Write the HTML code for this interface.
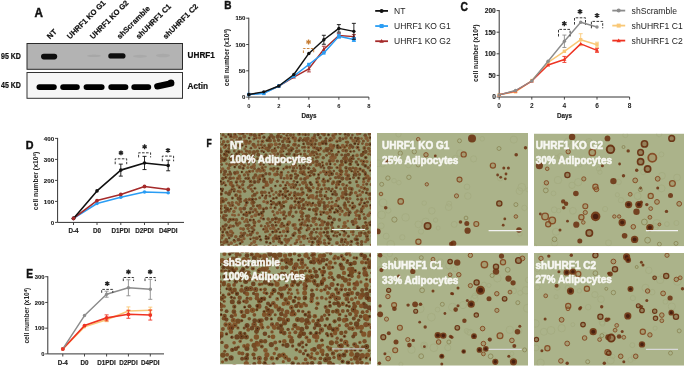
<!DOCTYPE html>
<html><head><meta charset="utf-8"><style>
html,body{margin:0;padding:0;background:#fff;}
body{width:685px;height:367px;overflow:hidden;}
svg text{font-family:"Liberation Sans", sans-serif;}
</style></head><body>
<svg width="685" height="367" viewBox="0 0 685 367" style="display:block;will-change:transform;filter:blur(0.2px)">
<defs><filter id="bblur" x="-10%" y="-10%" width="120%" height="120%"><feGaussianBlur stdDeviation="0.4"/></filter><filter id="blur" x="-5%" y="-5%" width="110%" height="110%"><feGaussianBlur stdDeviation="0.55"/></filter></defs>
<text x="0" y="0" font-size="12.6" font-weight="bold" fill="#111" stroke="#111" stroke-width="0.45" transform="translate(34.6 17) scale(0.93 1)">A</text>
<text x="50" y="39.5" font-size="7.6" font-weight="bold" text-anchor="start" fill="#111" transform="rotate(-45 50 39.5)" stroke="#111" stroke-width="0.2">NT</text>
<text x="70" y="39.5" font-size="7.6" font-weight="bold" text-anchor="start" fill="#111" transform="rotate(-45 70 39.5)" stroke="#111" stroke-width="0.2">UHRF1 KO G1</text>
<text x="93" y="39.5" font-size="7.6" font-weight="bold" text-anchor="start" fill="#111" transform="rotate(-45 93 39.5)" stroke="#111" stroke-width="0.2">UHRF1 KO G2</text>
<text x="120" y="39.5" font-size="7.6" font-weight="bold" text-anchor="start" fill="#111" transform="rotate(-45 120 39.5)" stroke="#111" stroke-width="0.2">shScramble</text>
<text x="139" y="39.5" font-size="7.6" font-weight="bold" text-anchor="start" fill="#111" transform="rotate(-45 139 39.5)" stroke="#111" stroke-width="0.2">shUHRF1 C1</text>
<text x="166" y="39.5" font-size="7.6" font-weight="bold" text-anchor="start" fill="#111" transform="rotate(-45 166 39.5)" stroke="#111" stroke-width="0.2">shUHRF1 C2</text>
<rect x="27" y="43.5" width="155.5" height="25.8" fill="#b3b3b3" stroke="#2a2a2a" stroke-width="1"/>
<rect x="27" y="72.5" width="155.5" height="25.8" fill="#f6f6f6" stroke="#333" stroke-width="1"/>
<g filter="url(#bblur)">
<rect x="41" y="53.8" width="16.2" height="5.6" rx="2.8" fill="#0a0a0a"/>
<rect x="108.3" y="53.2" width="17.2" height="5.4" rx="2.7" fill="#0a0a0a"/>
<ellipse cx="94" cy="55.8" rx="7" ry="1.3" fill="#9e9e9e" opacity="0.6"/>
<ellipse cx="140" cy="56.3" rx="7" ry="1.5" fill="#a0a0a0" opacity="0.5"/>
<ellipse cx="163" cy="55.5" rx="7" ry="1.8" fill="#a0a0a0" opacity="0.5"/>
<rect x="36.5" y="84.2" width="20.3" height="5.8" rx="2.9" fill="#050505"/>
<rect x="60.2" y="84.2" width="19.6" height="5.8" rx="2.9" fill="#050505"/>
<rect x="83.6" y="84.2" width="21" height="5.8" rx="2.9" fill="#050505"/>
<rect x="108.3" y="84.2" width="20.1" height="5.8" rx="2.9" fill="#050505"/>
<rect x="131.3" y="84.2" width="19.9" height="5.8" rx="2.9" fill="#050505"/>
<rect x="154" y="81.6" width="20.5" height="6.4" rx="3.1" fill="#050505" transform="rotate(-12 164.2 84.8)"/>
<ellipse cx="171" cy="82.3" rx="3.2" ry="2.7" fill="#050505"/>
</g>
<text x="0" y="0" font-size="8.2" font-weight="bold" fill="#111" stroke="#111" stroke-width="0.2" transform="translate(1 58.5) scale(0.86 1)">95 KD</text>
<text x="0" y="0" font-size="8.2" font-weight="bold" fill="#111" stroke="#111" stroke-width="0.2" transform="translate(1 88.4) scale(0.86 1)">45 KD</text>
<text x="187.6" y="57.5" font-size="8.2" font-weight="bold" text-anchor="start" fill="#111" stroke="#111" stroke-width="0.2">UHRF1</text>
<text x="187.6" y="89" font-size="8.2" font-weight="bold" text-anchor="start" fill="#111" stroke="#111" stroke-width="0.2">Actin</text>
<text x="0" y="0" font-size="11.4" font-weight="bold" fill="#111" stroke="#111" stroke-width="0.45" transform="translate(224.2 9.2) scale(0.88 1)">B</text>
<path d="M248.8 17.7V97.1H368.88" stroke="#333" stroke-width="1" fill="none"/>
<path d="M246.2 97.1H248.8" stroke="#333" stroke-width="0.9"/>
<text x="245.4" y="99.26" font-size="6.0" font-weight="bold" text-anchor="end" fill="#222" stroke="#222" stroke-width="0.12">0</text>
<path d="M246.2 70.8H248.8" stroke="#333" stroke-width="0.9"/>
<text x="245.4" y="72.96" font-size="6.0" font-weight="bold" text-anchor="end" fill="#222" stroke="#222" stroke-width="0.12">50</text>
<path d="M246.2 44.5H248.8" stroke="#333" stroke-width="0.9"/>
<text x="245.4" y="46.66" font-size="6.0" font-weight="bold" text-anchor="end" fill="#222" stroke="#222" stroke-width="0.12">100</text>
<path d="M246.2 18.2H248.8" stroke="#333" stroke-width="0.9"/>
<text x="245.4" y="20.36" font-size="6.0" font-weight="bold" text-anchor="end" fill="#222" stroke="#222" stroke-width="0.12">150</text>
<path d="M248.8 97.1V99.7" stroke="#333" stroke-width="0.9"/>
<path d="M278.82 97.1V99.7" stroke="#333" stroke-width="0.9"/>
<path d="M308.84 97.1V99.7" stroke="#333" stroke-width="0.9"/>
<path d="M338.86 97.1V99.7" stroke="#333" stroke-width="0.9"/>
<path d="M368.88 97.1V99.7" stroke="#333" stroke-width="0.9"/>
<text x="248.8" y="107.8" font-size="5.8" font-weight="bold" text-anchor="middle" fill="#222">0</text>
<text x="278.82" y="107.8" font-size="5.8" font-weight="bold" text-anchor="middle" fill="#222">2</text>
<text x="308.84" y="107.8" font-size="5.8" font-weight="bold" text-anchor="middle" fill="#222">4</text>
<text x="338.86" y="107.8" font-size="5.8" font-weight="bold" text-anchor="middle" fill="#222">6</text>
<text x="368.88" y="107.8" font-size="5.8" font-weight="bold" text-anchor="middle" fill="#222">8</text>
<text x="309" y="117.5" font-size="6.3" font-weight="bold" text-anchor="middle" fill="#222" stroke="#222" stroke-width="0.15">Days</text>
<text x="229" y="57.6" font-size="6.7" font-weight="bold" text-anchor="middle" fill="#222" transform="rotate(-90 229 57.6)">cell number (x10<tspan font-size="4.3" dy="-2.4">4</tspan><tspan dy="2.4">)</tspan></text>
<path d="M308.84 65.91V71.91M306.84 65.91H310.84M306.84 71.91H310.84" stroke="#a52a2a" stroke-width="0.9" fill="none"/>
<path d="M323.85 46.23V52.23M321.85 46.23H325.85M321.85 52.23H325.85" stroke="#a52a2a" stroke-width="0.9" fill="none"/>
<path d="M338.86 33.56V37.56M336.86 33.56H340.86M336.86 37.56H340.86" stroke="#a52a2a" stroke-width="0.9" fill="none"/>
<path d="M353.87 34.61V38.61M351.87 34.61H355.87M351.87 38.61H355.87" stroke="#a52a2a" stroke-width="0.9" fill="none"/>
<polyline points="248.8,94.47 263.81,92.89 278.82,86.05 293.83,77.11 308.84,68.91 323.85,49.23 338.86,35.56 353.87,36.61" stroke="#a52a2a" stroke-width="1.45" fill="none" stroke-linejoin="round"/>
<path d="M248.8 92.49 L250.78 95.91 L246.82 95.91Z" fill="#a52a2a"/>
<path d="M263.81 90.91 L265.79 94.33 L261.83 94.33Z" fill="#a52a2a"/>
<path d="M278.82 84.07 L280.8 87.49 L276.84 87.49Z" fill="#a52a2a"/>
<path d="M293.83 75.13 L295.81 78.55 L291.85 78.55Z" fill="#a52a2a"/>
<path d="M308.84 66.93 L310.82 70.35 L306.86 70.35Z" fill="#a52a2a"/>
<path d="M323.85 47.25 L325.83 50.67 L321.87 50.67Z" fill="#a52a2a"/>
<path d="M338.86 33.58 L340.84 37 L336.88 37Z" fill="#a52a2a"/>
<path d="M353.87 34.63 L355.85 38.05 L351.89 38.05Z" fill="#a52a2a"/>
<path d="M338.86 34.19V38.19M336.86 34.19H340.86M336.86 38.19H340.86" stroke="#2a9df4" stroke-width="0.9" fill="none"/>
<path d="M353.87 37.5V41.5M351.87 37.5H355.87M351.87 41.5H355.87" stroke="#2a9df4" stroke-width="0.9" fill="none"/>
<polyline points="248.8,94.47 263.81,93.42 278.82,86.05 293.83,76.06 308.84,64.49 323.85,52.92 338.86,36.19 353.87,39.5" stroke="#2a9df4" stroke-width="1.55" fill="none" stroke-linejoin="round"/>
<rect x="247.1" y="92.77" width="3.4" height="3.4" fill="#2a9df4"/>
<rect x="262.11" y="91.72" width="3.4" height="3.4" fill="#2a9df4"/>
<rect x="277.12" y="84.35" width="3.4" height="3.4" fill="#2a9df4"/>
<rect x="292.13" y="74.36" width="3.4" height="3.4" fill="#2a9df4"/>
<rect x="307.14" y="62.79" width="3.4" height="3.4" fill="#2a9df4"/>
<rect x="322.15" y="51.22" width="3.4" height="3.4" fill="#2a9df4"/>
<rect x="337.16" y="34.49" width="3.4" height="3.4" fill="#2a9df4"/>
<rect x="352.17" y="37.8" width="3.4" height="3.4" fill="#2a9df4"/>
<path d="M323.85 35.27V44.27M321.85 35.27H325.85M321.85 44.27H325.85" stroke="#111" stroke-width="0.9" fill="none"/>
<path d="M338.86 24.6V32.2M336.86 24.6H340.86M336.86 32.2H340.86" stroke="#111" stroke-width="0.9" fill="none"/>
<path d="M353.87 23.35V39.35M351.87 23.35H355.87M351.87 39.35H355.87" stroke="#111" stroke-width="0.9" fill="none"/>
<polyline points="248.8,94.47 263.81,91.84 278.82,86.05 293.83,74.48 308.84,53.44 323.85,39.77 338.86,28.4 353.87,31.35" stroke="#111" stroke-width="1.45" fill="none" stroke-linejoin="round"/>
<circle cx="248.8" cy="94.47" r="1.7" fill="#111"/>
<circle cx="263.81" cy="91.84" r="1.7" fill="#111"/>
<circle cx="278.82" cy="86.05" r="1.7" fill="#111"/>
<circle cx="293.83" cy="74.48" r="1.7" fill="#111"/>
<circle cx="308.84" cy="53.44" r="1.7" fill="#111"/>
<circle cx="323.85" cy="39.77" r="1.7" fill="#111"/>
<circle cx="338.86" cy="28.4" r="1.7" fill="#111"/>
<circle cx="353.87" cy="31.35" r="1.7" fill="#111"/>
<path d="M303.4 53V48.5H313.7V53" stroke="#c67c32" stroke-width="0.9" fill="none" stroke-dasharray="2.6 1.4"/><path d="M308.55 39.41L308.55 44.59M306.31 40.71L310.79 43.29M310.79 40.71L306.31 43.29" stroke="#c67c32" stroke-width="1.35" stroke-linecap="butt"/>
<path d="M375.2 10.9H388" stroke="#111" stroke-width="1.8"/>
<circle cx="381.6" cy="10.9" r="2.0" fill="#111"/>
<text x="394" y="14" font-size="8.5" font-weight="normal" text-anchor="start" fill="#222">NT</text>
<path d="M375.2 26.05H388" stroke="#2a9df4" stroke-width="1.8"/>
<rect x="379.6" y="24.05" width="4" height="4" fill="#2a9df4"/>
<text x="394" y="29.15" font-size="8.5" font-weight="normal" text-anchor="start" fill="#222">UHRF1 KO G1</text>
<path d="M375.2 41.2H388" stroke="#a52a2a" stroke-width="1.8"/>
<path d="M381.6 39 L383.8 42.8 L379.4 42.8Z" fill="#a52a2a"/>
<text x="394" y="44.3" font-size="8.5" font-weight="normal" text-anchor="start" fill="#222">UHRF1 KO G2</text>
<text x="0" y="0" font-size="12.2" font-weight="bold" fill="#111" stroke="#111" stroke-width="0.45" transform="translate(460.6 11.1) scale(0.84 1)">C</text>
<path d="M499.2 10.1V97H629.6" stroke="#333" stroke-width="1" fill="none"/>
<path d="M496.6 97H499.2" stroke="#333" stroke-width="0.9"/>
<text x="495.8" y="99.38" font-size="6.6" font-weight="bold" text-anchor="end" fill="#222" stroke="#222" stroke-width="0.12">0</text>
<path d="M496.6 75.4H499.2" stroke="#333" stroke-width="0.9"/>
<text x="495.8" y="77.78" font-size="6.6" font-weight="bold" text-anchor="end" fill="#222" stroke="#222" stroke-width="0.12">50</text>
<path d="M496.6 53.8H499.2" stroke="#333" stroke-width="0.9"/>
<text x="495.8" y="56.18" font-size="6.6" font-weight="bold" text-anchor="end" fill="#222" stroke="#222" stroke-width="0.12">100</text>
<path d="M496.6 32.2H499.2" stroke="#333" stroke-width="0.9"/>
<text x="495.8" y="34.58" font-size="6.6" font-weight="bold" text-anchor="end" fill="#222" stroke="#222" stroke-width="0.12">150</text>
<path d="M496.6 10.6H499.2" stroke="#333" stroke-width="0.9"/>
<text x="495.8" y="12.98" font-size="6.6" font-weight="bold" text-anchor="end" fill="#222" stroke="#222" stroke-width="0.12">200</text>
<path d="M499.2 97V99.6" stroke="#333" stroke-width="0.9"/>
<path d="M531.8 97V99.6" stroke="#333" stroke-width="0.9"/>
<path d="M564.4 97V99.6" stroke="#333" stroke-width="0.9"/>
<path d="M597 97V99.6" stroke="#333" stroke-width="0.9"/>
<path d="M629.6 97V99.6" stroke="#333" stroke-width="0.9"/>
<text x="499.2" y="108.2" font-size="6.6" font-weight="bold" text-anchor="middle" fill="#222">0</text>
<text x="531.8" y="108.2" font-size="6.6" font-weight="bold" text-anchor="middle" fill="#222">2</text>
<text x="564.4" y="108.2" font-size="6.6" font-weight="bold" text-anchor="middle" fill="#222">4</text>
<text x="597" y="108.2" font-size="6.6" font-weight="bold" text-anchor="middle" fill="#222">6</text>
<text x="629.6" y="108.2" font-size="6.6" font-weight="bold" text-anchor="middle" fill="#222">8</text>
<text x="564.5" y="118" font-size="6.3" font-weight="bold" text-anchor="middle" fill="#222" stroke="#222" stroke-width="0.15">Days</text>
<text x="478.5" y="53.2" font-size="6.7" font-weight="bold" text-anchor="middle" fill="#222" transform="rotate(-90 478.5 53.2)">cell number (x10<tspan font-size="4.3" dy="-2.4">4</tspan><tspan dy="2.4">)</tspan></text>
<path d="M580.7 33.72V45.72M578.7 33.72H582.7M578.7 45.72H582.7" stroke="#f9c877" stroke-width="0.9" fill="none"/>
<path d="M597 42.23V47.23M595 42.23H599M595 47.23H599" stroke="#f9c877" stroke-width="0.9" fill="none"/>
<polyline points="499.2,94.84 515.5,91.82 531.8,80.58 548.1,62.44 564.4,51.29 580.7,39.72 597,44.73" stroke="#f9c877" stroke-width="1.5" fill="none" stroke-linejoin="round"/>
<rect x="497.5" y="93.14" width="3.4" height="3.4" fill="#f9c877"/>
<rect x="513.8" y="90.12" width="3.4" height="3.4" fill="#f9c877"/>
<rect x="530.1" y="78.88" width="3.4" height="3.4" fill="#f9c877"/>
<rect x="546.4" y="60.74" width="3.4" height="3.4" fill="#f9c877"/>
<rect x="562.7" y="49.59" width="3.4" height="3.4" fill="#f9c877"/>
<rect x="579" y="38.02" width="3.4" height="3.4" fill="#f9c877"/>
<rect x="595.3" y="43.03" width="3.4" height="3.4" fill="#f9c877"/>
<path d="M564.4 56.42V62.42M562.4 56.42H566.4M562.4 62.42H566.4" stroke="#ee3322" stroke-width="0.9" fill="none"/>
<path d="M597 48.34V52.34M595 48.34H599M595 52.34H599" stroke="#ee3322" stroke-width="0.9" fill="none"/>
<polyline points="499.2,94.84 515.5,90.95 531.8,81.02 548.1,65.03 564.4,59.42 580.7,43.86 597,50.34" stroke="#ee3322" stroke-width="1.5" fill="none" stroke-linejoin="round"/>
<path d="M499.2 92.86 L501.18 96.28 L497.22 96.28Z" fill="#ee3322"/>
<path d="M515.5 88.97 L517.48 92.39 L513.52 92.39Z" fill="#ee3322"/>
<path d="M531.8 79.04 L533.78 82.46 L529.82 82.46Z" fill="#ee3322"/>
<path d="M548.1 63.05 L550.08 66.47 L546.12 66.47Z" fill="#ee3322"/>
<path d="M564.4 57.44 L566.38 60.86 L562.42 60.86Z" fill="#ee3322"/>
<path d="M580.7 41.88 L582.68 45.3 L578.72 45.3Z" fill="#ee3322"/>
<path d="M597 48.36 L598.98 51.78 L595.02 51.78Z" fill="#ee3322"/>
<path d="M564.4 35.07V47.47M562.4 35.07H566.4M562.4 47.47H566.4" stroke="#8c8c8c" stroke-width="0.9" fill="none"/>
<polyline points="499.2,94.84 515.5,90.52 531.8,81.02 548.1,61.32 564.4,41.27 580.7,22.26 597,27.02" stroke="#8c8c8c" stroke-width="1.4" fill="none" stroke-linejoin="round"/>
<circle cx="499.2" cy="94.84" r="1.7" fill="#8c8c8c"/>
<circle cx="515.5" cy="90.52" r="1.7" fill="#8c8c8c"/>
<circle cx="531.8" cy="81.02" r="1.7" fill="#8c8c8c"/>
<circle cx="548.1" cy="61.32" r="1.7" fill="#8c8c8c"/>
<circle cx="564.4" cy="41.27" r="1.7" fill="#8c8c8c"/>
<circle cx="580.7" cy="22.26" r="1.7" fill="#8c8c8c"/>
<circle cx="597" cy="27.02" r="1.7" fill="#8c8c8c"/>
<path d="M558.5 36.5V29.4H570.1V36.5" stroke="#222" stroke-width="0.9" fill="none" stroke-dasharray="2.6 1.4"/><path d="M564.3 21.11L564.3 26.29M562.06 22.41L566.54 24.99M566.54 22.41L562.06 24.99" stroke="#222" stroke-width="1.35" stroke-linecap="butt"/>
<path d="M574.5 24.6V17.8H585.5V24.6" stroke="#222" stroke-width="0.9" fill="none" stroke-dasharray="2.6 1.4"/><path d="M580 9.01L580 14.19M577.76 10.31L582.24 12.89M582.24 10.31L577.76 12.89" stroke="#222" stroke-width="1.35" stroke-linecap="butt"/>
<path d="M591.4 28.3V21.4H602.7V28.3" stroke="#222" stroke-width="0.9" fill="none" stroke-dasharray="2.6 1.4"/><path d="M597.05 12.91L597.05 18.09M594.81 14.21L599.29 16.79M599.29 14.21L594.81 16.79" stroke="#222" stroke-width="1.35" stroke-linecap="butt"/>
<path d="M612.3 10.6H625.2" stroke="#8c8c8c" stroke-width="1.8"/>
<circle cx="618.7" cy="10.6" r="2.0" fill="#8c8c8c"/>
<text x="631.6" y="13.7" font-size="8.6" font-weight="normal" text-anchor="start" fill="#222">shScramble</text>
<path d="M612.3 25.6H625.2" stroke="#f9c877" stroke-width="1.8"/>
<rect x="616.7" y="23.6" width="4" height="4" fill="#f9c877"/>
<text x="631.6" y="28.7" font-size="8.6" font-weight="normal" text-anchor="start" fill="#222">shUHRF1 C1</text>
<path d="M612.3 40.6H625.2" stroke="#ee3322" stroke-width="1.8"/>
<path d="M618.7 38.4 L620.9 42.2 L616.5 42.2Z" fill="#ee3322"/>
<text x="631.6" y="43.7" font-size="8.6" font-weight="normal" text-anchor="start" fill="#222">shUHRF1 C2</text>
<text x="0" y="0" font-size="11.3" font-weight="bold" fill="#111" stroke="#111" stroke-width="0.45" transform="translate(25.8 148.6) scale(0.95 1)">D</text>
<path d="M57.6 137.9V222.4H184" stroke="#333" stroke-width="1" fill="none"/>
<path d="M55 222.4H57.6" stroke="#333" stroke-width="0.9"/>
<text x="54.2" y="224.63" font-size="6.2" font-weight="bold" text-anchor="end" fill="#222" stroke="#222" stroke-width="0.12">0</text>
<path d="M55 201.4H57.6" stroke="#333" stroke-width="0.9"/>
<text x="54.2" y="203.63" font-size="6.2" font-weight="bold" text-anchor="end" fill="#222" stroke="#222" stroke-width="0.12">100</text>
<path d="M55 180.4H57.6" stroke="#333" stroke-width="0.9"/>
<text x="54.2" y="182.63" font-size="6.2" font-weight="bold" text-anchor="end" fill="#222" stroke="#222" stroke-width="0.12">200</text>
<path d="M55 159.4H57.6" stroke="#333" stroke-width="0.9"/>
<text x="54.2" y="161.63" font-size="6.2" font-weight="bold" text-anchor="end" fill="#222" stroke="#222" stroke-width="0.12">300</text>
<path d="M55 138.4H57.6" stroke="#333" stroke-width="0.9"/>
<text x="54.2" y="140.63" font-size="6.2" font-weight="bold" text-anchor="end" fill="#222" stroke="#222" stroke-width="0.12">400</text>
<path d="M73.5 222.4V225" stroke="#333" stroke-width="0.9"/>
<path d="M97 222.4V225" stroke="#333" stroke-width="0.9"/>
<path d="M120.8 222.4V225" stroke="#333" stroke-width="0.9"/>
<path d="M144.5 222.4V225" stroke="#333" stroke-width="0.9"/>
<path d="M168.2 222.4V225" stroke="#333" stroke-width="0.9"/>
<text x="73.5" y="233" font-size="6.3" font-weight="bold" text-anchor="middle" fill="#222" stroke="#222" stroke-width="0.15">D-4</text>
<text x="97" y="233" font-size="6.3" font-weight="bold" text-anchor="middle" fill="#222" stroke="#222" stroke-width="0.15">D0</text>
<text x="120.8" y="233" font-size="6.3" font-weight="bold" text-anchor="middle" fill="#222" stroke="#222" stroke-width="0.15">D1PDI</text>
<text x="144.5" y="233" font-size="6.3" font-weight="bold" text-anchor="middle" fill="#222" stroke="#222" stroke-width="0.15">D2PDI</text>
<text x="168.2" y="233" font-size="6.3" font-weight="bold" text-anchor="middle" fill="#222" stroke="#222" stroke-width="0.15">D4PDI</text>
<text x="38.4" y="181" font-size="6.8" font-weight="bold" text-anchor="middle" fill="#222" transform="rotate(-90 38.4 181)">cell number (x10<tspan font-size="4.3" dy="-2.4">4</tspan><tspan dy="2.4">)</tspan></text>
<polyline points="73.5,218.41 97,203.5 120.8,197.2 144.5,191.95 168.2,192.79" stroke="#2a9df4" stroke-width="1.6" fill="none" stroke-linejoin="round"/>
<circle cx="73.5" cy="218.41" r="1.8" fill="#2a9df4"/>
<circle cx="97" cy="203.5" r="1.8" fill="#2a9df4"/>
<circle cx="120.8" cy="197.2" r="1.8" fill="#2a9df4"/>
<circle cx="144.5" cy="191.95" r="1.8" fill="#2a9df4"/>
<circle cx="168.2" cy="192.79" r="1.8" fill="#2a9df4"/>
<polyline points="73.5,218.41 97,200.56 120.8,194.47 144.5,186.49 168.2,189.43" stroke="#a52a2a" stroke-width="1.6" fill="none" stroke-linejoin="round"/>
<circle cx="73.5" cy="218.41" r="1.9" fill="#a52a2a"/>
<circle cx="97" cy="200.56" r="1.9" fill="#a52a2a"/>
<circle cx="120.8" cy="194.47" r="1.9" fill="#a52a2a"/>
<circle cx="144.5" cy="186.49" r="1.9" fill="#a52a2a"/>
<circle cx="168.2" cy="189.43" r="1.9" fill="#a52a2a"/>
<path d="M120.8 164.11V176.11M118.8 164.11H122.8M118.8 176.11H122.8" stroke="#111" stroke-width="0.9" fill="none"/>
<path d="M144.5 156.37V169.57M142.5 156.37H146.5M142.5 169.57H146.5" stroke="#111" stroke-width="0.9" fill="none"/>
<path d="M168.2 160.19V170.79M166.2 160.19H170.2M166.2 170.79H170.2" stroke="#111" stroke-width="0.9" fill="none"/>
<polyline points="73.5,218.41 97,190.9 120.8,170.11 144.5,162.97 168.2,165.49" stroke="#111" stroke-width="1.6" fill="none" stroke-linejoin="round"/>
<circle cx="73.5" cy="218.41" r="1.8" fill="#111"/>
<circle cx="97" cy="190.9" r="1.8" fill="#111"/>
<circle cx="120.8" cy="170.11" r="1.8" fill="#111"/>
<circle cx="144.5" cy="162.97" r="1.8" fill="#111"/>
<circle cx="168.2" cy="165.49" r="1.8" fill="#111"/>
<circle cx="73.5" cy="218.41" r="1.8" fill="#a52a2a"/>
<path d="M115.2 164.2V158.8H126.7V164.2" stroke="#222" stroke-width="0.9" fill="none" stroke-dasharray="2.6 1.4"/><path d="M120.95 150.45L120.95 155.35M118.83 151.68L123.07 154.12M123.07 151.68L118.83 154.12" stroke="#222" stroke-width="1.35" stroke-linecap="butt"/>
<path d="M138.6 157.4V152.8H150.6V157.4" stroke="#222" stroke-width="0.9" fill="none" stroke-dasharray="2.6 1.4"/><path d="M144.6 144.35L144.6 149.25M142.48 145.58L146.72 148.03M146.72 145.58L142.48 148.03" stroke="#222" stroke-width="1.35" stroke-linecap="butt"/>
<path d="M162.3 161.3V156.1H173.6V161.3" stroke="#222" stroke-width="0.9" fill="none" stroke-dasharray="2.6 1.4"/><path d="M167.95 147.95L167.95 152.85M165.83 149.18L170.07 151.62M170.07 149.18L165.83 151.62" stroke="#222" stroke-width="1.35" stroke-linecap="butt"/>
<text x="0" y="0" font-size="12" font-weight="bold" fill="#111" stroke="#111" stroke-width="0.45" transform="translate(26.2 277.6) scale(0.85 1)">E</text>
<path d="M47.8 276.21V353.9H164" stroke="#333" stroke-width="1" fill="none"/>
<path d="M45.2 353.9H47.8" stroke="#333" stroke-width="0.9"/>
<text x="44.4" y="355.99" font-size="5.8" font-weight="bold" text-anchor="end" fill="#222" stroke="#222" stroke-width="0.12">0</text>
<path d="M45.2 328.17H47.8" stroke="#333" stroke-width="0.9"/>
<text x="44.4" y="330.26" font-size="5.8" font-weight="bold" text-anchor="end" fill="#222" stroke="#222" stroke-width="0.12">100</text>
<path d="M45.2 302.44H47.8" stroke="#333" stroke-width="0.9"/>
<text x="44.4" y="304.53" font-size="5.8" font-weight="bold" text-anchor="end" fill="#222" stroke="#222" stroke-width="0.12">200</text>
<path d="M45.2 276.71H47.8" stroke="#333" stroke-width="0.9"/>
<text x="44.4" y="278.8" font-size="5.8" font-weight="bold" text-anchor="end" fill="#222" stroke="#222" stroke-width="0.12">300</text>
<path d="M62.8 353.9V356.5" stroke="#333" stroke-width="0.9"/>
<path d="M84.5 353.9V356.5" stroke="#333" stroke-width="0.9"/>
<path d="M106.6 353.9V356.5" stroke="#333" stroke-width="0.9"/>
<path d="M128.4 353.9V356.5" stroke="#333" stroke-width="0.9"/>
<path d="M150.3 353.9V356.5" stroke="#333" stroke-width="0.9"/>
<text x="62.8" y="365" font-size="6.3" font-weight="bold" text-anchor="middle" fill="#222" stroke="#222" stroke-width="0.15">D-4</text>
<text x="84.5" y="365" font-size="6.3" font-weight="bold" text-anchor="middle" fill="#222" stroke="#222" stroke-width="0.15">D0</text>
<text x="106.6" y="365" font-size="6.3" font-weight="bold" text-anchor="middle" fill="#222" stroke="#222" stroke-width="0.15">D1PDI</text>
<text x="128.4" y="365" font-size="6.3" font-weight="bold" text-anchor="middle" fill="#222" stroke="#222" stroke-width="0.15">D2PDI</text>
<text x="150.3" y="365" font-size="6.3" font-weight="bold" text-anchor="middle" fill="#222" stroke="#222" stroke-width="0.15">D4PDI</text>
<text x="29.5" y="315.7" font-size="6.5" font-weight="bold" text-anchor="middle" fill="#222" transform="rotate(-90 29.5 315.7)">cell number (x10<tspan font-size="4.2" dy="-2.3">4</tspan><tspan dy="2.3">)</tspan></text>
<path d="M106.6 317.68V321.68M104.6 317.68H108.6M104.6 321.68H108.6" stroke="#f9c877" stroke-width="0.9" fill="none"/>
<path d="M128.4 306.93V314.93M126.4 306.93H130.4M126.4 314.93H130.4" stroke="#f9c877" stroke-width="0.9" fill="none"/>
<path d="M150.3 307.16V313.16M148.3 307.16H152.3M148.3 313.16H152.3" stroke="#f9c877" stroke-width="0.9" fill="none"/>
<polyline points="62.8,349.01 84.5,326.88 106.6,319.68 128.4,310.93 150.3,310.16" stroke="#f9c877" stroke-width="1.5" fill="none" stroke-linejoin="round"/>
<circle cx="62.8" cy="349.01" r="1.6" fill="#f9c877"/>
<circle cx="84.5" cy="326.88" r="1.6" fill="#f9c877"/>
<circle cx="106.6" cy="319.68" r="1.6" fill="#f9c877"/>
<circle cx="128.4" cy="310.93" r="1.6" fill="#f9c877"/>
<circle cx="150.3" cy="310.16" r="1.6" fill="#f9c877"/>
<path d="M106.6 314.88V320.88M104.6 314.88H108.6M104.6 320.88H108.6" stroke="#ee3322" stroke-width="0.9" fill="none"/>
<path d="M128.4 310.28V318.28M126.4 310.28H130.4M126.4 318.28H130.4" stroke="#ee3322" stroke-width="0.9" fill="none"/>
<path d="M150.3 310.05V320.05M148.3 310.05H152.3M148.3 320.05H152.3" stroke="#ee3322" stroke-width="0.9" fill="none"/>
<polyline points="62.8,349.01 84.5,325.6 106.6,317.88 128.4,314.28 150.3,315.05" stroke="#ee3322" stroke-width="1.6" fill="none" stroke-linejoin="round"/>
<circle cx="62.8" cy="349.01" r="1.9" fill="#ee3322"/>
<circle cx="84.5" cy="325.6" r="1.9" fill="#ee3322"/>
<circle cx="106.6" cy="317.88" r="1.9" fill="#ee3322"/>
<circle cx="128.4" cy="314.28" r="1.9" fill="#ee3322"/>
<circle cx="150.3" cy="315.05" r="1.9" fill="#ee3322"/>
<path d="M106.6 291.21V297.21M104.6 291.21H108.6M104.6 297.21H108.6" stroke="#8c8c8c" stroke-width="0.9" fill="none"/>
<path d="M128.4 279.77V295.77M126.4 279.77H130.4M126.4 295.77H130.4" stroke="#8c8c8c" stroke-width="0.9" fill="none"/>
<path d="M150.3 279.32V299.32M148.3 279.32H152.3M148.3 299.32H152.3" stroke="#8c8c8c" stroke-width="0.9" fill="none"/>
<polyline points="62.8,348.91 84.5,315.56 106.6,294.21 128.4,287.77 150.3,289.32" stroke="#8c8c8c" stroke-width="1.45" fill="none" stroke-linejoin="round"/>
<circle cx="62.8" cy="348.91" r="1.7" fill="#8c8c8c"/>
<circle cx="84.5" cy="315.56" r="1.7" fill="#8c8c8c"/>
<circle cx="106.6" cy="294.21" r="1.7" fill="#8c8c8c"/>
<circle cx="128.4" cy="287.77" r="1.7" fill="#8c8c8c"/>
<circle cx="150.3" cy="289.32" r="1.7" fill="#8c8c8c"/>
<circle cx="62.8" cy="349.01" r="1.8" fill="#ee3322"/>
<path d="M101.7 292.8V289.4H112.8V292.8" stroke="#222" stroke-width="0.9" fill="none" stroke-dasharray="2.6 1.4"/><path d="M107.25 281.15L107.25 286.05M105.13 282.38L109.37 284.83M109.37 282.38L105.13 284.83" stroke="#222" stroke-width="1.35" stroke-linecap="butt"/>
<path d="M123.3 281.1V277.5H133.6V281.1" stroke="#222" stroke-width="0.9" fill="none" stroke-dasharray="2.6 1.4"/><path d="M128.45 269.45L128.45 274.35M126.33 270.67L130.57 273.12M130.57 270.67L126.33 273.12" stroke="#222" stroke-width="1.35" stroke-linecap="butt"/>
<path d="M145 281.1V277.5H155.3V281.1" stroke="#222" stroke-width="0.9" fill="none" stroke-dasharray="2.6 1.4"/><path d="M150.15 269.45L150.15 274.35M148.03 270.67L152.27 273.12M152.27 270.67L148.03 273.12" stroke="#222" stroke-width="1.35" stroke-linecap="butt"/>
<text x="0" y="0" font-size="10.6" font-weight="bold" fill="#111" stroke="#111" stroke-width="0.45" transform="translate(206.5 147.2) scale(0.8 1)">F</text>
<svg x="220" y="133" width="151" height="112.8" viewBox="0 0 151 112.8" overflow="hidden">
<rect width="151" height="112.8" fill="#949a70"/>
<g filter="url(#blur)"><g fill="#704420" opacity="0.86"><circle cx="8.6" cy="-2.5" r="1.3"/><circle cx="44.2" cy="-0.8" r="1.5"/><circle cx="51.9" cy="-2.5" r="1.8"/><circle cx="60.1" cy="-0.9" r="2"/><circle cx="68.1" cy="-0.9" r="2.1"/><circle cx="116.3" cy="-2.7" r="1.7"/><circle cx="119.6" cy="-2.4" r="1.7"/><circle cx="147.4" cy="-2.7" r="2"/><circle cx="151.1" cy="-1.8" r="2.1"/><circle cx="3.1" cy="1.9" r="1.7"/><circle cx="51.2" cy="2.5" r="2"/><circle cx="63.7" cy="0.4" r="1.6"/><circle cx="70.7" cy="2.1" r="1.8"/><circle cx="88.5" cy="1.7" r="1.4"/><circle cx="139.8" cy="0.5" r="1.6"/><circle cx="149.4" cy="0.9" r="1.8"/><circle cx="151.9" cy="0.9" r="1.4"/><circle cx="5.7" cy="3.8" r="1.5"/><circle cx="53.3" cy="4.5" r="1.9"/><circle cx="80.3" cy="5.3" r="1.6"/><circle cx="87.8" cy="5.4" r="1.9"/><circle cx="106" cy="5.5" r="1.5"/><circle cx="110.6" cy="5.4" r="1.4"/><circle cx="150.2" cy="4.8" r="1.8"/><circle cx="16.7" cy="7.6" r="1.6"/><circle cx="18.4" cy="8" r="1.8"/><circle cx="26.4" cy="8.4" r="1.9"/><circle cx="50" cy="7.4" r="2"/><circle cx="69.4" cy="8.7" r="1.7"/><circle cx="86.4" cy="7.6" r="2.1"/><circle cx="96.1" cy="7.4" r="1.7"/><circle cx="120" cy="7.4" r="1.7"/><circle cx="127.5" cy="9.2" r="1.7"/><circle cx="136.5" cy="8" r="1.4"/><circle cx="143.4" cy="8" r="1.6"/><circle cx="152.1" cy="7" r="1.4"/><circle cx="2.3" cy="11.3" r="1.5"/><circle cx="5.8" cy="12.6" r="1.8"/><circle cx="9" cy="12.5" r="1.4"/><circle cx="14.4" cy="12.2" r="1.9"/><circle cx="18.6" cy="12.4" r="1.6"/><circle cx="33.5" cy="11.8" r="2.1"/><circle cx="41.3" cy="11.7" r="1.5"/><circle cx="49.2" cy="12.1" r="1.8"/><circle cx="83.7" cy="10.7" r="1.5"/><circle cx="88" cy="10.5" r="2"/><circle cx="91.4" cy="11.6" r="2.1"/><circle cx="95.1" cy="11" r="1.7"/><circle cx="142.4" cy="10.6" r="1.4"/><circle cx="8.8" cy="15.6" r="1.5"/><circle cx="11.3" cy="14.4" r="1.4"/><circle cx="82.4" cy="14.4" r="1.4"/><circle cx="106.4" cy="15.9" r="1.9"/><circle cx="109" cy="15.6" r="1.9"/><circle cx="152.2" cy="15.6" r="1.8"/><circle cx="14.3" cy="18" r="1.4"/><circle cx="18.8" cy="18.7" r="1.6"/><circle cx="26.4" cy="18.1" r="1.7"/><circle cx="34" cy="19.2" r="2.1"/><circle cx="37.4" cy="18.3" r="1.8"/><circle cx="43.8" cy="18.8" r="1.4"/><circle cx="48.4" cy="17.5" r="1.8"/><circle cx="69.3" cy="17.2" r="2"/><circle cx="71.2" cy="17.6" r="1.8"/><circle cx="76.6" cy="18.5" r="1.9"/><circle cx="79" cy="17.8" r="1.6"/><circle cx="130.6" cy="18.6" r="1.4"/><circle cx="0.2" cy="22.5" r="1.6"/><circle cx="16.5" cy="21.2" r="2"/><circle cx="18.3" cy="21.2" r="1.6"/><circle cx="26.2" cy="21.4" r="1.7"/><circle cx="61.9" cy="22.7" r="2.1"/><circle cx="74.5" cy="22.1" r="2.1"/><circle cx="77.7" cy="22.4" r="1.6"/><circle cx="97.1" cy="21.2" r="1.4"/><circle cx="112.6" cy="22" r="2"/><circle cx="133.1" cy="22.8" r="1.5"/><circle cx="5.2" cy="26" r="2.1"/><circle cx="10.6" cy="25.3" r="2"/><circle cx="20.5" cy="25.1" r="1.9"/><circle cx="30.4" cy="25.4" r="1.9"/><circle cx="48.9" cy="24.3" r="1.3"/><circle cx="68.7" cy="25.6" r="1.9"/><circle cx="87.2" cy="24" r="2.1"/><circle cx="92.7" cy="25.6" r="1.4"/><circle cx="103.3" cy="24.8" r="1.8"/><circle cx="124.1" cy="25.4" r="2"/><circle cx="145.7" cy="24.6" r="1.8"/><circle cx="4.1" cy="27.3" r="2"/><circle cx="11.1" cy="28.4" r="1.3"/><circle cx="32.5" cy="27.7" r="1.6"/><circle cx="43.5" cy="28" r="1.7"/><circle cx="78.3" cy="27.4" r="1.6"/><circle cx="109.8" cy="28.1" r="2"/><circle cx="-3" cy="30.6" r="1.4"/><circle cx="9.9" cy="31.9" r="2"/><circle cx="16.3" cy="31.3" r="1.8"/><circle cx="43.5" cy="31.7" r="1.3"/><circle cx="106.8" cy="31" r="1.7"/><circle cx="120.2" cy="32.2" r="1.5"/><circle cx="130.2" cy="31.2" r="1.9"/><circle cx="137.8" cy="31.5" r="1.5"/><circle cx="142.9" cy="31.2" r="1.6"/><circle cx="150.8" cy="32.3" r="1.5"/><circle cx="23.1" cy="35.3" r="1.6"/><circle cx="34.5" cy="35.6" r="1.5"/><circle cx="69.9" cy="34.1" r="1.6"/><circle cx="129.9" cy="35.8" r="2.1"/><circle cx="132.9" cy="34.9" r="1.4"/><circle cx="148.2" cy="34.7" r="1.7"/><circle cx="153.4" cy="34.3" r="2.1"/><circle cx="0.5" cy="38.6" r="1.9"/><circle cx="22" cy="39" r="1.3"/><circle cx="57.2" cy="38.5" r="1.3"/><circle cx="61.4" cy="39.4" r="1.7"/><circle cx="72.7" cy="37.9" r="1.7"/><circle cx="94.6" cy="37.4" r="1.9"/><circle cx="109.9" cy="39" r="2"/><circle cx="121.5" cy="38.6" r="2"/><circle cx="-1.4" cy="42.1" r="1.6"/><circle cx="4.2" cy="41.4" r="1.8"/><circle cx="35.5" cy="42.2" r="1.9"/><circle cx="49.6" cy="40.9" r="1.8"/><circle cx="71" cy="42.7" r="2"/><circle cx="90.1" cy="42.6" r="1.7"/><circle cx="93.9" cy="41.6" r="1.8"/><circle cx="105.9" cy="41.2" r="1.7"/><circle cx="28.2" cy="45.2" r="2"/><circle cx="33.7" cy="44.8" r="1.9"/><circle cx="39.9" cy="46.4" r="1.3"/><circle cx="64.2" cy="45.4" r="1.4"/><circle cx="80.9" cy="45.9" r="1.7"/><circle cx="115.6" cy="44.6" r="1.7"/><circle cx="118.7" cy="44.1" r="2.1"/><circle cx="138.7" cy="45" r="1.7"/><circle cx="145.8" cy="44.8" r="1.6"/><circle cx="8.3" cy="48" r="1.5"/><circle cx="11.1" cy="49.5" r="1.7"/><circle cx="16.5" cy="49.1" r="1.8"/><circle cx="30.6" cy="48.5" r="1.9"/><circle cx="38.3" cy="48.5" r="1.9"/><circle cx="57.3" cy="48.3" r="1.6"/><circle cx="63" cy="49.1" r="1.4"/><circle cx="74" cy="48.3" r="1.5"/><circle cx="85.5" cy="49.4" r="1.4"/><circle cx="117.8" cy="49.2" r="1.9"/><circle cx="22.7" cy="51.8" r="1.7"/><circle cx="32.2" cy="52.1" r="1.4"/><circle cx="60.4" cy="52.4" r="1.5"/><circle cx="112.4" cy="50.9" r="1.4"/><circle cx="151" cy="51.6" r="1.5"/><circle cx="11.8" cy="56.4" r="1.3"/><circle cx="14.2" cy="56.4" r="1.6"/><circle cx="23.1" cy="55.8" r="1.4"/><circle cx="51.1" cy="55.5" r="1.5"/><circle cx="63.6" cy="55.6" r="1.4"/><circle cx="71.1" cy="54.5" r="1.4"/><circle cx="81.8" cy="55.9" r="1.9"/><circle cx="101.6" cy="56.2" r="1.6"/><circle cx="116.3" cy="54.4" r="1.6"/><circle cx="125.1" cy="55.6" r="2.1"/><circle cx="131.8" cy="56" r="1.9"/><circle cx="147.2" cy="56.5" r="1.7"/><circle cx="2.2" cy="57.9" r="1.4"/><circle cx="6" cy="59.7" r="1.7"/><circle cx="14.2" cy="58.3" r="1.3"/><circle cx="24.7" cy="58.2" r="1.6"/><circle cx="32.5" cy="58.3" r="1.5"/><circle cx="41.9" cy="59.6" r="2"/><circle cx="49.1" cy="59.8" r="1.4"/><circle cx="60.3" cy="58.5" r="1.8"/><circle cx="82.8" cy="59.9" r="2"/><circle cx="96.8" cy="59.2" r="1.5"/><circle cx="100.2" cy="58.8" r="1.9"/><circle cx="111.1" cy="58.1" r="1.4"/><circle cx="125.7" cy="58.3" r="1.7"/><circle cx="131.2" cy="59.8" r="1.9"/><circle cx="1.2" cy="61.1" r="1.8"/><circle cx="20.2" cy="62.9" r="1.4"/><circle cx="62.8" cy="61.6" r="1.8"/><circle cx="69.4" cy="61.7" r="1.8"/><circle cx="78.1" cy="61.2" r="2"/><circle cx="97" cy="62.9" r="1.4"/><circle cx="100.8" cy="62.4" r="2"/><circle cx="129.9" cy="61.5" r="1.8"/><circle cx="12.4" cy="65.1" r="1.6"/><circle cx="26.1" cy="66.7" r="1.6"/><circle cx="39.7" cy="64.8" r="1.5"/><circle cx="45.4" cy="64.9" r="1.8"/><circle cx="53.4" cy="65.5" r="1.6"/><circle cx="79.8" cy="65.2" r="1.5"/><circle cx="98.5" cy="66.6" r="1.3"/><circle cx="150.1" cy="65.5" r="1.9"/><circle cx="3" cy="68.3" r="2"/><circle cx="8.6" cy="70" r="1.6"/><circle cx="20.3" cy="68.5" r="1.8"/><circle cx="53.3" cy="69.8" r="1.9"/><circle cx="63.6" cy="69.3" r="1.8"/><circle cx="89.2" cy="69.9" r="1.7"/><circle cx="98.7" cy="69.6" r="1.8"/><circle cx="112.2" cy="69.1" r="1.4"/><circle cx="152.1" cy="68.2" r="1.4"/><circle cx="1.3" cy="72.8" r="1.5"/><circle cx="33.3" cy="72.9" r="1.6"/><circle cx="37.4" cy="72.7" r="1.5"/><circle cx="51.3" cy="71.3" r="1.5"/><circle cx="56.4" cy="71.4" r="1.9"/><circle cx="61.4" cy="72.3" r="2"/><circle cx="83.7" cy="72" r="2.1"/><circle cx="134.2" cy="73.5" r="2"/><circle cx="150.8" cy="72.5" r="1.8"/><circle cx="70.8" cy="75.1" r="1.9"/><circle cx="104.8" cy="75.5" r="2"/><circle cx="127.5" cy="76.5" r="1.7"/><circle cx="21.3" cy="79.1" r="1.4"/><circle cx="29.6" cy="79.5" r="1.9"/><circle cx="52.9" cy="78.6" r="1.5"/><circle cx="64" cy="79.2" r="1.9"/><circle cx="69.5" cy="80" r="2"/><circle cx="103.6" cy="79.3" r="1.8"/><circle cx="137.2" cy="78" r="1.7"/><circle cx="141.3" cy="78.4" r="2"/><circle cx="66.2" cy="83.1" r="1.3"/><circle cx="81.8" cy="83.2" r="1.9"/><circle cx="88.4" cy="83.2" r="2"/><circle cx="96.2" cy="81.3" r="1.8"/><circle cx="128.7" cy="82.1" r="1.5"/><circle cx="143.8" cy="81.3" r="1.3"/><circle cx="153.3" cy="81.6" r="1.4"/><circle cx="5.2" cy="86.4" r="2"/><circle cx="10.2" cy="86.8" r="2"/><circle cx="16.4" cy="86.9" r="1.9"/><circle cx="52.5" cy="86.6" r="1.8"/><circle cx="59.6" cy="86.6" r="1.9"/><circle cx="64.5" cy="85.4" r="1.7"/><circle cx="87.6" cy="86.3" r="2.1"/><circle cx="92.8" cy="85.6" r="1.5"/><circle cx="99.3" cy="86.2" r="1.8"/><circle cx="119.4" cy="86.9" r="1.8"/><circle cx="144.9" cy="85.2" r="1.9"/><circle cx="27.6" cy="89.1" r="1.4"/><circle cx="34.4" cy="89.4" r="2"/><circle cx="50.1" cy="89.1" r="1.7"/><circle cx="88.9" cy="88" r="1.6"/><circle cx="104.5" cy="89.1" r="1.6"/><circle cx="107.9" cy="90.2" r="1.9"/><circle cx="145.5" cy="89.5" r="1.6"/><circle cx="41.2" cy="92.8" r="1.5"/><circle cx="67.7" cy="91.6" r="1.9"/><circle cx="111.4" cy="92.1" r="1.6"/><circle cx="143.4" cy="93.6" r="1.9"/><circle cx="150.6" cy="91.8" r="1.7"/><circle cx="32" cy="94.8" r="1.8"/><circle cx="97.3" cy="95.8" r="1.5"/><circle cx="101" cy="95.8" r="1.5"/><circle cx="105.8" cy="95.5" r="1.9"/><circle cx="108.2" cy="94.9" r="1.3"/><circle cx="139.3" cy="94.8" r="1.3"/><circle cx="6.9" cy="99.6" r="1.8"/><circle cx="24.5" cy="100.3" r="1.8"/><circle cx="47.5" cy="98.3" r="1.5"/><circle cx="60" cy="99.3" r="1.3"/><circle cx="74.7" cy="100.2" r="1.8"/><circle cx="112.1" cy="98.3" r="1.7"/><circle cx="115.3" cy="99.6" r="1.7"/><circle cx="145" cy="100.3" r="1.9"/><circle cx="-1.1" cy="103.6" r="1.5"/><circle cx="11.4" cy="102.6" r="1.8"/><circle cx="46" cy="103.4" r="1.3"/><circle cx="55.8" cy="103.2" r="2"/><circle cx="65.8" cy="103" r="1.4"/><circle cx="73.3" cy="102.1" r="2"/><circle cx="97.4" cy="103.6" r="1.4"/><circle cx="105.8" cy="102.4" r="1.4"/><circle cx="113.9" cy="102.6" r="1.6"/><circle cx="128.4" cy="103.2" r="1.6"/><circle cx="146.9" cy="103.1" r="2.1"/><circle cx="6.2" cy="106.9" r="1.8"/><circle cx="13.9" cy="107.2" r="1.3"/><circle cx="33.6" cy="105.1" r="1.5"/><circle cx="36.7" cy="105.2" r="2"/><circle cx="46.1" cy="105.4" r="1.6"/><circle cx="48" cy="104.9" r="2"/><circle cx="59.2" cy="105.7" r="1.8"/><circle cx="68.5" cy="106.9" r="1.9"/><circle cx="91.3" cy="105.1" r="2.1"/><circle cx="94.8" cy="105.4" r="1.9"/><circle cx="121.8" cy="106.6" r="1.8"/><circle cx="135.4" cy="106.1" r="1.9"/><circle cx="147.4" cy="106.5" r="2"/><circle cx="7.1" cy="109" r="1.7"/><circle cx="59.5" cy="108.4" r="1.9"/><circle cx="75.2" cy="110.4" r="1.5"/><circle cx="92.7" cy="109.3" r="1.9"/><circle cx="104.6" cy="110.2" r="1.8"/><circle cx="124.7" cy="108.9" r="1.4"/><circle cx="131.3" cy="108.6" r="1.9"/><circle cx="141.7" cy="108.7" r="1.8"/><circle cx="80.8" cy="113.4" r="2"/><circle cx="83.7" cy="112.7" r="1.6"/><circle cx="123.2" cy="111.8" r="1.6"/><circle cx="130.8" cy="112.3" r="1.5"/></g><g fill="#784a24" opacity="0.86"><circle cx="14.4" cy="-1.5" r="1.8"/><circle cx="21.7" cy="-2.8" r="1.9"/><circle cx="28" cy="-2.7" r="2"/><circle cx="40.9" cy="-1.6" r="1.9"/><circle cx="57.2" cy="-2.2" r="1.7"/><circle cx="70.9" cy="-1.7" r="1.8"/><circle cx="91.5" cy="-2.7" r="1.7"/><circle cx="94.5" cy="-1.7" r="1.9"/><circle cx="99.2" cy="-2.7" r="1.6"/><circle cx="104.6" cy="-1.3" r="1.9"/><circle cx="130.5" cy="-0.9" r="1.4"/><circle cx="14.8" cy="1.5" r="1.8"/><circle cx="30.8" cy="1.5" r="2.1"/><circle cx="58.4" cy="1.9" r="1.8"/><circle cx="66.9" cy="2.3" r="1.6"/><circle cx="79" cy="1.2" r="1.9"/><circle cx="82.8" cy="1.5" r="1.3"/><circle cx="85.4" cy="1.6" r="1.7"/><circle cx="102.3" cy="0.4" r="1.7"/><circle cx="104" cy="1.6" r="2"/><circle cx="10.7" cy="3.7" r="1.8"/><circle cx="24.3" cy="3.7" r="2.1"/><circle cx="33.9" cy="5.8" r="1.6"/><circle cx="61" cy="3.9" r="1.8"/><circle cx="64.6" cy="5.7" r="2"/><circle cx="84.9" cy="5.9" r="2"/><circle cx="94.4" cy="4.6" r="1.9"/><circle cx="125.9" cy="4.8" r="1.9"/><circle cx="131.2" cy="5.1" r="1.8"/><circle cx="3.6" cy="8.8" r="1.8"/><circle cx="7.7" cy="8.6" r="1.6"/><circle cx="38.2" cy="8.6" r="1.3"/><circle cx="54.4" cy="7.8" r="1.7"/><circle cx="67.2" cy="8.4" r="1.7"/><circle cx="75.1" cy="7.7" r="1.6"/><circle cx="102.5" cy="9.2" r="1.9"/><circle cx="112" cy="7" r="1.4"/><circle cx="126.1" cy="9.1" r="1.4"/><circle cx="139" cy="8.6" r="1.5"/><circle cx="22.1" cy="12.1" r="1.8"/><circle cx="29.1" cy="10.4" r="1.3"/><circle cx="38.2" cy="11.9" r="1.6"/><circle cx="74.8" cy="11.7" r="2.1"/><circle cx="0" cy="16.1" r="1.8"/><circle cx="30.9" cy="15.2" r="1.4"/><circle cx="46.3" cy="15.5" r="2.1"/><circle cx="54.9" cy="15.5" r="1.4"/><circle cx="62" cy="15.2" r="2"/><circle cx="71.3" cy="14.7" r="1.5"/><circle cx="76.8" cy="15" r="1.4"/><circle cx="84.6" cy="14.2" r="1.6"/><circle cx="144.4" cy="15" r="2"/><circle cx="148.6" cy="15.6" r="1.8"/><circle cx="29.7" cy="19.1" r="2.1"/><circle cx="52.4" cy="17.8" r="2.1"/><circle cx="55.3" cy="17.8" r="1.9"/><circle cx="60.8" cy="18.9" r="1.8"/><circle cx="95.6" cy="19.3" r="1.7"/><circle cx="98.6" cy="17.2" r="1.6"/><circle cx="104.1" cy="18" r="1.8"/><circle cx="118.5" cy="19" r="1.6"/><circle cx="123.1" cy="17.5" r="1.8"/><circle cx="126.2" cy="17.7" r="2"/><circle cx="139.1" cy="17.1" r="1.3"/><circle cx="150" cy="18.2" r="1.6"/><circle cx="4.6" cy="21.4" r="2"/><circle cx="33.7" cy="21.4" r="1.6"/><circle cx="50.3" cy="21.7" r="1.4"/><circle cx="84.7" cy="21.4" r="1.8"/><circle cx="100" cy="21.4" r="1.4"/><circle cx="109.4" cy="20.5" r="1.7"/><circle cx="143.1" cy="21" r="1.7"/><circle cx="14.5" cy="24.5" r="1.9"/><circle cx="56.9" cy="23.9" r="1.5"/><circle cx="59.4" cy="26.1" r="1.3"/><circle cx="83.9" cy="24.9" r="2"/><circle cx="98.2" cy="24.1" r="1.5"/><circle cx="126.5" cy="25.7" r="2"/><circle cx="131.3" cy="25.2" r="2.1"/><circle cx="138.5" cy="26.1" r="1.4"/><circle cx="47.8" cy="28.9" r="1.5"/><circle cx="59" cy="27.7" r="2.1"/><circle cx="61.6" cy="28.8" r="1.5"/><circle cx="93" cy="29" r="2"/><circle cx="141.1" cy="27.8" r="1.6"/><circle cx="21.5" cy="31.2" r="1.4"/><circle cx="28.5" cy="31" r="1.7"/><circle cx="50" cy="30.9" r="1.7"/><circle cx="53.3" cy="30.7" r="1.6"/><circle cx="75.3" cy="31.9" r="1.9"/><circle cx="79.8" cy="32.8" r="1.6"/><circle cx="86.4" cy="31.5" r="1.4"/><circle cx="90.4" cy="31.4" r="1.7"/><circle cx="103" cy="32.4" r="1.3"/><circle cx="122" cy="31.5" r="2"/><circle cx="31.6" cy="34.3" r="1.8"/><circle cx="42.3" cy="34.8" r="1.8"/><circle cx="45.5" cy="34" r="1.3"/><circle cx="66.6" cy="34.2" r="2"/><circle cx="93.7" cy="35.6" r="1.5"/><circle cx="111.7" cy="34.8" r="1.4"/><circle cx="135.8" cy="35.9" r="2.1"/><circle cx="17.1" cy="39.4" r="2"/><circle cx="26.6" cy="39.3" r="1.5"/><circle cx="29.5" cy="38.5" r="1.8"/><circle cx="32.7" cy="38" r="1.5"/><circle cx="68.2" cy="39.2" r="1.3"/><circle cx="80.8" cy="39.3" r="2"/><circle cx="103.8" cy="38.3" r="1.9"/><circle cx="126.4" cy="38.1" r="1.9"/><circle cx="131.5" cy="38" r="1.4"/><circle cx="134.8" cy="39.1" r="2"/><circle cx="150.1" cy="37.6" r="1.3"/><circle cx="15" cy="40.9" r="1.4"/><circle cx="19.4" cy="43.1" r="1.8"/><circle cx="24.4" cy="41.9" r="1.7"/><circle cx="61" cy="42" r="2"/><circle cx="77.7" cy="42.4" r="1.6"/><circle cx="85" cy="41.6" r="1.5"/><circle cx="98.6" cy="41.5" r="1.6"/><circle cx="109.3" cy="42.3" r="1.4"/><circle cx="128.2" cy="42.5" r="2.1"/><circle cx="145.5" cy="41.5" r="1.8"/><circle cx="152.4" cy="41.6" r="1.6"/><circle cx="6" cy="44.4" r="1.7"/><circle cx="13.4" cy="45" r="1.6"/><circle cx="44.1" cy="46.1" r="1.9"/><circle cx="49.9" cy="46.1" r="1.5"/><circle cx="110.3" cy="45.6" r="1.4"/><circle cx="127" cy="45.7" r="2.1"/><circle cx="129.6" cy="45.7" r="1.5"/><circle cx="20.6" cy="48.4" r="1.4"/><circle cx="46.3" cy="49.4" r="1.9"/><circle cx="50.9" cy="48.8" r="2.1"/><circle cx="67.3" cy="49.7" r="1.6"/><circle cx="83.1" cy="49.8" r="2.1"/><circle cx="102.7" cy="48" r="1.5"/><circle cx="104.3" cy="48.4" r="2"/><circle cx="113.4" cy="49.2" r="2"/><circle cx="136.5" cy="48.7" r="1.6"/><circle cx="-2.6" cy="52.7" r="1.4"/><circle cx="5.7" cy="52.2" r="1.4"/><circle cx="12.7" cy="53.1" r="2.1"/><circle cx="17.2" cy="52.3" r="1.4"/><circle cx="46.1" cy="52.4" r="1.7"/><circle cx="72.8" cy="51.5" r="1.8"/><circle cx="79.7" cy="51.9" r="1.3"/><circle cx="86.5" cy="52.1" r="1.8"/><circle cx="116.3" cy="51.7" r="1.4"/><circle cx="123" cy="51.6" r="1.8"/><circle cx="0.8" cy="56.1" r="1.5"/><circle cx="28.4" cy="54.4" r="1.6"/><circle cx="31" cy="56" r="1.6"/><circle cx="34.9" cy="55.3" r="1.5"/><circle cx="43.5" cy="54.4" r="1.6"/><circle cx="74" cy="54.3" r="1.9"/><circle cx="77.6" cy="55.8" r="1.4"/><circle cx="88.7" cy="55.6" r="2.1"/><circle cx="97.7" cy="55.5" r="1.8"/><circle cx="129.8" cy="55.3" r="1.9"/><circle cx="144.4" cy="55.5" r="1.9"/><circle cx="10.2" cy="58.5" r="1.9"/><circle cx="18.1" cy="58.2" r="1.5"/><circle cx="37" cy="59.7" r="1.5"/><circle cx="44.9" cy="59.3" r="1.8"/><circle cx="56.1" cy="59.5" r="1.4"/><circle cx="65.5" cy="58.8" r="2"/><circle cx="88.7" cy="57.8" r="1.7"/><circle cx="123" cy="59.9" r="2"/><circle cx="16.1" cy="62.2" r="2"/><circle cx="32.4" cy="63" r="1.4"/><circle cx="59.2" cy="61.8" r="2.1"/><circle cx="74.7" cy="62.6" r="2"/><circle cx="105.2" cy="62.9" r="1.9"/><circle cx="149.3" cy="61.2" r="2"/><circle cx="2" cy="65.7" r="2"/><circle cx="5.9" cy="66.6" r="1.8"/><circle cx="20.9" cy="65.7" r="1.3"/><circle cx="88.7" cy="64.8" r="1.8"/><circle cx="96.1" cy="64.9" r="1.8"/><circle cx="111.1" cy="65.3" r="1.5"/><circle cx="122.7" cy="64.6" r="2"/><circle cx="130" cy="65.4" r="1.5"/><circle cx="141.6" cy="66.5" r="1.9"/><circle cx="0.9" cy="68.9" r="2"/><circle cx="12.2" cy="69.6" r="1.7"/><circle cx="24.5" cy="67.8" r="1.3"/><circle cx="32.3" cy="69.9" r="2.1"/><circle cx="74.9" cy="68.3" r="1.6"/><circle cx="81.3" cy="68.4" r="1.7"/><circle cx="86.2" cy="69.4" r="1.6"/><circle cx="100.7" cy="69" r="2"/><circle cx="116.5" cy="67.9" r="1.5"/><circle cx="132.5" cy="70" r="1.6"/><circle cx="-3.2" cy="71.5" r="1.5"/><circle cx="10.3" cy="72.2" r="1.7"/><circle cx="12.5" cy="72.2" r="1.8"/><circle cx="18.6" cy="71.3" r="1.7"/><circle cx="71.3" cy="73.2" r="2"/><circle cx="79.2" cy="73" r="2"/><circle cx="87.6" cy="71.9" r="1.6"/><circle cx="91.4" cy="71.8" r="2.1"/><circle cx="107.7" cy="72.9" r="2"/><circle cx="125.4" cy="72.1" r="1.7"/><circle cx="139.5" cy="71.3" r="1.6"/><circle cx="143.2" cy="73.1" r="1.7"/><circle cx="146.4" cy="72.8" r="1.8"/><circle cx="0.5" cy="75.8" r="2"/><circle cx="5.2" cy="74.8" r="1.5"/><circle cx="11" cy="75.8" r="1.3"/><circle cx="43.4" cy="76.1" r="1.8"/><circle cx="59.5" cy="76.7" r="1.5"/><circle cx="85" cy="75.6" r="1.3"/><circle cx="110" cy="76.7" r="1.7"/><circle cx="112.2" cy="75.3" r="1.8"/><circle cx="125.3" cy="74.6" r="2"/><circle cx="132.8" cy="74.7" r="2"/><circle cx="151.2" cy="75.1" r="1.7"/><circle cx="-1.5" cy="78.6" r="1.9"/><circle cx="1.3" cy="79.2" r="1.7"/><circle cx="9" cy="77.9" r="1.8"/><circle cx="36.9" cy="79.1" r="1.6"/><circle cx="70.9" cy="78.5" r="1.4"/><circle cx="100.6" cy="78.9" r="1.4"/><circle cx="117.6" cy="78.4" r="2"/><circle cx="-0.7" cy="83.2" r="1.7"/><circle cx="4.2" cy="82.7" r="1.9"/><circle cx="54.2" cy="82" r="1.4"/><circle cx="63.5" cy="81.7" r="1.6"/><circle cx="69.4" cy="81.7" r="1.7"/><circle cx="101" cy="81.5" r="1.5"/><circle cx="13.3" cy="86.6" r="1.9"/><circle cx="22.4" cy="85.5" r="1.7"/><circle cx="33.5" cy="86.9" r="1.5"/><circle cx="48.2" cy="86.1" r="1.8"/><circle cx="79.3" cy="87" r="1.5"/><circle cx="82.6" cy="86.3" r="1.5"/><circle cx="-1.2" cy="89.3" r="1.4"/><circle cx="8.6" cy="88.8" r="1.5"/><circle cx="19.7" cy="90" r="1.8"/><circle cx="39" cy="88.2" r="1.8"/><circle cx="47.2" cy="90.3" r="1.6"/><circle cx="102" cy="88.2" r="1.8"/><circle cx="148.8" cy="90.1" r="1.5"/><circle cx="3.1" cy="93.4" r="1.6"/><circle cx="17.4" cy="91.7" r="2"/><circle cx="45.1" cy="93.4" r="1.4"/><circle cx="48.4" cy="92.9" r="1.6"/><circle cx="56.1" cy="92.2" r="1.5"/><circle cx="61.2" cy="93" r="2"/><circle cx="64" cy="92.9" r="1.7"/><circle cx="73.3" cy="92.1" r="1.9"/><circle cx="81" cy="91.6" r="2.1"/><circle cx="84.5" cy="91.9" r="1.7"/><circle cx="125.7" cy="93.3" r="1.5"/><circle cx="133.4" cy="91.6" r="1.5"/><circle cx="137.5" cy="93.7" r="1.7"/><circle cx="4.4" cy="96.1" r="2"/><circle cx="23.3" cy="96.1" r="1.8"/><circle cx="28" cy="95.6" r="1.7"/><circle cx="43.6" cy="96.2" r="1.5"/><circle cx="58.5" cy="96.1" r="1.3"/><circle cx="80.8" cy="95.2" r="1.8"/><circle cx="88.6" cy="95.6" r="2"/><circle cx="112.7" cy="94.9" r="1.7"/><circle cx="143.5" cy="96.5" r="1.4"/><circle cx="2.7" cy="98.8" r="1.6"/><circle cx="12.8" cy="100" r="1.5"/><circle cx="32.5" cy="99.1" r="1.9"/><circle cx="45.4" cy="98.9" r="1.4"/><circle cx="55.9" cy="98.2" r="2.1"/><circle cx="79.7" cy="99.4" r="1.8"/><circle cx="103.8" cy="99.2" r="1.5"/><circle cx="139.4" cy="100" r="1.6"/><circle cx="141.2" cy="99.8" r="1.8"/><circle cx="148.8" cy="99.3" r="2"/><circle cx="8.2" cy="101.8" r="1.9"/><circle cx="15.8" cy="103.7" r="1.8"/><circle cx="39.6" cy="103.5" r="1.6"/><circle cx="61.7" cy="102.8" r="1.4"/><circle cx="84.6" cy="103.2" r="1.8"/><circle cx="90.6" cy="101.6" r="2"/><circle cx="136.7" cy="103.2" r="1.4"/><circle cx="140" cy="102.3" r="2"/><circle cx="152.5" cy="102.9" r="1.9"/><circle cx="1.8" cy="104.9" r="1.5"/><circle cx="53.7" cy="105.6" r="2"/><circle cx="65.2" cy="106.7" r="1.9"/><circle cx="99.7" cy="105.7" r="1.8"/><circle cx="4.1" cy="109.3" r="2"/><circle cx="22.2" cy="108.7" r="1.5"/><circle cx="53.5" cy="108.4" r="1.4"/><circle cx="100.1" cy="109.3" r="2.1"/><circle cx="108.9" cy="110.1" r="1.8"/><circle cx="127.5" cy="109.9" r="2"/><circle cx="137.4" cy="110.3" r="1.9"/><circle cx="16.5" cy="112.4" r="1.6"/><circle cx="112.1" cy="113" r="1.6"/><circle cx="119.8" cy="113" r="1.8"/><circle cx="151.1" cy="112" r="1.3"/></g><g fill="#683e1c" opacity="0.86"><circle cx="-1.8" cy="-1" r="1.3"/><circle cx="1.9" cy="-1.8" r="1.5"/><circle cx="5.8" cy="-1.7" r="1.5"/><circle cx="18.8" cy="-0.9" r="1.9"/><circle cx="49.6" cy="-1.5" r="2"/><circle cx="83.1" cy="-2.9" r="1.7"/><circle cx="88.5" cy="-2.8" r="1.8"/><circle cx="112.1" cy="-1.7" r="1.8"/><circle cx="126" cy="-1.8" r="1.6"/><circle cx="141.6" cy="-2.7" r="2"/><circle cx="-1.1" cy="0.3" r="1.8"/><circle cx="8.6" cy="1.6" r="1.5"/><circle cx="10.8" cy="1.9" r="1.6"/><circle cx="22.5" cy="0.2" r="2.1"/><circle cx="34.7" cy="2.3" r="2"/><circle cx="73.6" cy="1.8" r="1.3"/><circle cx="94.6" cy="1.9" r="1.5"/><circle cx="98.1" cy="1.6" r="1.8"/><circle cx="108.4" cy="1.8" r="1.5"/><circle cx="115.6" cy="0.9" r="1.6"/><circle cx="120" cy="0.6" r="1.6"/><circle cx="125.2" cy="1.2" r="1.5"/><circle cx="128.2" cy="1.8" r="1.9"/><circle cx="132.4" cy="2.1" r="1.3"/><circle cx="145.2" cy="2.2" r="1.8"/><circle cx="-2.2" cy="5" r="1.7"/><circle cx="20.1" cy="5.5" r="2"/><circle cx="29.1" cy="5.1" r="1.4"/><circle cx="43.9" cy="4.2" r="1.7"/><circle cx="49.2" cy="4.8" r="1.7"/><circle cx="57.6" cy="3.8" r="2.1"/><circle cx="100.1" cy="4.7" r="1.7"/><circle cx="119.8" cy="5.2" r="1.4"/><circle cx="122.8" cy="5.8" r="1.5"/><circle cx="135.4" cy="4.9" r="1.5"/><circle cx="138.1" cy="5.6" r="1.9"/><circle cx="47.4" cy="7.2" r="1.9"/><circle cx="58.5" cy="7.3" r="1.7"/><circle cx="62.7" cy="8.5" r="1.7"/><circle cx="79.1" cy="7.5" r="1.7"/><circle cx="82.9" cy="7.3" r="1.6"/><circle cx="105.3" cy="8.7" r="2.1"/><circle cx="-1.2" cy="12" r="1.7"/><circle cx="44.5" cy="12.7" r="1.4"/><circle cx="59.6" cy="11.2" r="1.4"/><circle cx="63.6" cy="12.5" r="2.1"/><circle cx="68.2" cy="12.6" r="1.7"/><circle cx="78.7" cy="12.5" r="1.5"/><circle cx="102.7" cy="10.4" r="1.7"/><circle cx="106" cy="10.7" r="1.7"/><circle cx="113.8" cy="12.7" r="1.7"/><circle cx="117.7" cy="12.5" r="1.6"/><circle cx="130.5" cy="12.6" r="2"/><circle cx="134.8" cy="10.6" r="1.6"/><circle cx="150.3" cy="11.3" r="2.1"/><circle cx="49.5" cy="14" r="2"/><circle cx="58.2" cy="14.3" r="1.4"/><circle cx="65.8" cy="15" r="1.8"/><circle cx="72.9" cy="15.8" r="1.5"/><circle cx="97.1" cy="15.4" r="1.9"/><circle cx="118" cy="14.3" r="2.1"/><circle cx="132.7" cy="14.1" r="1.8"/><circle cx="-3.1" cy="18.8" r="1.7"/><circle cx="0.8" cy="18.6" r="2"/><circle cx="6.5" cy="18.6" r="2.1"/><circle cx="8.9" cy="18.9" r="1.8"/><circle cx="41.7" cy="18.1" r="1.4"/><circle cx="84.5" cy="17.8" r="1.4"/><circle cx="92.7" cy="19.2" r="2"/><circle cx="107.2" cy="17.7" r="1.8"/><circle cx="111.5" cy="17.7" r="1.7"/><circle cx="133.9" cy="18.3" r="1.3"/><circle cx="143.2" cy="19" r="1.3"/><circle cx="145.6" cy="18.8" r="2.1"/><circle cx="6.6" cy="22.4" r="1.8"/><circle cx="11.8" cy="21.7" r="1.3"/><circle cx="32.4" cy="22.4" r="1.9"/><circle cx="38.2" cy="21.8" r="2"/><circle cx="41.5" cy="22.8" r="1.6"/><circle cx="45.9" cy="21.9" r="1.7"/><circle cx="57.8" cy="20.9" r="1.6"/><circle cx="66.9" cy="21.2" r="1.4"/><circle cx="69" cy="20.8" r="1.9"/><circle cx="106.6" cy="22.3" r="1.4"/><circle cx="116.6" cy="21.7" r="1.7"/><circle cx="121.7" cy="21.9" r="1.4"/><circle cx="125.5" cy="22.6" r="2"/><circle cx="128.2" cy="21.6" r="1.9"/><circle cx="141.6" cy="21.9" r="2"/><circle cx="151.7" cy="21.6" r="1.8"/><circle cx="2" cy="25.2" r="1.8"/><circle cx="16.8" cy="25.2" r="1.4"/><circle cx="24" cy="24.3" r="1.6"/><circle cx="64.2" cy="24.8" r="2"/><circle cx="80.1" cy="26" r="1.9"/><circle cx="96.2" cy="24.6" r="1.3"/><circle cx="133.4" cy="25.7" r="1.4"/><circle cx="27.2" cy="27.6" r="1.9"/><circle cx="34.2" cy="29.3" r="1.7"/><circle cx="70.4" cy="27.8" r="1.4"/><circle cx="84.5" cy="28.6" r="1.7"/><circle cx="96.8" cy="28.5" r="1.9"/><circle cx="117.3" cy="28.1" r="1.7"/><circle cx="121.6" cy="28.4" r="1.8"/><circle cx="125.7" cy="28.8" r="2.1"/><circle cx="129.9" cy="27.6" r="2"/><circle cx="131.6" cy="28.6" r="1.4"/><circle cx="136.3" cy="29" r="1.7"/><circle cx="1.7" cy="31.6" r="1.4"/><circle cx="57.6" cy="30.9" r="1.8"/><circle cx="59.8" cy="31.6" r="1.5"/><circle cx="83.4" cy="32.9" r="1.6"/><circle cx="99.3" cy="31.5" r="2"/><circle cx="110.2" cy="31.1" r="1.3"/><circle cx="145.3" cy="32.8" r="1.9"/><circle cx="-1.4" cy="34.7" r="2.1"/><circle cx="14.8" cy="34.1" r="1.4"/><circle cx="19.7" cy="34.1" r="1.9"/><circle cx="38.6" cy="36" r="1.5"/><circle cx="54" cy="35.6" r="1.9"/><circle cx="57.7" cy="35.6" r="1.7"/><circle cx="73.6" cy="35.1" r="1.7"/><circle cx="80.9" cy="35.5" r="1.9"/><circle cx="84.6" cy="34.8" r="2"/><circle cx="88.7" cy="35.3" r="1.8"/><circle cx="101" cy="34.1" r="1.5"/><circle cx="104" cy="35.1" r="1.4"/><circle cx="109.1" cy="34.7" r="2"/><circle cx="126" cy="34.8" r="1.8"/><circle cx="-2.7" cy="39" r="1.3"/><circle cx="5.1" cy="38.5" r="2"/><circle cx="9.8" cy="38.8" r="1.4"/><circle cx="14.5" cy="39.6" r="1.5"/><circle cx="91.3" cy="38.9" r="2.1"/><circle cx="113.8" cy="38" r="1.3"/><circle cx="120.2" cy="37.6" r="1.8"/><circle cx="145.1" cy="39.5" r="1.6"/><circle cx="10.4" cy="40.9" r="1.9"/><circle cx="28.1" cy="41.7" r="1.4"/><circle cx="42.7" cy="42.7" r="2"/><circle cx="45.9" cy="40.8" r="1.7"/><circle cx="57.1" cy="41.2" r="1.8"/><circle cx="75.4" cy="41" r="1.6"/><circle cx="83" cy="40.8" r="1.7"/><circle cx="112" cy="41.1" r="2"/><circle cx="133.9" cy="41.7" r="1.3"/><circle cx="135.7" cy="41.7" r="2"/><circle cx="139.5" cy="41.4" r="1.6"/><circle cx="2.9" cy="45.6" r="1.8"/><circle cx="10.2" cy="45.2" r="1.9"/><circle cx="25.6" cy="45.5" r="1.3"/><circle cx="61" cy="44.7" r="1.5"/><circle cx="76" cy="44.7" r="2"/><circle cx="84.9" cy="46" r="1.9"/><circle cx="98.5" cy="45" r="1.8"/><circle cx="122.3" cy="45.6" r="2.1"/><circle cx="133.5" cy="44.4" r="1.5"/><circle cx="143.7" cy="45.7" r="1.5"/><circle cx="0.8" cy="48.4" r="1.5"/><circle cx="23.6" cy="48.5" r="1.6"/><circle cx="34.5" cy="49.1" r="2"/><circle cx="43.9" cy="48.1" r="1.9"/><circle cx="77.4" cy="49.1" r="1.4"/><circle cx="90.2" cy="49.8" r="1.7"/><circle cx="108" cy="47.9" r="1.7"/><circle cx="119.8" cy="48.6" r="1.7"/><circle cx="129.9" cy="49.6" r="1.7"/><circle cx="1.7" cy="51" r="1.4"/><circle cx="30.1" cy="52.6" r="1.5"/><circle cx="55.4" cy="53" r="1.3"/><circle cx="75.8" cy="52" r="1.7"/><circle cx="91.3" cy="51.4" r="1.7"/><circle cx="146.7" cy="51.1" r="1.6"/><circle cx="2.6" cy="56" r="1.5"/><circle cx="65.5" cy="55.2" r="1.8"/><circle cx="86.5" cy="54.5" r="1.6"/><circle cx="108.7" cy="55.9" r="1.8"/><circle cx="67.8" cy="58.2" r="1.4"/><circle cx="74.8" cy="59.7" r="1.7"/><circle cx="90.4" cy="57.7" r="1.9"/><circle cx="114.8" cy="58.8" r="1.7"/><circle cx="146.5" cy="59.8" r="1.5"/><circle cx="9" cy="61.1" r="2"/><circle cx="34.6" cy="61.8" r="2"/><circle cx="49.9" cy="63.1" r="1.5"/><circle cx="65.6" cy="63.1" r="1.8"/><circle cx="112.7" cy="61.2" r="1.6"/><circle cx="116" cy="61.5" r="2"/><circle cx="125.9" cy="61.3" r="2"/><circle cx="151.6" cy="61.1" r="2"/><circle cx="-2.9" cy="64.7" r="2"/><circle cx="18.7" cy="65.6" r="2.1"/><circle cx="32.3" cy="66.6" r="2"/><circle cx="35.7" cy="66.2" r="1.4"/><circle cx="56.4" cy="64.8" r="1.5"/><circle cx="67.8" cy="65.5" r="1.7"/><circle cx="71.6" cy="65.2" r="1.5"/><circle cx="83.1" cy="66.6" r="1.9"/><circle cx="107.4" cy="65.5" r="1.8"/><circle cx="126.7" cy="65.9" r="1.8"/><circle cx="137.7" cy="66.3" r="1.4"/><circle cx="26.8" cy="69.6" r="1.9"/><circle cx="33.9" cy="69.3" r="1.6"/><circle cx="51" cy="68" r="1.3"/><circle cx="59.2" cy="69.8" r="2.1"/><circle cx="78.7" cy="69.4" r="2"/><circle cx="93" cy="70" r="1.3"/><circle cx="104" cy="69.8" r="1.7"/><circle cx="124.8" cy="70" r="1.4"/><circle cx="128.4" cy="68.7" r="1.5"/><circle cx="144.6" cy="70" r="1.6"/><circle cx="147.5" cy="69" r="1.6"/><circle cx="39.7" cy="72.8" r="1.8"/><circle cx="63.8" cy="73.4" r="1.4"/><circle cx="99.3" cy="72" r="2"/><circle cx="104.6" cy="73" r="1.9"/><circle cx="118.2" cy="72.9" r="1.5"/><circle cx="124.1" cy="71.9" r="1.6"/><circle cx="7.3" cy="76.2" r="2.1"/><circle cx="24.2" cy="75.5" r="2"/><circle cx="31" cy="75.7" r="1.8"/><circle cx="46.4" cy="75.2" r="1.6"/><circle cx="55" cy="74.9" r="1.6"/><circle cx="61.5" cy="74.8" r="1.5"/><circle cx="74.6" cy="74.6" r="1.7"/><circle cx="78.9" cy="75" r="1.4"/><circle cx="82.4" cy="75.3" r="1.9"/><circle cx="89.5" cy="76.4" r="1.7"/><circle cx="93.8" cy="76.8" r="1.9"/><circle cx="96.7" cy="76" r="2.1"/><circle cx="116.2" cy="76.6" r="1.3"/><circle cx="120.1" cy="75.4" r="1.8"/><circle cx="141.7" cy="75.9" r="1.7"/><circle cx="5.4" cy="78.5" r="1.8"/><circle cx="32.9" cy="78.8" r="1.4"/><circle cx="41.7" cy="80" r="2"/><circle cx="43.5" cy="78.6" r="1.4"/><circle cx="76.1" cy="79.1" r="1.6"/><circle cx="82.6" cy="80.2" r="1.8"/><circle cx="114.6" cy="79.2" r="1.5"/><circle cx="129.5" cy="79.4" r="2.1"/><circle cx="6.5" cy="82.6" r="1.3"/><circle cx="23.8" cy="81.4" r="1.5"/><circle cx="26.5" cy="81.9" r="2"/><circle cx="38.9" cy="81.4" r="1.7"/><circle cx="72.9" cy="83.3" r="1.6"/><circle cx="86.4" cy="83" r="1.6"/><circle cx="3" cy="84.7" r="1.6"/><circle cx="30.3" cy="87" r="1.6"/><circle cx="43.6" cy="86.1" r="1.5"/><circle cx="55.9" cy="85.5" r="2.1"/><circle cx="95.2" cy="85.4" r="1.8"/><circle cx="110.2" cy="84.7" r="2"/><circle cx="114.1" cy="86.4" r="1.9"/><circle cx="139.4" cy="85.5" r="1.8"/><circle cx="16.2" cy="90.1" r="1.5"/><circle cx="62" cy="90.4" r="1.6"/><circle cx="82.1" cy="89.8" r="1.5"/><circle cx="112.1" cy="89.8" r="1.7"/><circle cx="132.5" cy="88.7" r="2"/><circle cx="150.8" cy="89.2" r="1.6"/><circle cx="5.9" cy="92.1" r="1.9"/><circle cx="13.4" cy="93" r="1.5"/><circle cx="26.2" cy="92.6" r="1.6"/><circle cx="28.8" cy="92.3" r="1.8"/><circle cx="52.4" cy="92.3" r="1.8"/><circle cx="87.3" cy="92.5" r="1.5"/><circle cx="91" cy="92.4" r="1.5"/><circle cx="100.2" cy="92.2" r="1.3"/><circle cx="107.5" cy="91.4" r="2"/><circle cx="118.5" cy="93.7" r="1.4"/><circle cx="-0.3" cy="96" r="2.1"/><circle cx="33.9" cy="96.8" r="1.5"/><circle cx="78.8" cy="97" r="1.7"/><circle cx="94" cy="96.5" r="1.4"/><circle cx="137.4" cy="95.7" r="1.6"/><circle cx="147" cy="95.2" r="1.7"/><circle cx="152.8" cy="96.5" r="1.5"/><circle cx="29.2" cy="98.3" r="1.3"/><circle cx="52.7" cy="99.1" r="1.6"/><circle cx="67.6" cy="98.4" r="1.8"/><circle cx="91.8" cy="99.3" r="1.8"/><circle cx="96.2" cy="99.3" r="1.4"/><circle cx="107.4" cy="99.4" r="1.8"/><circle cx="124" cy="98.5" r="1.3"/><circle cx="125.7" cy="99.9" r="1.6"/><circle cx="133.2" cy="98.7" r="1.5"/><circle cx="20.6" cy="103.5" r="1.7"/><circle cx="22.7" cy="102.6" r="2.1"/><circle cx="30.6" cy="101.6" r="1.9"/><circle cx="82.8" cy="103.5" r="1.6"/><circle cx="108" cy="103.6" r="2"/><circle cx="116.8" cy="103.1" r="1.5"/><circle cx="119.8" cy="101.5" r="1.4"/><circle cx="-0.7" cy="106.8" r="1.4"/><circle cx="9.3" cy="104.9" r="1.3"/><circle cx="18.5" cy="106.7" r="1.9"/><circle cx="40.7" cy="106.8" r="1.6"/><circle cx="56.6" cy="105.5" r="1.7"/><circle cx="108.4" cy="105.5" r="1.3"/><circle cx="110" cy="106.3" r="1.9"/><circle cx="137.1" cy="106.5" r="1.9"/><circle cx="0.5" cy="109.1" r="1.5"/><circle cx="20.1" cy="110.6" r="1.4"/><circle cx="46.5" cy="109.1" r="1.6"/><circle cx="50.1" cy="110.2" r="1.4"/><circle cx="61.6" cy="109.9" r="1.8"/><circle cx="97.9" cy="108.5" r="1.9"/><circle cx="121.4" cy="108.8" r="1.7"/><circle cx="2.2" cy="112.8" r="2"/><circle cx="8.7" cy="112" r="1.4"/><circle cx="65.5" cy="112.8" r="1.7"/><circle cx="91.8" cy="112.6" r="1.7"/><circle cx="138.2" cy="113.8" r="1.8"/><circle cx="141.5" cy="111.7" r="1.6"/></g><g fill="#805028" opacity="0.86"><circle cx="31.8" cy="-2.1" r="1.6"/><circle cx="37.9" cy="-2" r="1.5"/><circle cx="62.9" cy="-2.7" r="1.7"/><circle cx="75.4" cy="-3" r="1.8"/><circle cx="81.2" cy="-1.4" r="1.4"/><circle cx="108.3" cy="-2.7" r="1.6"/><circle cx="121.6" cy="-3" r="2.1"/><circle cx="134.7" cy="-1.1" r="1.4"/><circle cx="137.5" cy="-1" r="1.8"/><circle cx="19.8" cy="0.9" r="1.5"/><circle cx="27.1" cy="0.3" r="1.4"/><circle cx="39.4" cy="1.8" r="1.9"/><circle cx="41.9" cy="0.3" r="1.8"/><circle cx="113.4" cy="2.4" r="2.1"/><circle cx="137.5" cy="1.1" r="1.6"/><circle cx="1.4" cy="5.5" r="1.3"/><circle cx="13.8" cy="4.3" r="1.7"/><circle cx="16.2" cy="3.9" r="1.8"/><circle cx="36.2" cy="4.7" r="1.7"/><circle cx="39.6" cy="4.7" r="1.7"/><circle cx="68.4" cy="5.6" r="2"/><circle cx="73.3" cy="4.7" r="2"/><circle cx="75.2" cy="5.3" r="1.9"/><circle cx="92.7" cy="5.6" r="2.1"/><circle cx="114" cy="4.8" r="1.7"/><circle cx="141.5" cy="5.6" r="1.4"/><circle cx="146.3" cy="4.9" r="2"/><circle cx="-1.3" cy="9.2" r="2.1"/><circle cx="11.8" cy="7.9" r="2.1"/><circle cx="24.4" cy="8.1" r="1.8"/><circle cx="30.1" cy="8.8" r="1.8"/><circle cx="42.5" cy="8.4" r="2"/><circle cx="90.6" cy="7.9" r="1.9"/><circle cx="92.5" cy="7.9" r="2"/><circle cx="109.7" cy="7.4" r="1.9"/><circle cx="117" cy="8.3" r="1.7"/><circle cx="133.3" cy="7.7" r="1.9"/><circle cx="147.9" cy="7.4" r="1.5"/><circle cx="25.9" cy="10.5" r="1.9"/><circle cx="51.3" cy="11.8" r="1.9"/><circle cx="55.8" cy="11.3" r="2.1"/><circle cx="73.5" cy="11.8" r="1.5"/><circle cx="99.6" cy="11" r="2.1"/><circle cx="110.8" cy="12.4" r="2.1"/><circle cx="122.7" cy="12.6" r="1.8"/><circle cx="126.8" cy="12.5" r="1.7"/><circle cx="138.3" cy="10.8" r="1.4"/><circle cx="146.7" cy="11.4" r="1.9"/><circle cx="4.5" cy="14.3" r="1.8"/><circle cx="15.7" cy="15.1" r="1.8"/><circle cx="20.1" cy="14.2" r="1.3"/><circle cx="24.7" cy="15.9" r="1.4"/><circle cx="26" cy="13.9" r="1.3"/><circle cx="35.2" cy="13.9" r="1.9"/><circle cx="39.4" cy="15" r="1.3"/><circle cx="42.5" cy="14.8" r="1.8"/><circle cx="88.5" cy="14.4" r="1.7"/><circle cx="94.1" cy="14.4" r="2.1"/><circle cx="100.3" cy="15.4" r="2"/><circle cx="112.6" cy="14.7" r="2"/><circle cx="120.5" cy="14.6" r="1.6"/><circle cx="124.4" cy="14.2" r="1.8"/><circle cx="129.5" cy="15" r="1.7"/><circle cx="137.5" cy="14.4" r="2"/><circle cx="21.5" cy="18.8" r="1.6"/><circle cx="63.1" cy="18.2" r="1.4"/><circle cx="88.6" cy="18.2" r="1.7"/><circle cx="23.9" cy="21.3" r="1.8"/><circle cx="54.1" cy="21.4" r="1.9"/><circle cx="80.7" cy="21" r="1.5"/><circle cx="90.8" cy="21.5" r="2.1"/><circle cx="94" cy="22.3" r="1.4"/><circle cx="137" cy="22.4" r="1.8"/><circle cx="148.7" cy="21.2" r="1.4"/><circle cx="-0.7" cy="24.2" r="1.4"/><circle cx="33.6" cy="25.6" r="1.8"/><circle cx="37.3" cy="25.7" r="1.6"/><circle cx="44.7" cy="24.2" r="1.8"/><circle cx="52" cy="25.2" r="1.3"/><circle cx="72.1" cy="26.2" r="1.8"/><circle cx="77" cy="24.8" r="1.3"/><circle cx="111.2" cy="24.4" r="2"/><circle cx="114.7" cy="24.4" r="2"/><circle cx="0.8" cy="28.2" r="1.7"/><circle cx="16.9" cy="28.3" r="2"/><circle cx="18.9" cy="29.4" r="1.6"/><circle cx="22.5" cy="29.2" r="1.3"/><circle cx="51.2" cy="29.4" r="1.7"/><circle cx="53.4" cy="27.7" r="1.6"/><circle cx="65.9" cy="28.8" r="1.3"/><circle cx="75.2" cy="28.8" r="1.7"/><circle cx="81.7" cy="28.5" r="1.6"/><circle cx="89" cy="29.1" r="1.3"/><circle cx="102.4" cy="29.5" r="1.4"/><circle cx="113" cy="27.6" r="2"/><circle cx="143.5" cy="28.6" r="2"/><circle cx="146.9" cy="28.6" r="1.7"/><circle cx="152.2" cy="29.3" r="2"/><circle cx="6.6" cy="30.8" r="1.4"/><circle cx="12.9" cy="30.9" r="1.9"/><circle cx="24.2" cy="32.5" r="1.8"/><circle cx="34" cy="32.4" r="1.9"/><circle cx="40.5" cy="31.1" r="2"/><circle cx="72.8" cy="32.3" r="1.6"/><circle cx="96.5" cy="32" r="2.1"/><circle cx="114.9" cy="31.3" r="1.4"/><circle cx="2.7" cy="36" r="1.8"/><circle cx="8.5" cy="35.2" r="1.8"/><circle cx="27.8" cy="34.6" r="1.5"/><circle cx="50.8" cy="35.9" r="1.7"/><circle cx="63.6" cy="36" r="1.4"/><circle cx="77" cy="34.9" r="1.3"/><circle cx="117.1" cy="34.6" r="1.7"/><circle cx="120" cy="35.1" r="1.8"/><circle cx="140" cy="36.1" r="1.9"/><circle cx="37.1" cy="37.9" r="1.8"/><circle cx="40.4" cy="37.8" r="1.9"/><circle cx="43.8" cy="37.5" r="2"/><circle cx="53.2" cy="37.6" r="1.3"/><circle cx="75.5" cy="38.1" r="1.5"/><circle cx="83.6" cy="39" r="2"/><circle cx="88.6" cy="39.2" r="1.5"/><circle cx="100.6" cy="39.6" r="1.4"/><circle cx="106.9" cy="39.5" r="1.9"/><circle cx="138.1" cy="39" r="1.4"/><circle cx="143.1" cy="37.7" r="2"/><circle cx="7.7" cy="41.6" r="1.4"/><circle cx="40.1" cy="42.8" r="1.9"/><circle cx="55.2" cy="41.5" r="2.1"/><circle cx="67" cy="42.5" r="1.5"/><circle cx="116.8" cy="40.8" r="1.8"/><circle cx="120.6" cy="41.5" r="2"/><circle cx="126" cy="41.2" r="1.8"/><circle cx="147.8" cy="43.1" r="1.7"/><circle cx="-2.8" cy="45.6" r="1.5"/><circle cx="17.8" cy="45.5" r="1.9"/><circle cx="20.1" cy="45.6" r="1.4"/><circle cx="38.3" cy="45.1" r="2"/><circle cx="52.6" cy="46.4" r="1.5"/><circle cx="67.4" cy="44.8" r="1.9"/><circle cx="70.9" cy="45.4" r="1.6"/><circle cx="87.3" cy="44.3" r="2"/><circle cx="96.5" cy="46.1" r="1.3"/><circle cx="103.6" cy="46.2" r="1.6"/><circle cx="149.1" cy="45.6" r="2"/><circle cx="3.9" cy="49.7" r="1.7"/><circle cx="97.2" cy="49" r="2"/><circle cx="143.7" cy="48.7" r="1.7"/><circle cx="148.3" cy="47.8" r="1.6"/><circle cx="10.7" cy="51.1" r="2"/><circle cx="47.5" cy="51.8" r="1.9"/><circle cx="65.5" cy="52.2" r="1.4"/><circle cx="69.3" cy="51.8" r="1.7"/><circle cx="98.9" cy="52" r="2"/><circle cx="104" cy="52" r="1.8"/><circle cx="118.5" cy="51.6" r="1.7"/><circle cx="126.7" cy="52.6" r="1.6"/><circle cx="137.8" cy="52.7" r="1.9"/><circle cx="143.3" cy="51.8" r="1.3"/><circle cx="19.7" cy="54.3" r="2"/><circle cx="93.1" cy="54.6" r="1.6"/><circle cx="105.5" cy="55.4" r="1.7"/><circle cx="112.4" cy="56" r="1.5"/><circle cx="120.5" cy="55.9" r="1.3"/><circle cx="141.3" cy="54.3" r="1.6"/><circle cx="152.9" cy="54.5" r="1.9"/><circle cx="-2.8" cy="58.1" r="1.8"/><circle cx="20.1" cy="58.9" r="1.6"/><circle cx="51.9" cy="57.8" r="1.6"/><circle cx="71" cy="59.8" r="1.5"/><circle cx="106.3" cy="58.9" r="1.3"/><circle cx="135.7" cy="59.8" r="1.8"/><circle cx="139.6" cy="57.7" r="1.4"/><circle cx="142.5" cy="59.2" r="1.6"/><circle cx="42.2" cy="62.4" r="1.4"/><circle cx="46.3" cy="62.6" r="1.4"/><circle cx="53.6" cy="61.6" r="1.3"/><circle cx="81.2" cy="61.5" r="2"/><circle cx="87.1" cy="61.9" r="1.4"/><circle cx="90.8" cy="63.3" r="2"/><circle cx="92.6" cy="62.8" r="1.9"/><circle cx="122.1" cy="63.2" r="1.9"/><circle cx="137.5" cy="62.7" r="1.7"/><circle cx="140.2" cy="61.9" r="1.7"/><circle cx="29.5" cy="66.4" r="1.9"/><circle cx="63" cy="65" r="1.4"/><circle cx="76.2" cy="65.4" r="1.9"/><circle cx="92.9" cy="65.1" r="1.5"/><circle cx="102.2" cy="66" r="1.5"/><circle cx="118.3" cy="65.7" r="2"/><circle cx="146" cy="65.7" r="1.3"/><circle cx="16.4" cy="69.6" r="1.6"/><circle cx="43.9" cy="68.5" r="1.6"/><circle cx="47.3" cy="69.5" r="1.9"/><circle cx="65.9" cy="68.6" r="1.6"/><circle cx="109.1" cy="69.5" r="1.5"/><circle cx="140.9" cy="69.5" r="1.5"/><circle cx="5.3" cy="72.9" r="1.7"/><circle cx="25.8" cy="72.2" r="1.5"/><circle cx="75.8" cy="72.1" r="1.5"/><circle cx="95.4" cy="72.2" r="1.8"/><circle cx="111.7" cy="73.4" r="1.9"/><circle cx="115.5" cy="72.2" r="2.1"/><circle cx="129.9" cy="72.6" r="1.4"/><circle cx="15.5" cy="74.9" r="1.6"/><circle cx="20.5" cy="76.1" r="2"/><circle cx="35.2" cy="76.7" r="2"/><circle cx="39.7" cy="74.7" r="2.1"/><circle cx="50.8" cy="74.6" r="1.5"/><circle cx="143.1" cy="74.7" r="1.7"/><circle cx="13.9" cy="78.5" r="1.8"/><circle cx="26.4" cy="79.7" r="1.8"/><circle cx="57.5" cy="79.8" r="1.9"/><circle cx="60.9" cy="79.6" r="1.4"/><circle cx="80.9" cy="79.1" r="2"/><circle cx="95.9" cy="78.1" r="2"/><circle cx="107.1" cy="80" r="2.1"/><circle cx="110.3" cy="78.9" r="1.7"/><circle cx="122" cy="78.1" r="1.9"/><circle cx="126.2" cy="80.1" r="1.3"/><circle cx="135.4" cy="79.6" r="1.6"/><circle cx="150" cy="80.1" r="1.8"/><circle cx="12.5" cy="81.9" r="1.4"/><circle cx="14.7" cy="82.4" r="1.4"/><circle cx="18.7" cy="81.9" r="1.3"/><circle cx="31.7" cy="83.6" r="1.7"/><circle cx="35.4" cy="82.2" r="1.9"/><circle cx="42.5" cy="82.5" r="1.6"/><circle cx="109.4" cy="83.4" r="1.6"/><circle cx="120" cy="81.5" r="1.4"/><circle cx="125.1" cy="81.7" r="1.9"/><circle cx="136.5" cy="82.2" r="1.7"/><circle cx="139.1" cy="82.7" r="1.9"/><circle cx="148.4" cy="82.2" r="2"/><circle cx="-1.4" cy="85.5" r="1.8"/><circle cx="26.6" cy="86.7" r="1.8"/><circle cx="41.1" cy="85" r="1.5"/><circle cx="108.5" cy="85.1" r="1.6"/><circle cx="135.4" cy="86.2" r="1.8"/><circle cx="24.6" cy="88.7" r="1.4"/><circle cx="55.4" cy="88.9" r="1.5"/><circle cx="58.4" cy="89" r="1.7"/><circle cx="69" cy="89.6" r="2.1"/><circle cx="85.2" cy="88.9" r="1.8"/><circle cx="93.5" cy="88.3" r="2.1"/><circle cx="124.7" cy="90.1" r="2"/><circle cx="127.8" cy="88.1" r="1.3"/><circle cx="135.7" cy="89.5" r="1.9"/><circle cx="10.4" cy="93.2" r="1.9"/><circle cx="34.4" cy="92.8" r="1.7"/><circle cx="75" cy="91.7" r="1.6"/><circle cx="96.1" cy="91.5" r="1.8"/><circle cx="102.3" cy="91.6" r="2"/><circle cx="124" cy="93.4" r="2"/><circle cx="146.6" cy="92.5" r="2"/><circle cx="8.6" cy="95" r="1.5"/><circle cx="20.7" cy="95.5" r="1.6"/><circle cx="46.5" cy="96" r="1.9"/><circle cx="50.5" cy="95.4" r="1.5"/><circle cx="53.5" cy="95.1" r="2"/><circle cx="67.2" cy="95.7" r="2.1"/><circle cx="75.4" cy="95.2" r="2"/><circle cx="86.8" cy="96.9" r="1.5"/><circle cx="122.1" cy="96.7" r="1.8"/><circle cx="128.3" cy="95.5" r="1.4"/><circle cx="-2.1" cy="99" r="2"/><circle cx="10.9" cy="98.6" r="2"/><circle cx="21.2" cy="100.1" r="1.6"/><circle cx="37.3" cy="100.1" r="1.7"/><circle cx="63.7" cy="98.3" r="1.9"/><circle cx="100.3" cy="100.2" r="2"/><circle cx="117.7" cy="99.3" r="1.4"/><circle cx="131.2" cy="98.9" r="1.4"/><circle cx="2.8" cy="102.6" r="2"/><circle cx="27.5" cy="102.3" r="1.5"/><circle cx="50" cy="101.8" r="1.6"/><circle cx="59.1" cy="103.3" r="1.3"/><circle cx="79.2" cy="103.7" r="2"/><circle cx="101.2" cy="103.1" r="1.6"/><circle cx="124.1" cy="102.1" r="1.8"/><circle cx="133" cy="101.6" r="1.4"/><circle cx="21.3" cy="107" r="1.6"/><circle cx="24" cy="105.7" r="1.6"/><circle cx="30.5" cy="105.8" r="1.4"/><circle cx="70.9" cy="105.2" r="1.4"/><circle cx="76.9" cy="107.2" r="1.4"/><circle cx="79" cy="106.2" r="1.3"/><circle cx="84.1" cy="105.2" r="1.7"/><circle cx="87.7" cy="105.5" r="1.3"/><circle cx="104.4" cy="107.2" r="1.5"/><circle cx="125.3" cy="106.8" r="1.9"/><circle cx="11.2" cy="110.1" r="1.9"/><circle cx="14.7" cy="108.3" r="1.7"/><circle cx="31.5" cy="110.5" r="1.4"/><circle cx="34.3" cy="108.8" r="2"/><circle cx="66.9" cy="108.9" r="2"/><circle cx="76.7" cy="109.1" r="1.4"/><circle cx="80.7" cy="109" r="1.5"/><circle cx="89.3" cy="108.5" r="1.5"/><circle cx="117" cy="110" r="2"/><circle cx="145.5" cy="108.8" r="1.5"/><circle cx="14" cy="113.5" r="1.4"/><circle cx="24" cy="113.7" r="1.5"/><circle cx="30" cy="112.8" r="1.8"/><circle cx="34" cy="113.6" r="1.9"/><circle cx="36.2" cy="112.5" r="1.4"/><circle cx="44.7" cy="114" r="1.7"/><circle cx="48.5" cy="113.7" r="1.6"/><circle cx="53.3" cy="113.7" r="1.8"/><circle cx="55.9" cy="113.1" r="1.3"/><circle cx="70.9" cy="112.7" r="1.4"/><circle cx="98.2" cy="111.9" r="2.1"/><circle cx="106.2" cy="113.6" r="2"/><circle cx="126.5" cy="113.6" r="1.8"/></g><g fill="#2e1808" opacity="0.8"><circle cx="-1.7" cy="-0.7" r="0.7"/><circle cx="1.7" cy="-1.6" r="0.7"/><circle cx="5.9" cy="-2.1" r="0.7"/><circle cx="14.1" cy="-1.3" r="0.5"/><circle cx="19.1" cy="-1.3" r="0.7"/><circle cx="57.3" cy="-2.4" r="0.5"/><circle cx="71.1" cy="-2" r="0.7"/><circle cx="91.4" cy="-2.8" r="0.7"/><circle cx="94.2" cy="-1.7" r="0.6"/><circle cx="98.9" cy="-3.1" r="0.7"/><circle cx="125.6" cy="-2" r="0.7"/><circle cx="135.1" cy="-0.8" r="0.6"/><circle cx="-0.7" cy="0.4" r="0.6"/><circle cx="8.4" cy="1.4" r="0.6"/><circle cx="15.2" cy="1.6" r="0.6"/><circle cx="22.9" cy="0.2" r="0.6"/><circle cx="31.2" cy="1.2" r="0.5"/><circle cx="39.3" cy="2.2" r="0.6"/><circle cx="41.9" cy="0.7" r="0.7"/><circle cx="66.9" cy="2.6" r="0.5"/><circle cx="79.3" cy="1" r="0.8"/><circle cx="85.6" cy="2" r="0.7"/><circle cx="98.2" cy="2" r="0.7"/><circle cx="104.2" cy="1.9" r="0.5"/><circle cx="108.8" cy="1.8" r="0.7"/><circle cx="113" cy="2.7" r="0.5"/><circle cx="125.2" cy="1.3" r="0.5"/><circle cx="152.2" cy="1.1" r="0.5"/><circle cx="-2.6" cy="5.2" r="0.7"/><circle cx="1.2" cy="5.8" r="0.7"/><circle cx="10.9" cy="3.5" r="0.7"/><circle cx="29.1" cy="5.1" r="0.7"/><circle cx="34.3" cy="5.4" r="0.5"/><circle cx="36.2" cy="5" r="0.5"/><circle cx="44.2" cy="4.2" r="0.6"/><circle cx="49.5" cy="4.9" r="0.6"/><circle cx="60.8" cy="4.2" r="0.7"/><circle cx="68.3" cy="5.8" r="0.7"/><circle cx="73" cy="4.7" r="0.7"/><circle cx="93.1" cy="5.6" r="0.5"/><circle cx="106.1" cy="5.2" r="0.5"/><circle cx="130.9" cy="4.9" r="0.6"/><circle cx="135.2" cy="4.8" r="0.5"/><circle cx="137.8" cy="5.9" r="0.5"/><circle cx="150.3" cy="4.7" r="0.6"/><circle cx="-1.4" cy="9.2" r="0.7"/><circle cx="11.8" cy="8.2" r="0.6"/><circle cx="29.9" cy="8.6" r="0.5"/><circle cx="42.2" cy="8.4" r="0.6"/><circle cx="47" cy="7.5" r="0.6"/><circle cx="69.5" cy="8.9" r="0.6"/><circle cx="79.1" cy="7.4" r="0.7"/><circle cx="90.9" cy="7.9" r="0.7"/><circle cx="109.9" cy="7.4" r="0.7"/><circle cx="117.1" cy="8.6" r="0.7"/><circle cx="136.5" cy="7.9" r="0.5"/><circle cx="5.6" cy="12.3" r="0.7"/><circle cx="22.3" cy="12.4" r="0.6"/><circle cx="75" cy="11.7" r="0.5"/><circle cx="83.4" cy="11" r="0.7"/><circle cx="91.6" cy="11.3" r="0.5"/><circle cx="95.3" cy="11.1" r="0.6"/><circle cx="102.8" cy="10.4" r="0.5"/><circle cx="105.9" cy="10.6" r="0.8"/><circle cx="117.4" cy="12.8" r="0.8"/><circle cx="126.6" cy="12.2" r="0.5"/><circle cx="135" cy="10.6" r="0.8"/><circle cx="138.1" cy="11.2" r="0.8"/><circle cx="150.5" cy="11.3" r="0.7"/><circle cx="11.6" cy="14.1" r="0.7"/><circle cx="16" cy="15.1" r="0.8"/><circle cx="26" cy="13.5" r="0.6"/><circle cx="31.1" cy="15.2" r="0.6"/><circle cx="39.4" cy="15.4" r="0.5"/><circle cx="42.4" cy="14.5" r="0.6"/><circle cx="54.6" cy="15.6" r="0.6"/><circle cx="84.2" cy="14" r="0.5"/><circle cx="88.7" cy="14.4" r="0.5"/><circle cx="94.3" cy="14.6" r="0.6"/><circle cx="100.5" cy="15.2" r="0.6"/><circle cx="117.7" cy="14.4" r="0.5"/><circle cx="120.3" cy="14.7" r="0.6"/><circle cx="124.8" cy="14.1" r="0.6"/><circle cx="137.8" cy="14.4" r="0.8"/><circle cx="144.3" cy="15.1" r="0.7"/><circle cx="151.8" cy="15.3" r="0.5"/><circle cx="-3.4" cy="18.6" r="0.6"/><circle cx="6.8" cy="18.4" r="0.7"/><circle cx="8.6" cy="19" r="0.7"/><circle cx="19.1" cy="18.9" r="0.7"/><circle cx="43.6" cy="19.2" r="0.7"/><circle cx="63.5" cy="18.5" r="0.5"/><circle cx="71.3" cy="17.2" r="0.7"/><circle cx="98.5" cy="17.2" r="0.7"/><circle cx="111.5" cy="17.5" r="0.6"/><circle cx="118.5" cy="18.7" r="0.7"/><circle cx="125.8" cy="17.8" r="0.6"/><circle cx="130.3" cy="18.5" r="0.6"/><circle cx="143.2" cy="18.8" r="0.5"/><circle cx="4.3" cy="21.1" r="0.8"/><circle cx="12" cy="21.7" r="0.5"/><circle cx="16.7" cy="20.9" r="0.6"/><circle cx="50.6" cy="22.1" r="0.6"/><circle cx="66.5" cy="21.6" r="0.7"/><circle cx="74.5" cy="22" r="0.7"/><circle cx="80.8" cy="21.2" r="0.7"/><circle cx="94.2" cy="22.6" r="0.5"/><circle cx="96.9" cy="21.1" r="0.5"/><circle cx="132.9" cy="22.7" r="0.7"/><circle cx="5.3" cy="26.1" r="0.7"/><circle cx="10.6" cy="25" r="0.5"/><circle cx="16.7" cy="25.6" r="0.5"/><circle cx="33.8" cy="25.9" r="0.7"/><circle cx="37.3" cy="26.1" r="0.7"/><circle cx="44.7" cy="23.8" r="0.6"/><circle cx="52" cy="24.8" r="0.5"/><circle cx="59.1" cy="26.2" r="0.8"/><circle cx="64.3" cy="24.7" r="0.5"/><circle cx="131.6" cy="25.4" r="0.5"/><circle cx="145.8" cy="24.6" r="0.8"/><circle cx="4.4" cy="27" r="0.8"/><circle cx="11.2" cy="28.3" r="0.5"/><circle cx="18.7" cy="29.6" r="0.5"/><circle cx="22.6" cy="28.9" r="0.5"/><circle cx="32.6" cy="27.8" r="0.5"/><circle cx="47.5" cy="29.2" r="0.7"/><circle cx="65.7" cy="29.1" r="0.5"/><circle cx="70.3" cy="27.4" r="0.6"/><circle cx="78.1" cy="27.6" r="0.6"/><circle cx="102.3" cy="29.6" r="0.5"/><circle cx="109.8" cy="28.2" r="0.5"/><circle cx="125.7" cy="29.2" r="0.7"/><circle cx="143.7" cy="28.5" r="0.7"/><circle cx="-2.9" cy="30.5" r="0.7"/><circle cx="13.1" cy="30.6" r="0.5"/><circle cx="23.9" cy="32.6" r="0.6"/><circle cx="40.3" cy="31.1" r="0.5"/><circle cx="43.9" cy="31.6" r="0.6"/><circle cx="49.8" cy="31" r="0.6"/><circle cx="60" cy="31.2" r="0.6"/><circle cx="79.6" cy="32.7" r="0.6"/><circle cx="83.7" cy="32.5" r="0.6"/><circle cx="96.4" cy="31.9" r="0.5"/><circle cx="102.7" cy="32.8" r="0.7"/><circle cx="110.5" cy="31.1" r="0.8"/><circle cx="130.2" cy="30.9" r="0.8"/><circle cx="138.1" cy="31.9" r="0.8"/><circle cx="145.2" cy="33" r="0.8"/><circle cx="-1.4" cy="34.9" r="0.8"/><circle cx="14.5" cy="33.9" r="0.7"/><circle cx="23.2" cy="35.3" r="0.7"/><circle cx="42.4" cy="35.1" r="0.5"/><circle cx="51" cy="35.9" r="0.7"/><circle cx="57.9" cy="35.7" r="0.7"/><circle cx="63.5" cy="35.7" r="0.6"/><circle cx="66.9" cy="34.2" r="0.6"/><circle cx="80.6" cy="35.7" r="0.5"/><circle cx="88.3" cy="35.3" r="0.6"/><circle cx="117.2" cy="34.6" r="0.7"/><circle cx="126.2" cy="35.2" r="0.5"/><circle cx="140.1" cy="35.9" r="0.8"/><circle cx="-3" cy="38.7" r="0.8"/><circle cx="21.7" cy="39" r="0.7"/><circle cx="29.3" cy="38.5" r="0.6"/><circle cx="43.4" cy="37.1" r="0.5"/><circle cx="61.2" cy="39.5" r="0.6"/><circle cx="72.9" cy="37.8" r="0.6"/><circle cx="83.9" cy="39" r="0.6"/><circle cx="88.6" cy="39.6" r="0.7"/><circle cx="106.5" cy="39.5" r="0.7"/><circle cx="131.9" cy="38.3" r="0.8"/><circle cx="137.9" cy="38.6" r="0.6"/><circle cx="142.9" cy="38.1" r="0.8"/><circle cx="150.4" cy="37.4" r="0.7"/><circle cx="8" cy="41.8" r="0.5"/><circle cx="42.8" cy="42.9" r="0.7"/><circle cx="70.8" cy="42.5" r="0.5"/><circle cx="78" cy="42.4" r="0.5"/><circle cx="82.6" cy="41" r="0.5"/><circle cx="89.7" cy="42.6" r="0.7"/><circle cx="94.1" cy="41.5" r="0.6"/><circle cx="98.6" cy="41.7" r="0.8"/><circle cx="109" cy="42.2" r="0.5"/><circle cx="111.6" cy="40.8" r="0.7"/><circle cx="120.7" cy="41.5" r="0.6"/><circle cx="127.9" cy="42.8" r="0.6"/><circle cx="133.7" cy="42.1" r="0.5"/><circle cx="145.4" cy="41.2" r="0.7"/><circle cx="5.6" cy="44.2" r="0.8"/><circle cx="17.9" cy="45.2" r="0.5"/><circle cx="25.9" cy="45.1" r="0.5"/><circle cx="28.6" cy="45.2" r="0.5"/><circle cx="39.9" cy="46.2" r="0.7"/><circle cx="44.4" cy="45.7" r="0.6"/><circle cx="71" cy="45.5" r="0.8"/><circle cx="96.1" cy="45.8" r="0.6"/><circle cx="103.4" cy="46.2" r="0.7"/><circle cx="110.1" cy="45.9" r="0.5"/><circle cx="130" cy="45.9" r="0.8"/><circle cx="138.6" cy="45" r="0.8"/><circle cx="143.5" cy="46.1" r="0.5"/><circle cx="149" cy="46" r="0.6"/><circle cx="0.8" cy="48.4" r="0.6"/><circle cx="3.5" cy="49.9" r="0.6"/><circle cx="16.3" cy="49.3" r="0.6"/><circle cx="30.5" cy="48.6" r="0.5"/><circle cx="34.8" cy="49" r="0.6"/><circle cx="77.3" cy="49.4" r="0.8"/><circle cx="90.1" cy="49.8" r="0.7"/><circle cx="96.9" cy="49.3" r="0.8"/><circle cx="107.8" cy="47.9" r="0.6"/><circle cx="113.6" cy="48.9" r="0.5"/><circle cx="120" cy="48.7" r="0.8"/><circle cx="129.9" cy="49.2" r="0.5"/><circle cx="136.7" cy="49.1" r="0.6"/><circle cx="-2.3" cy="52.3" r="0.7"/><circle cx="5.3" cy="52.2" r="0.7"/><circle cx="13" cy="53.1" r="0.6"/><circle cx="55.3" cy="52.7" r="0.6"/><circle cx="65.8" cy="52.2" r="0.8"/><circle cx="76.1" cy="51.8" r="0.6"/><circle cx="90.9" cy="51.7" r="0.6"/><circle cx="98.6" cy="51.9" r="0.5"/><circle cx="104.2" cy="52" r="0.5"/><circle cx="118.9" cy="51.3" r="0.7"/><circle cx="126.7" cy="52.4" r="0.5"/><circle cx="0.7" cy="55.9" r="0.8"/><circle cx="12" cy="56.6" r="0.6"/><circle cx="19.3" cy="54.3" r="0.7"/><circle cx="34.8" cy="55.4" r="0.7"/><circle cx="43.3" cy="54.5" r="0.6"/><circle cx="63.4" cy="55.8" r="0.6"/><circle cx="73.6" cy="54.2" r="0.6"/><circle cx="88.9" cy="55.9" r="0.6"/><circle cx="101.3" cy="56.3" r="0.6"/><circle cx="112.3" cy="55.9" r="0.5"/><circle cx="116.3" cy="54.8" r="0.6"/><circle cx="131.6" cy="56.1" r="0.6"/><circle cx="144.6" cy="55.3" r="0.6"/><circle cx="2.4" cy="57.9" r="0.6"/><circle cx="14" cy="58.6" r="0.6"/><circle cx="49.4" cy="59.7" r="0.5"/><circle cx="51.9" cy="57.9" r="0.6"/><circle cx="60.6" cy="58.6" r="0.5"/><circle cx="67.8" cy="58.5" r="0.6"/><circle cx="83" cy="59.6" r="0.5"/><circle cx="90.3" cy="57.4" r="0.7"/><circle cx="96.8" cy="59" r="0.5"/><circle cx="106.5" cy="58.6" r="0.5"/><circle cx="111.2" cy="58.2" r="0.7"/><circle cx="130.8" cy="59.8" r="0.6"/><circle cx="139.2" cy="57.9" r="0.5"/><circle cx="142.9" cy="58.8" r="0.5"/><circle cx="146.2" cy="59.9" r="0.7"/><circle cx="1.3" cy="61" r="0.7"/><circle cx="15.7" cy="61.9" r="0.7"/><circle cx="42.4" cy="62.6" r="0.8"/><circle cx="46.1" cy="62.7" r="0.7"/><circle cx="59.3" cy="61.9" r="0.6"/><circle cx="62.4" cy="61.7" r="0.6"/><circle cx="65.4" cy="63.2" r="0.8"/><circle cx="69.7" cy="61.5" r="0.6"/><circle cx="74.4" cy="62.6" r="0.6"/><circle cx="87" cy="62.2" r="0.7"/><circle cx="104.8" cy="63.2" r="0.8"/><circle cx="112.6" cy="61.3" r="0.7"/><circle cx="126.1" cy="61" r="0.6"/><circle cx="130" cy="61.7" r="0.5"/><circle cx="137.3" cy="63.1" r="0.7"/><circle cx="149.7" cy="60.8" r="0.6"/><circle cx="-2.9" cy="64.8" r="0.7"/><circle cx="12.5" cy="65.1" r="0.6"/><circle cx="20.8" cy="65.9" r="0.5"/><circle cx="29.2" cy="66.3" r="0.5"/><circle cx="32.4" cy="66.5" r="0.7"/><circle cx="53.7" cy="65.3" r="0.6"/><circle cx="56.5" cy="64.8" r="0.5"/><circle cx="76.6" cy="65.7" r="0.6"/><circle cx="79.9" cy="65.3" r="0.6"/><circle cx="88.7" cy="65.1" r="0.5"/><circle cx="101.8" cy="66.1" r="0.5"/><circle cx="123.1" cy="64.5" r="0.6"/><circle cx="141.7" cy="66.9" r="0.7"/><circle cx="2.9" cy="67.9" r="0.7"/><circle cx="26.6" cy="69.6" r="0.8"/><circle cx="47.5" cy="69.3" r="0.5"/><circle cx="50.8" cy="68.3" r="0.7"/><circle cx="59.5" cy="70" r="0.7"/><circle cx="75" cy="68.6" r="0.8"/><circle cx="78.6" cy="69.2" r="0.7"/><circle cx="92.8" cy="70.2" r="0.7"/><circle cx="116.3" cy="67.7" r="0.6"/><circle cx="132.7" cy="70.3" r="0.7"/><circle cx="144.4" cy="70.2" r="0.7"/><circle cx="12.4" cy="72.2" r="0.5"/><circle cx="37.2" cy="73" r="0.5"/><circle cx="51.4" cy="71.5" r="0.7"/><circle cx="56.1" cy="71.7" r="0.5"/><circle cx="63.8" cy="73" r="0.7"/><circle cx="83.7" cy="72" r="0.6"/><circle cx="87.6" cy="71.6" r="0.6"/><circle cx="111.3" cy="73.7" r="0.5"/><circle cx="118.3" cy="73.3" r="0.7"/><circle cx="130" cy="72.2" r="0.5"/><circle cx="139.8" cy="71.6" r="0.7"/><circle cx="142.8" cy="73.4" r="0.5"/><circle cx="150.6" cy="72.2" r="0.7"/><circle cx="0.1" cy="75.5" r="0.7"/><circle cx="4.8" cy="74.5" r="0.6"/><circle cx="7.2" cy="76.2" r="0.5"/><circle cx="10.7" cy="75.7" r="0.7"/><circle cx="35.2" cy="76.9" r="0.5"/><circle cx="43.5" cy="76.3" r="0.7"/><circle cx="54.7" cy="74.6" r="0.6"/><circle cx="71.2" cy="74.9" r="0.6"/><circle cx="84.9" cy="75.4" r="0.5"/><circle cx="89.1" cy="76.7" r="0.6"/><circle cx="110" cy="77" r="0.8"/><circle cx="112" cy="75.2" r="0.8"/><circle cx="132.7" cy="74.6" r="0.8"/><circle cx="-1.1" cy="78.3" r="0.5"/><circle cx="1.7" cy="79.3" r="0.5"/><circle cx="26.5" cy="79.4" r="0.6"/><circle cx="29.9" cy="79.7" r="0.7"/><circle cx="41.5" cy="80.3" r="0.7"/><circle cx="43.2" cy="78.5" r="0.5"/><circle cx="95.8" cy="78.1" r="0.7"/><circle cx="103.7" cy="79.6" r="0.7"/><circle cx="114.6" cy="79.5" r="0.8"/><circle cx="117.6" cy="78.1" r="0.8"/><circle cx="122.3" cy="77.7" r="0.5"/><circle cx="129.3" cy="79.4" r="0.5"/><circle cx="141.7" cy="78.4" r="0.5"/><circle cx="150.4" cy="80.4" r="0.5"/><circle cx="-0.6" cy="82.9" r="0.5"/><circle cx="23.6" cy="81.4" r="0.5"/><circle cx="38.9" cy="81.2" r="0.7"/><circle cx="63.9" cy="81.8" r="0.5"/><circle cx="96.5" cy="81.1" r="0.6"/><circle cx="100.6" cy="81.2" r="0.8"/><circle cx="109.4" cy="83.5" r="0.8"/><circle cx="129" cy="82.1" r="0.8"/><circle cx="139.1" cy="83" r="0.7"/><circle cx="10.3" cy="86.6" r="0.6"/><circle cx="13.2" cy="86.4" r="0.7"/><circle cx="29.9" cy="87.1" r="0.7"/><circle cx="33.7" cy="86.7" r="0.7"/><circle cx="43.3" cy="85.8" r="0.7"/><circle cx="55.8" cy="85.7" r="0.6"/><circle cx="64.1" cy="85.5" r="0.6"/><circle cx="79.5" cy="86.8" r="0.7"/><circle cx="82.4" cy="86.2" r="0.5"/><circle cx="99.6" cy="86.2" r="0.5"/><circle cx="108.8" cy="85.4" r="0.7"/><circle cx="-1.3" cy="89.2" r="0.7"/><circle cx="55.6" cy="89.3" r="0.6"/><circle cx="104.6" cy="89.1" r="0.5"/><circle cx="112.2" cy="89.5" r="0.8"/><circle cx="145.8" cy="89.2" r="0.5"/><circle cx="150.8" cy="89" r="0.6"/><circle cx="3" cy="93.6" r="0.6"/><circle cx="34.2" cy="92.5" r="0.6"/><circle cx="55.9" cy="92.3" r="0.7"/><circle cx="63.9" cy="92.6" r="0.7"/><circle cx="67.6" cy="91.2" r="0.7"/><circle cx="73.2" cy="92" r="0.6"/><circle cx="81.2" cy="91.6" r="0.7"/><circle cx="87.7" cy="92.4" r="0.6"/><circle cx="133.1" cy="91.6" r="0.7"/><circle cx="137.5" cy="93.8" r="0.5"/><circle cx="146.8" cy="92.5" r="0.5"/><circle cx="150.2" cy="91.9" r="0.8"/><circle cx="4.6" cy="96" r="0.6"/><circle cx="9" cy="94.6" r="0.8"/><circle cx="43.5" cy="96.1" r="0.6"/><circle cx="58.2" cy="95.9" r="0.6"/><circle cx="78.6" cy="97" r="0.6"/><circle cx="80.5" cy="94.8" r="0.6"/><circle cx="86.7" cy="97.2" r="0.7"/><circle cx="97.2" cy="95.7" r="0.5"/><circle cx="106.1" cy="95.7" r="0.5"/><circle cx="122.3" cy="97.1" r="0.7"/><circle cx="137.8" cy="95.4" r="0.8"/><circle cx="139.1" cy="94.7" r="0.8"/><circle cx="-2.4" cy="98.9" r="0.8"/><circle cx="2.9" cy="99.1" r="0.8"/><circle cx="7.2" cy="99.3" r="0.5"/><circle cx="32.3" cy="98.8" r="0.8"/><circle cx="52.6" cy="98.7" r="0.8"/><circle cx="56.3" cy="98.1" r="0.6"/><circle cx="60" cy="99.4" r="0.7"/><circle cx="67.6" cy="98.5" r="0.7"/><circle cx="104.1" cy="99.4" r="0.8"/><circle cx="107.2" cy="99.1" r="0.5"/><circle cx="112" cy="98.4" r="0.8"/><circle cx="118" cy="99.4" r="0.5"/><circle cx="124.2" cy="98.4" r="0.8"/><circle cx="141.2" cy="99.9" r="0.7"/><circle cx="145.1" cy="100.1" r="0.5"/><circle cx="148.4" cy="99" r="0.5"/><circle cx="2.6" cy="102.6" r="0.5"/><circle cx="22.4" cy="102.6" r="0.5"/><circle cx="39.6" cy="103.6" r="0.7"/><circle cx="45.9" cy="103.4" r="0.7"/><circle cx="59" cy="103.7" r="0.8"/><circle cx="66.1" cy="102.8" r="0.5"/><circle cx="73.3" cy="102.4" r="0.8"/><circle cx="107.6" cy="103.5" r="0.5"/><circle cx="113.7" cy="102.4" r="0.5"/><circle cx="120" cy="101.8" r="0.7"/><circle cx="128.8" cy="103.3" r="0.5"/><circle cx="147.2" cy="103.5" r="0.6"/><circle cx="152.3" cy="103.3" r="0.6"/><circle cx="-0.4" cy="106.9" r="0.6"/><circle cx="9" cy="104.9" r="0.5"/><circle cx="14.1" cy="107" r="0.8"/><circle cx="30.5" cy="106.2" r="0.7"/><circle cx="40.5" cy="106.4" r="0.7"/><circle cx="46.1" cy="105.7" r="0.7"/><circle cx="48.2" cy="105.3" r="0.7"/><circle cx="56.9" cy="105.2" r="0.5"/><circle cx="59.5" cy="105.6" r="0.7"/><circle cx="87.4" cy="105.6" r="0.6"/><circle cx="95" cy="105.7" r="0.7"/><circle cx="108.3" cy="105.3" r="0.7"/><circle cx="109.8" cy="105.9" r="0.5"/><circle cx="122.2" cy="106.9" r="0.7"/><circle cx="125.5" cy="106.4" r="0.5"/><circle cx="137" cy="106.4" r="0.7"/><circle cx="7.1" cy="108.8" r="0.6"/><circle cx="20.3" cy="110.4" r="0.8"/><circle cx="46.8" cy="109.1" r="0.6"/><circle cx="50.5" cy="109.9" r="0.6"/><circle cx="61.8" cy="109.6" r="0.7"/><circle cx="77" cy="109.3" r="0.5"/><circle cx="92.5" cy="109.1" r="0.8"/><circle cx="108.9" cy="110.5" r="0.8"/><circle cx="117" cy="110.3" r="0.5"/><circle cx="124.4" cy="109" r="0.6"/><circle cx="131.5" cy="108.6" r="0.7"/><circle cx="137.8" cy="110.1" r="0.6"/><circle cx="30.1" cy="112.6" r="0.7"/><circle cx="34.3" cy="113.2" r="0.6"/><circle cx="44.9" cy="114.1" r="0.8"/><circle cx="48.2" cy="113.5" r="0.7"/><circle cx="53.5" cy="113.6" r="0.8"/><circle cx="65.2" cy="113" r="0.5"/><circle cx="70.9" cy="112.9" r="0.5"/><circle cx="83.9" cy="112.9" r="0.5"/><circle cx="91.6" cy="112.8" r="0.7"/><circle cx="98.5" cy="111.7" r="0.6"/><circle cx="119.8" cy="113" r="0.6"/></g></g>
</svg>
<text x="0" y="0" font-size="10.7" font-weight="bold" fill="#f7f7f2" stroke="#f7f7f2" stroke-width="0.55" transform="translate(229.9 148.9) scale(0.935 1)">NT</text>
<text x="0" y="0" font-size="10.7" font-weight="bold" fill="#f7f7f2" stroke="#f7f7f2" stroke-width="0.55" transform="translate(229.9 162.7) scale(0.935 1)">100% Adipocytes</text>
<path d="M332 229.5H365" stroke="#f2f2f2" stroke-width="1.2"/>
<svg x="377" y="133" width="151" height="112.8" viewBox="0 0 151 112.8" overflow="hidden">
<rect width="151" height="112.8" fill="#abb38a"/>
<g filter="url(#blur)"><g fill="none" stroke="#8a8e5c" stroke-width="0.8" opacity="0.22"><circle cx="71.7" cy="74.2" r="3.3"/><circle cx="21.5" cy="1.2" r="2.7"/><circle cx="41.4" cy="91.4" r="3.4"/><circle cx="90.8" cy="63" r="3.3"/><circle cx="21.9" cy="49.6" r="2.3"/><circle cx="136.8" cy="6.6" r="3.6"/><circle cx="11.3" cy="77.5" r="2.7"/><circle cx="61.1" cy="95" r="2"/><circle cx="9.2" cy="103.2" r="3"/><circle cx="13.7" cy="111.3" r="3.9"/><circle cx="17" cy="47.7" r="2.3"/><circle cx="47.2" cy="70.1" r="2.3"/><circle cx="105.2" cy="5.8" r="2.3"/><circle cx="123.2" cy="45.2" r="2.8"/><circle cx="90" cy="53.8" r="2.8"/><circle cx="4.6" cy="81.9" r="3.9"/><circle cx="147.4" cy="74.9" r="2.7"/><circle cx="54.8" cy="77.8" r="3.3"/><circle cx="17.2" cy="26.5" r="2.7"/><circle cx="77.2" cy="91.4" r="3"/><circle cx="4.2" cy="92.8" r="2.9"/><circle cx="78.4" cy="25.1" r="2.9"/><circle cx="58.6" cy="87.1" r="2.2"/><circle cx="83" cy="20.1" r="3.4"/><circle cx="5.6" cy="31.2" r="2.7"/><circle cx="96.2" cy="5.9" r="2.9"/><circle cx="31.5" cy="31.8" r="3"/><circle cx="144.8" cy="54.3" r="3.9"/><circle cx="25.3" cy="104.3" r="2.7"/><circle cx="28.6" cy="84.4" r="3.8"/><circle cx="1" cy="30.3" r="3.5"/><circle cx="51.6" cy="27.3" r="2"/><circle cx="6" cy="69.8" r="4"/><circle cx="150.8" cy="56.8" r="2"/><circle cx="48.7" cy="88.8" r="3.7"/><circle cx="96.6" cy="25.9" r="3.1"/><circle cx="72.1" cy="70.7" r="2.5"/><circle cx="142.9" cy="100.9" r="2.3"/><circle cx="44" cy="98.5" r="2.6"/><circle cx="142.5" cy="58.1" r="3.4"/></g><circle cx="41.2" cy="6.2" r="1.8" fill="#9a7444" fill-opacity="0.35" stroke="#80401a" stroke-width="0.9" stroke-opacity="0.85"/><circle cx="37.3" cy="18.7" r="2.2" fill="none" stroke="#857d4c" stroke-width="1" opacity="0.7"/><circle cx="49" cy="21.8" r="2.2" fill="#9a7444" fill-opacity="0.35" stroke="#80401a" stroke-width="1" stroke-opacity="0.85"/><circle cx="23.3" cy="20.2" r="2.2" fill="none" stroke="#857d4c" stroke-width="1" opacity="0.7"/><circle cx="58.3" cy="23" r="1.4" fill="#6a2e10" opacity="0.85"/><circle cx="41.2" cy="31.9" r="2" fill="none" stroke="#857d4c" stroke-width="1" opacity="0.7"/><circle cx="9.3" cy="28" r="2.1" fill="#6a2e10" opacity="0.85"/><circle cx="31.9" cy="44.3" r="2.2" fill="none" stroke="#857d4c" stroke-width="1" opacity="0.7"/><circle cx="10.9" cy="45.1" r="2.2" fill="none" stroke="#857d4c" stroke-width="1" opacity="0.7"/><circle cx="49.8" cy="51.3" r="1.7" fill="#9a7444" fill-opacity="0.35" stroke="#80401a" stroke-width="0.9" stroke-opacity="0.85"/><circle cx="4.7" cy="51.3" r="2" fill="none" stroke="#857d4c" stroke-width="1" opacity="0.7"/><circle cx="95" cy="5.4" r="4" fill="#6a2e10" opacity="0.85"/><circle cx="82.5" cy="7.8" r="2" fill="none" stroke="#857d4c" stroke-width="1" opacity="0.7"/><circle cx="86.7" cy="21.4" r="2.6" fill="#9a7444" fill-opacity="0.35" stroke="#80401a" stroke-width="1.2" stroke-opacity="0.85"/><circle cx="139.2" cy="21.7" r="1.8" fill="#6a2e10" opacity="0.85"/><circle cx="148.5" cy="14.8" r="1.7" fill="#6a2e10" opacity="0.85"/><circle cx="115.9" cy="32.6" r="2.6" fill="#9a7444" fill-opacity="0.35" stroke="#80401a" stroke-width="1.2" stroke-opacity="0.85"/><circle cx="126.8" cy="35" r="1.5" fill="#6a2e10" opacity="0.85"/><circle cx="131.4" cy="35" r="1.5" fill="#6a2e10" opacity="0.85"/><circle cx="129" cy="41" r="1.4" fill="#6a2e10" opacity="0.85"/><circle cx="120.6" cy="42" r="1.4" fill="#6a2e10" opacity="0.85"/><circle cx="123.7" cy="44.3" r="1.4" fill="#6a2e10" opacity="0.85"/><circle cx="128.3" cy="45.8" r="1.4" fill="#6a2e10" opacity="0.85"/><circle cx="82.5" cy="46.6" r="2.5" fill="#9a7444" fill-opacity="0.35" stroke="#80401a" stroke-width="1.1" stroke-opacity="0.85"/><circle cx="122" cy="15.5" r="2" fill="none" stroke="#857d4c" stroke-width="1" opacity="0.7"/><circle cx="4" cy="61" r="1.8" fill="#9a7444" fill-opacity="0.35" stroke="#80401a" stroke-width="0.9" stroke-opacity="0.85"/><circle cx="23.7" cy="68.4" r="2.8" fill="#9a7444" fill-opacity="0.35" stroke="#80401a" stroke-width="1.2" stroke-opacity="0.85"/><circle cx="8.7" cy="74.7" r="1.8" fill="#6a2e10" opacity="0.85"/><circle cx="17.4" cy="86.6" r="2.6" fill="none" stroke="#857d4c" stroke-width="1" opacity="0.7"/><circle cx="50.6" cy="92.9" r="3.2" fill="#80502a" fill-opacity="0.5" stroke="#652c0e" stroke-width="1.6" stroke-opacity="0.9"/><circle cx="0.8" cy="98.4" r="2.9" fill="#6a2e10" opacity="0.85"/><circle cx="41.4" cy="108.7" r="2.6" fill="#9a7444" fill-opacity="0.35" stroke="#80401a" stroke-width="1.2" stroke-opacity="0.85"/><circle cx="74.2" cy="111" r="2.3" fill="#6a2e10" opacity="0.85"/><circle cx="79.5" cy="62.9" r="2.1" fill="#9a7444" fill-opacity="0.35" stroke="#80401a" stroke-width="0.9" stroke-opacity="0.85"/><circle cx="122.3" cy="70.5" r="2.6" fill="#80502a" fill-opacity="0.5" stroke="#652c0e" stroke-width="1.3" stroke-opacity="0.9"/><circle cx="138.9" cy="83.5" r="1.8" fill="#9a7444" fill-opacity="0.35" stroke="#80401a" stroke-width="0.9" stroke-opacity="0.85"/><circle cx="89" cy="85" r="1.9" fill="none" stroke="#857d4c" stroke-width="1" opacity="0.7"/><circle cx="83.5" cy="89" r="1.8" fill="#6a2e10" opacity="0.85"/><circle cx="89.8" cy="90.6" r="2.5" fill="#6a2e10" opacity="0.85"/><circle cx="99.3" cy="91" r="2.5" fill="#9a7444" fill-opacity="0.35" stroke="#80401a" stroke-width="1.1" stroke-opacity="0.85"/><circle cx="90.6" cy="97.7" r="3.1" fill="#6a2e10" opacity="0.85"/><circle cx="127.8" cy="85.9" r="1.4" fill="#6a2e10" opacity="0.85"/><circle cx="126.2" cy="92.2" r="1.4" fill="#6a2e10" opacity="0.85"/><circle cx="142" cy="97" r="2.8" fill="#6a2e10" opacity="0.85"/><circle cx="76.4" cy="110.4" r="2.9" fill="#6a2e10" opacity="0.85"/><circle cx="138.9" cy="71.6" r="2" fill="none" stroke="#857d4c" stroke-width="1" opacity="0.7"/></g>
</svg>
<text x="0" y="0" font-size="10.7" font-weight="bold" fill="#f7f7f2" stroke="#f7f7f2" stroke-width="0.55" transform="translate(382.1 149.3) scale(0.935 1)">UHRF1 KO G1</text>
<text x="0" y="0" font-size="10.7" font-weight="bold" fill="#f7f7f2" stroke="#f7f7f2" stroke-width="0.55" transform="translate(382.1 164.2) scale(0.935 1)">25% Adipocytes</text>
<path d="M488.6 230.7H521.7" stroke="#f2f2f2" stroke-width="1.2"/>
<svg x="534" y="133.5" width="150" height="112.8" viewBox="0 0 150 112.8" overflow="hidden">
<rect width="150" height="112.8" fill="#abb38a"/>
<g filter="url(#blur)"><g fill="none" stroke="#8a8e5c" stroke-width="0.8" opacity="0.22"><circle cx="38.9" cy="77.3" r="3.4"/><circle cx="127.4" cy="20.9" r="2.5"/><circle cx="22.1" cy="25.4" r="3.5"/><circle cx="19.5" cy="59.9" r="2.4"/><circle cx="44.2" cy="48.7" r="3.7"/><circle cx="91.3" cy="1.6" r="2.6"/><circle cx="22" cy="98.3" r="3.6"/><circle cx="120.9" cy="93.2" r="3.5"/><circle cx="142.4" cy="89.5" r="2.5"/><circle cx="127.5" cy="54.9" r="3.5"/><circle cx="84.6" cy="48.5" r="2.7"/><circle cx="64.5" cy="35.4" r="2.2"/><circle cx="122.9" cy="90" r="4"/><circle cx="103.6" cy="62.5" r="3.5"/><circle cx="20.2" cy="76.3" r="2.9"/><circle cx="26.5" cy="22.9" r="3"/><circle cx="38" cy="51.8" r="3.2"/><circle cx="59.4" cy="14.8" r="3"/><circle cx="35.3" cy="26.6" r="2.4"/><circle cx="55" cy="8.3" r="3.3"/><circle cx="143" cy="44" r="3.4"/><circle cx="139.9" cy="4.9" r="2.3"/><circle cx="120.9" cy="94.5" r="3.3"/><circle cx="24" cy="46.6" r="3.7"/><circle cx="132.9" cy="90.6" r="2.4"/><circle cx="128" cy="42.3" r="3.4"/><circle cx="20.6" cy="109.6" r="3.2"/><circle cx="108.4" cy="23.9" r="3.2"/><circle cx="87.1" cy="66.7" r="2.7"/><circle cx="109.2" cy="38.5" r="2.6"/><circle cx="24.7" cy="77.2" r="2.2"/><circle cx="33.8" cy="7.8" r="3.3"/><circle cx="83.4" cy="61.3" r="2.1"/><circle cx="65.9" cy="38.7" r="2.2"/><circle cx="0.4" cy="112.6" r="2.2"/><circle cx="45.2" cy="30.3" r="3.2"/><circle cx="11.6" cy="53" r="2.7"/><circle cx="125.2" cy="0.6" r="2.7"/><circle cx="74.5" cy="109.4" r="3"/><circle cx="71.1" cy="75.5" r="2.6"/></g><circle cx="38.1" cy="3.4" r="3.2" fill="#6a2e10" opacity="0.85"/><circle cx="73.5" cy="4.9" r="2.9" fill="#6a2e10" opacity="0.85"/><circle cx="76.5" cy="15.8" r="3.8" fill="#80502a" fill-opacity="0.5" stroke="#652c0e" stroke-width="1.9" stroke-opacity="0.9"/><circle cx="58.3" cy="18.9" r="3.2" fill="#9a7444" fill-opacity="0.35" stroke="#80401a" stroke-width="1.4" stroke-opacity="0.85"/><circle cx="34.2" cy="18.2" r="2.2" fill="#9a7444" fill-opacity="0.35" stroke="#80401a" stroke-width="1" stroke-opacity="0.85"/><circle cx="5.4" cy="32.2" r="3.6" fill="#6a2e10" opacity="0.85"/><circle cx="13.2" cy="35.3" r="1.8" fill="#9a7444" fill-opacity="0.35" stroke="#80401a" stroke-width="0.9" stroke-opacity="0.85"/><circle cx="68.4" cy="32.2" r="1.5" fill="#6a2e10" opacity="0.85"/><circle cx="33.4" cy="41.5" r="2.6" fill="#80502a" fill-opacity="0.5" stroke="#652c0e" stroke-width="1.3" stroke-opacity="0.9"/><circle cx="49.8" cy="45.4" r="2.1" fill="#9a7444" fill-opacity="0.35" stroke="#80401a" stroke-width="0.9" stroke-opacity="0.85"/><circle cx="12.4" cy="49.3" r="2.2" fill="#9a7444" fill-opacity="0.35" stroke="#80401a" stroke-width="1" stroke-opacity="0.85"/><circle cx="61.4" cy="53.2" r="2.6" fill="#9a7444" fill-opacity="0.35" stroke="#80401a" stroke-width="1.2" stroke-opacity="0.85"/><circle cx="110.5" cy="10.4" r="3.1" fill="#80502a" fill-opacity="0.5" stroke="#652c0e" stroke-width="1.6" stroke-opacity="0.9"/><circle cx="137.7" cy="4.9" r="2.9" fill="#80502a" fill-opacity="0.5" stroke="#652c0e" stroke-width="1.4" stroke-opacity="0.9"/><circle cx="106.6" cy="18.9" r="2.9" fill="#80502a" fill-opacity="0.5" stroke="#652c0e" stroke-width="1.4" stroke-opacity="0.9"/><circle cx="118.3" cy="24.3" r="4.1" fill="#9a7444" fill-opacity="0.35" stroke="#80401a" stroke-width="1.8" stroke-opacity="0.85"/><circle cx="94.2" cy="17.4" r="1.7" fill="#6a2e10" opacity="0.85"/><circle cx="106.6" cy="28.2" r="3.1" fill="#80502a" fill-opacity="0.5" stroke="#652c0e" stroke-width="1.6" stroke-opacity="0.9"/><circle cx="113.6" cy="35.5" r="3.1" fill="#80502a" fill-opacity="0.5" stroke="#652c0e" stroke-width="1.6" stroke-opacity="0.9"/><circle cx="102.7" cy="36.8" r="1.7" fill="#6a2e10" opacity="0.85"/><circle cx="89.5" cy="42.2" r="1.7" fill="#6a2e10" opacity="0.85"/><circle cx="79.4" cy="47.6" r="3.2" fill="#6a2e10" opacity="0.85"/><circle cx="101.2" cy="46.9" r="2.4" fill="#9a7444" fill-opacity="0.35" stroke="#80401a" stroke-width="1" stroke-opacity="0.85"/><circle cx="123.7" cy="45.3" r="2.4" fill="#9a7444" fill-opacity="0.35" stroke="#80401a" stroke-width="1" stroke-opacity="0.85"/><circle cx="138.4" cy="50" r="2.9" fill="#9a7444" fill-opacity="0.35" stroke="#80401a" stroke-width="1.3" stroke-opacity="0.85"/><circle cx="106.6" cy="54.6" r="1.5" fill="#6a2e10" opacity="0.85"/><circle cx="123.7" cy="54.6" r="1.5" fill="#6a2e10" opacity="0.85"/><circle cx="85.6" cy="30.5" r="1.4" fill="#6a2e10" opacity="0.85"/><circle cx="89.5" cy="13.5" r="1.5" fill="none" stroke="#857d4c" stroke-width="1" opacity="0.7"/><circle cx="11.8" cy="56.9" r="2.4" fill="none" stroke="#857d4c" stroke-width="1" opacity="0.7"/><circle cx="41.9" cy="60" r="2.8" fill="#6a2e10" opacity="0.85"/><circle cx="62.4" cy="55.8" r="2.4" fill="#9a7444" fill-opacity="0.35" stroke="#80401a" stroke-width="1" stroke-opacity="0.85"/><circle cx="29.2" cy="67.9" r="2.2" fill="#6a2e10" opacity="0.85"/><circle cx="32.1" cy="70.3" r="2.2" fill="#6a2e10" opacity="0.85"/><circle cx="29.7" cy="74.2" r="1.8" fill="#6a2e10" opacity="0.85"/><circle cx="51.3" cy="72.7" r="2.5" fill="#9a7444" fill-opacity="0.35" stroke="#80401a" stroke-width="1.1" stroke-opacity="0.85"/><circle cx="51.3" cy="79" r="2.1" fill="#9a7444" fill-opacity="0.35" stroke="#80401a" stroke-width="0.9" stroke-opacity="0.85"/><circle cx="61.6" cy="82.9" r="4.8" fill="#6e3212" opacity="0.88"/><circle cx="61.6" cy="82.9" r="2.7" fill="#3e1a08" opacity="0.8"/><circle cx="11.1" cy="82.9" r="3.3" fill="#9a7444" fill-opacity="0.35" stroke="#80401a" stroke-width="1.4" stroke-opacity="0.85"/><circle cx="18.2" cy="86.9" r="3.3" fill="#9a7444" fill-opacity="0.35" stroke="#80401a" stroke-width="1.4" stroke-opacity="0.85"/><circle cx="14.2" cy="90.8" r="2.6" fill="#9a7444" fill-opacity="0.35" stroke="#80401a" stroke-width="1.2" stroke-opacity="0.85"/><circle cx="47.4" cy="83.7" r="2.6" fill="#9a7444" fill-opacity="0.35" stroke="#80401a" stroke-width="1.2" stroke-opacity="0.85"/><circle cx="49.3" cy="88.9" r="1.8" fill="#9a7444" fill-opacity="0.35" stroke="#80401a" stroke-width="0.9" stroke-opacity="0.85"/><circle cx="42.3" cy="91.2" r="3.1" fill="#6a2e10" opacity="0.85"/><circle cx="33.5" cy="87.7" r="1.4" fill="#6a2e10" opacity="0.85"/><circle cx="55.3" cy="99.5" r="3.2" fill="#80502a" fill-opacity="0.5" stroke="#652c0e" stroke-width="1.6" stroke-opacity="0.9"/><circle cx="26" cy="96.4" r="1.5" fill="#6a2e10" opacity="0.85"/><circle cx="45.8" cy="107.4" r="2.5" fill="#6a2e10" opacity="0.85"/><circle cx="20.5" cy="105.8" r="2.4" fill="none" stroke="#857d4c" stroke-width="1" opacity="0.7"/><circle cx="6.3" cy="80.5" r="1.4" fill="#6a2e10" opacity="0.85"/><circle cx="96.2" cy="60.8" r="1.9" fill="#9a7444" fill-opacity="0.35" stroke="#80401a" stroke-width="0.9" stroke-opacity="0.85"/><circle cx="116.7" cy="62.4" r="2.6" fill="#9a7444" fill-opacity="0.35" stroke="#80401a" stroke-width="1.2" stroke-opacity="0.85"/><circle cx="136.5" cy="62.1" r="2.5" fill="#6a2e10" opacity="0.85"/><circle cx="106.4" cy="56.1" r="2" fill="none" stroke="#857d4c" stroke-width="1" opacity="0.7"/><circle cx="94.6" cy="71.1" r="3.7" fill="#6e3212" opacity="0.88"/><circle cx="94.6" cy="71.1" r="2" fill="#3e1a08" opacity="0.8"/><circle cx="104.9" cy="71.1" r="3.7" fill="#6e3212" opacity="0.88"/><circle cx="104.9" cy="71.1" r="2" fill="#3e1a08" opacity="0.8"/><circle cx="107.2" cy="68.7" r="1.7" fill="#6a2e10" opacity="0.85"/><circle cx="112.8" cy="71.1" r="1.7" fill="#6a2e10" opacity="0.85"/><circle cx="123" cy="68.4" r="2.4" fill="#9a7444" fill-opacity="0.35" stroke="#80401a" stroke-width="1" stroke-opacity="0.85"/><circle cx="116.7" cy="75.1" r="1.9" fill="#9a7444" fill-opacity="0.35" stroke="#80401a" stroke-width="0.9" stroke-opacity="0.85"/><circle cx="145.2" cy="70.3" r="2.4" fill="#9a7444" fill-opacity="0.35" stroke="#80401a" stroke-width="1" stroke-opacity="0.85"/><circle cx="102.5" cy="78.2" r="3.2" fill="#6a2e10" opacity="0.85"/><circle cx="132.5" cy="77.9" r="1.7" fill="#6a2e10" opacity="0.85"/><circle cx="80.3" cy="83" r="1.7" fill="#9a7444" fill-opacity="0.35" stroke="#80401a" stroke-width="0.9" stroke-opacity="0.85"/><circle cx="85.1" cy="83" r="1.7" fill="#9a7444" fill-opacity="0.35" stroke="#80401a" stroke-width="0.9" stroke-opacity="0.85"/><circle cx="115.9" cy="83.8" r="1.9" fill="#9a7444" fill-opacity="0.35" stroke="#80401a" stroke-width="0.9" stroke-opacity="0.85"/><circle cx="88.2" cy="89" r="3.7" fill="#6e3212" opacity="0.88"/><circle cx="88.2" cy="89" r="2" fill="#3e1a08" opacity="0.8"/><circle cx="110.4" cy="88.5" r="2.9" fill="none" stroke="#857d4c" stroke-width="1" opacity="0.7"/><circle cx="99.3" cy="93.3" r="2.3" fill="#9a7444" fill-opacity="0.35" stroke="#80401a" stroke-width="1" stroke-opacity="0.85"/><circle cx="115.9" cy="94.1" r="3.7" fill="#6e3212" opacity="0.88"/><circle cx="115.9" cy="94.1" r="2" fill="#3e1a08" opacity="0.8"/><circle cx="125.4" cy="90.9" r="1.4" fill="#9a7444" fill-opacity="0.35" stroke="#80401a" stroke-width="0.9" stroke-opacity="0.85"/><circle cx="90.6" cy="102.3" r="2.8" fill="#6a2e10" opacity="0.85"/><circle cx="100.6" cy="105.9" r="3.7" fill="#6e3212" opacity="0.88"/><circle cx="100.6" cy="105.9" r="2" fill="#3e1a08" opacity="0.8"/><circle cx="113.6" cy="106.7" r="2.9" fill="none" stroke="#857d4c" stroke-width="1" opacity="0.7"/><circle cx="142" cy="109.9" r="2" fill="none" stroke="#857d4c" stroke-width="1" opacity="0.7"/><circle cx="125.4" cy="110.7" r="2" fill="none" stroke="#857d4c" stroke-width="1" opacity="0.7"/></g>
</svg>
<text x="0" y="0" font-size="10.7" font-weight="bold" fill="#f7f7f2" stroke="#f7f7f2" stroke-width="0.55" transform="translate(535.8 149.3) scale(0.935 1)">UHRF1 KO G2</text>
<text x="0" y="0" font-size="10.7" font-weight="bold" fill="#f7f7f2" stroke="#f7f7f2" stroke-width="0.55" transform="translate(535.8 164.2) scale(0.935 1)">30% Adipocytes</text>
<path d="M645.9 230.7H678" stroke="#f2f2f2" stroke-width="1.2"/>
<svg x="220" y="252.5" width="151" height="112" viewBox="0 0 151 112" overflow="hidden">
<rect width="151" height="112" fill="#99a175"/>
<g filter="url(#blur)"><g fill="#6e3e1a" opacity="0.88"><circle cx="92.9" cy="-1.4" r="2.7"/><circle cx="97.8" cy="-2" r="1.9"/><circle cx="152.5" cy="-2.7" r="2"/><circle cx="31.7" cy="1.9" r="2"/><circle cx="54.5" cy="2.9" r="2.6"/><circle cx="59.7" cy="2.2" r="2.7"/><circle cx="70" cy="2.1" r="2.2"/><circle cx="74.5" cy="1.3" r="1.8"/><circle cx="104" cy="2.9" r="2.2"/><circle cx="110.6" cy="1.1" r="1.8"/><circle cx="16.4" cy="5.6" r="2.2"/><circle cx="66.6" cy="7.8" r="2.7"/><circle cx="134" cy="5.2" r="1.5"/><circle cx="147.9" cy="7" r="1.7"/><circle cx="152.5" cy="7.7" r="2.2"/><circle cx="11.9" cy="10" r="2.4"/><circle cx="40.8" cy="10.1" r="2.3"/><circle cx="66.9" cy="9.8" r="2.2"/><circle cx="70.4" cy="10.6" r="2.6"/><circle cx="115.2" cy="10.5" r="1.6"/><circle cx="127.1" cy="9.9" r="1.7"/><circle cx="134.6" cy="10.4" r="2.3"/><circle cx="149.6" cy="10.2" r="2.5"/><circle cx="8.2" cy="14.5" r="2.5"/><circle cx="12.1" cy="16.2" r="2.4"/><circle cx="27.1" cy="14" r="2.2"/><circle cx="93.9" cy="16" r="1.5"/><circle cx="99.6" cy="16.7" r="1.5"/><circle cx="122.3" cy="15.3" r="2.6"/><circle cx="132.1" cy="16.6" r="2.4"/><circle cx="149.3" cy="14.4" r="2.3"/><circle cx="26.6" cy="20" r="2.3"/><circle cx="38.8" cy="18.4" r="2.2"/><circle cx="85.4" cy="18.3" r="1.6"/><circle cx="103.8" cy="19.2" r="2.3"/><circle cx="131.4" cy="20" r="2.6"/><circle cx="21.6" cy="24.4" r="2.1"/><circle cx="68.6" cy="22.9" r="1.8"/><circle cx="91.6" cy="24.1" r="2.6"/><circle cx="102.7" cy="22.6" r="1.6"/><circle cx="122.7" cy="25.4" r="2.1"/><circle cx="132" cy="23.7" r="1.8"/><circle cx="146.7" cy="22.8" r="1.8"/><circle cx="9.2" cy="27.5" r="1.7"/><circle cx="20.4" cy="27.8" r="1.9"/><circle cx="65.7" cy="27" r="1.7"/><circle cx="87.1" cy="27.5" r="2.7"/><circle cx="94.2" cy="28.9" r="2.3"/><circle cx="125.4" cy="27.6" r="2.6"/><circle cx="3.8" cy="31.6" r="2.3"/><circle cx="42.1" cy="31.5" r="1.6"/><circle cx="49.3" cy="31.8" r="2"/><circle cx="86.4" cy="33.6" r="1.6"/><circle cx="94.7" cy="31.2" r="1.7"/><circle cx="97.7" cy="32.7" r="2.2"/><circle cx="101.7" cy="31.3" r="2.3"/><circle cx="-1.2" cy="36.7" r="2.1"/><circle cx="6.9" cy="36.2" r="1.5"/><circle cx="10.3" cy="36.8" r="2.4"/><circle cx="14.6" cy="37.4" r="2.3"/><circle cx="45" cy="36.8" r="1.9"/><circle cx="91.9" cy="37.8" r="1.8"/><circle cx="116.3" cy="36.9" r="2.1"/><circle cx="129.5" cy="37.2" r="1.8"/><circle cx="142.2" cy="37.7" r="2.1"/><circle cx="3.2" cy="42.6" r="1.6"/><circle cx="58.6" cy="40.7" r="1.6"/><circle cx="68.2" cy="40.4" r="1.6"/><circle cx="142.5" cy="42.2" r="2.6"/><circle cx="1.7" cy="46" r="2.4"/><circle cx="4.7" cy="44.6" r="1.7"/><circle cx="44.1" cy="46.3" r="2.2"/><circle cx="61.7" cy="44.4" r="1.9"/><circle cx="65.7" cy="47.1" r="2.3"/><circle cx="39.5" cy="48.5" r="2.5"/><circle cx="41.5" cy="48.5" r="1.5"/><circle cx="84.1" cy="50.9" r="1.7"/><circle cx="109.7" cy="49.6" r="1.5"/><circle cx="133.9" cy="51.1" r="1.8"/><circle cx="14.3" cy="54.2" r="2.1"/><circle cx="24.7" cy="54.4" r="1.5"/><circle cx="46.3" cy="54.9" r="1.6"/><circle cx="59.7" cy="55.2" r="1.5"/><circle cx="96.5" cy="55.7" r="1.7"/><circle cx="126.6" cy="53.1" r="1.7"/><circle cx="129.3" cy="53.8" r="1.6"/><circle cx="134.7" cy="53.8" r="2.4"/><circle cx="-3.3" cy="59.1" r="1.7"/><circle cx="1.5" cy="57.3" r="1.6"/><circle cx="13.9" cy="59.2" r="2.4"/><circle cx="44.1" cy="59" r="1.6"/><circle cx="47.9" cy="57.6" r="2.5"/><circle cx="107.6" cy="58.6" r="2.6"/><circle cx="112.9" cy="59.1" r="1.9"/><circle cx="117" cy="58.6" r="2.6"/><circle cx="133.4" cy="57.3" r="2.7"/><circle cx="142.6" cy="59.7" r="1.9"/><circle cx="1" cy="62.2" r="1.5"/><circle cx="4.6" cy="63.5" r="2.2"/><circle cx="24" cy="63.4" r="2.3"/><circle cx="55.2" cy="62.2" r="1.5"/><circle cx="101.7" cy="64.2" r="1.5"/><circle cx="130.1" cy="61.6" r="2.1"/><circle cx="3.8" cy="66" r="2.1"/><circle cx="18" cy="68.7" r="2.6"/><circle cx="21.6" cy="68.1" r="1.7"/><circle cx="29.3" cy="66.2" r="1.8"/><circle cx="51.3" cy="66.4" r="1.6"/><circle cx="59.6" cy="66.5" r="2.5"/><circle cx="67.9" cy="67.5" r="2.2"/><circle cx="77.6" cy="66.9" r="2.5"/><circle cx="98.5" cy="68.1" r="2.2"/><circle cx="114.6" cy="68.8" r="2.1"/><circle cx="153.3" cy="67.1" r="2"/><circle cx="64.6" cy="70.2" r="2.6"/><circle cx="74.8" cy="72.9" r="2.5"/><circle cx="85.7" cy="71.5" r="1.7"/><circle cx="105.3" cy="73" r="1.7"/><circle cx="109.9" cy="72.3" r="1.5"/><circle cx="130.8" cy="70.8" r="1.9"/><circle cx="37.6" cy="76.1" r="2.5"/><circle cx="61.7" cy="76.8" r="2.4"/><circle cx="109.4" cy="75.1" r="2.6"/><circle cx="6.5" cy="81.4" r="1.7"/><circle cx="20.4" cy="80.8" r="2.2"/><circle cx="64.2" cy="80.6" r="2.4"/><circle cx="80.9" cy="81.1" r="2.5"/><circle cx="90.6" cy="80.7" r="1.9"/><circle cx="121.3" cy="80.5" r="2.2"/><circle cx="125.7" cy="79.6" r="1.9"/><circle cx="12" cy="84.8" r="1.7"/><circle cx="26.4" cy="84.5" r="2.5"/><circle cx="154.3" cy="84.1" r="2"/><circle cx="41.1" cy="88.7" r="2.2"/><circle cx="45.1" cy="88.7" r="2.2"/><circle cx="71.6" cy="88.4" r="2.6"/><circle cx="111.4" cy="90.3" r="2.6"/><circle cx="34.1" cy="92.8" r="2.6"/><circle cx="41.8" cy="94" r="1.9"/><circle cx="107.6" cy="94.6" r="1.7"/><circle cx="121.3" cy="93.3" r="2.5"/><circle cx="142.8" cy="94.6" r="1.8"/><circle cx="4.7" cy="98.7" r="1.5"/><circle cx="76.4" cy="97.3" r="1.8"/><circle cx="149" cy="98.1" r="1.6"/><circle cx="-2.2" cy="102.9" r="2.4"/><circle cx="2.9" cy="102.6" r="2.6"/><circle cx="27.3" cy="102.3" r="2"/><circle cx="33.5" cy="102.1" r="2.1"/><circle cx="59.5" cy="103.1" r="2.3"/><circle cx="102.7" cy="102" r="1.7"/><circle cx="113" cy="100.9" r="2.2"/><circle cx="119.3" cy="103.3" r="2.5"/><circle cx="6.1" cy="107.2" r="1.9"/><circle cx="45.7" cy="106.3" r="2.2"/><circle cx="100.5" cy="105.8" r="1.9"/><circle cx="114" cy="104.9" r="1.7"/><circle cx="135.6" cy="105.5" r="2.6"/><circle cx="140" cy="106.5" r="1.9"/><circle cx="146.2" cy="105.3" r="1.6"/><circle cx="44.6" cy="110.7" r="2.2"/><circle cx="109.7" cy="110.8" r="2.6"/><circle cx="141.7" cy="110.3" r="2"/><circle cx="30" cy="113.7" r="2.1"/><circle cx="35.9" cy="115.9" r="2.4"/><circle cx="46.7" cy="113.7" r="2.5"/><circle cx="66.6" cy="114.4" r="2.2"/><circle cx="74.4" cy="115.4" r="2.4"/><circle cx="119.8" cy="113.7" r="1.9"/><circle cx="147.1" cy="114.6" r="2.4"/></g><g fill="#764420" opacity="0.88"><circle cx="2.2" cy="-2.7" r="2.2"/><circle cx="31.8" cy="-1.5" r="1.6"/><circle cx="47.8" cy="-1.7" r="2.1"/><circle cx="53.7" cy="-3.2" r="1.8"/><circle cx="58.5" cy="-3" r="2.1"/><circle cx="86.6" cy="-1.9" r="2.3"/><circle cx="107.1" cy="-0.9" r="2.1"/><circle cx="111.5" cy="-3.1" r="2"/><circle cx="124.6" cy="-2.2" r="1.9"/><circle cx="132.3" cy="-2.9" r="2.7"/><circle cx="141.4" cy="-2.6" r="1.8"/><circle cx="148.3" cy="-2.7" r="1.7"/><circle cx="17" cy="1.7" r="2.3"/><circle cx="20" cy="2.5" r="1.7"/><circle cx="93.9" cy="2" r="2.2"/><circle cx="121.7" cy="3.6" r="2"/><circle cx="12.8" cy="6.2" r="2.2"/><circle cx="28.1" cy="7.7" r="2.5"/><circle cx="43.6" cy="8.1" r="2.7"/><circle cx="52.9" cy="6.3" r="1.9"/><circle cx="56.7" cy="5.8" r="2"/><circle cx="62.1" cy="7.7" r="1.9"/><circle cx="78.5" cy="7.5" r="1.6"/><circle cx="82" cy="7.4" r="2.1"/><circle cx="93.7" cy="6.3" r="2.2"/><circle cx="118.1" cy="5.6" r="2"/><circle cx="144.4" cy="6.1" r="2"/><circle cx="5.3" cy="9.5" r="2.6"/><circle cx="16.5" cy="9.8" r="2.4"/><circle cx="36.6" cy="12" r="2.1"/><circle cx="59.1" cy="11.2" r="1.8"/><circle cx="76.1" cy="12.4" r="2.6"/><circle cx="81.9" cy="10.5" r="2.4"/><circle cx="85.3" cy="12.4" r="1.5"/><circle cx="99.6" cy="9.8" r="2.5"/><circle cx="106.5" cy="12.3" r="1.8"/><circle cx="43" cy="16.6" r="2.6"/><circle cx="57.4" cy="15.1" r="1.7"/><circle cx="74.6" cy="15.1" r="2.7"/><circle cx="112.6" cy="14.9" r="1.7"/><circle cx="144.5" cy="16.4" r="2.4"/><circle cx="28.8" cy="19.8" r="1.8"/><circle cx="81.5" cy="19.6" r="2.7"/><circle cx="139.2" cy="20.6" r="1.8"/><circle cx="145.1" cy="20.7" r="2.7"/><circle cx="29.3" cy="23.1" r="1.9"/><circle cx="33" cy="23.9" r="1.6"/><circle cx="49.1" cy="24.5" r="2.3"/><circle cx="64.5" cy="23.3" r="1.6"/><circle cx="73.4" cy="24" r="2.6"/><circle cx="109.1" cy="25.1" r="1.5"/><circle cx="144.5" cy="22.6" r="1.7"/><circle cx="0.8" cy="29.3" r="1.6"/><circle cx="4.2" cy="29.6" r="1.7"/><circle cx="29.2" cy="27.1" r="2.1"/><circle cx="39.9" cy="27.2" r="1.7"/><circle cx="55" cy="28.4" r="1.5"/><circle cx="80.4" cy="29.8" r="1.8"/><circle cx="113.9" cy="27.2" r="1.6"/><circle cx="129.7" cy="27.1" r="1.7"/><circle cx="140.9" cy="29.4" r="1.6"/><circle cx="151.4" cy="28.1" r="2.6"/><circle cx="-0.4" cy="33.6" r="2"/><circle cx="14.1" cy="32.4" r="1.9"/><circle cx="21.8" cy="33.5" r="1.6"/><circle cx="66.6" cy="33.6" r="2.3"/><circle cx="84.7" cy="31.9" r="2.3"/><circle cx="106.6" cy="34" r="2"/><circle cx="112" cy="32.1" r="2.5"/><circle cx="136.6" cy="31.5" r="2.6"/><circle cx="21.6" cy="37.9" r="2.4"/><circle cx="30.8" cy="36.1" r="2.6"/><circle cx="35.7" cy="37" r="2.6"/><circle cx="60.7" cy="36.6" r="2.5"/><circle cx="64.1" cy="35.9" r="2.3"/><circle cx="77.2" cy="37.4" r="1.5"/><circle cx="84.9" cy="36" r="2.4"/><circle cx="104.8" cy="36.9" r="1.9"/><circle cx="121.2" cy="36.9" r="2"/><circle cx="125.5" cy="37.1" r="1.8"/><circle cx="134.6" cy="35.9" r="2.1"/><circle cx="12.3" cy="39.9" r="1.8"/><circle cx="36.8" cy="42.3" r="2.4"/><circle cx="46.6" cy="40.8" r="1.9"/><circle cx="71.5" cy="41.2" r="1.5"/><circle cx="112.6" cy="42.7" r="2.6"/><circle cx="118.1" cy="40.2" r="2.3"/><circle cx="124.6" cy="42.5" r="2"/><circle cx="153.4" cy="41.7" r="2.5"/><circle cx="19.7" cy="45.2" r="2.2"/><circle cx="37" cy="45.8" r="2.3"/><circle cx="50" cy="44.2" r="1.6"/><circle cx="91.7" cy="46.2" r="2.2"/><circle cx="101.8" cy="45.2" r="1.9"/><circle cx="106.1" cy="46.3" r="1.6"/><circle cx="116.3" cy="45.7" r="2.7"/><circle cx="119" cy="45.7" r="2"/><circle cx="126.8" cy="46.4" r="2.4"/><circle cx="135.6" cy="45.2" r="1.5"/><circle cx="149.4" cy="46.9" r="2.6"/><circle cx="23.9" cy="48.7" r="1.7"/><circle cx="26.4" cy="49.1" r="2.4"/><circle cx="53.3" cy="50.8" r="2.3"/><circle cx="78.6" cy="50.7" r="1.8"/><circle cx="128.7" cy="49.5" r="1.6"/><circle cx="1" cy="53.1" r="2.6"/><circle cx="38.9" cy="53.7" r="2.6"/><circle cx="86.1" cy="52.9" r="1.9"/><circle cx="105.7" cy="54.5" r="2.1"/><circle cx="21.6" cy="59.3" r="2.1"/><circle cx="27.1" cy="58.9" r="2.6"/><circle cx="51.6" cy="58.9" r="2.4"/><circle cx="62.1" cy="57.6" r="2"/><circle cx="67" cy="59.5" r="2.5"/><circle cx="82.8" cy="59" r="1.7"/><circle cx="122.8" cy="58.5" r="2"/><circle cx="147.1" cy="59" r="1.8"/><circle cx="152.5" cy="57.4" r="2.5"/><circle cx="22.2" cy="63.6" r="1.6"/><circle cx="34.4" cy="62.3" r="1.9"/><circle cx="49.2" cy="61.7" r="2.5"/><circle cx="65.3" cy="63.1" r="2.4"/><circle cx="72" cy="61.6" r="2.5"/><circle cx="104.6" cy="62.7" r="1.8"/><circle cx="109" cy="62.3" r="1.5"/><circle cx="125.9" cy="63.5" r="1.6"/><circle cx="136" cy="63.1" r="1.9"/><circle cx="-2.4" cy="66.1" r="1.6"/><circle cx="41.5" cy="68" r="2.3"/><circle cx="63.4" cy="67.1" r="2"/><circle cx="81.9" cy="67.5" r="2.7"/><circle cx="101.7" cy="67.1" r="2.3"/><circle cx="34.1" cy="72.3" r="2.7"/><circle cx="52.1" cy="72" r="2.2"/><circle cx="57.1" cy="71.7" r="2.1"/><circle cx="88.9" cy="70.5" r="2.1"/><circle cx="119.4" cy="72.9" r="1.6"/><circle cx="126.8" cy="72.8" r="2.3"/><circle cx="145.8" cy="72.1" r="2.6"/><circle cx="2.9" cy="76.4" r="2"/><circle cx="101.4" cy="77.4" r="2.6"/><circle cx="129.6" cy="75.8" r="2.1"/><circle cx="137.4" cy="74.9" r="2.2"/><circle cx="151.5" cy="74.9" r="2"/><circle cx="52" cy="79.4" r="1.7"/><circle cx="60.9" cy="79.6" r="2"/><circle cx="75.4" cy="79.8" r="2"/><circle cx="99.7" cy="80.6" r="1.6"/><circle cx="111.2" cy="81.6" r="1.7"/><circle cx="135" cy="81.6" r="2.4"/><circle cx="-1" cy="85.2" r="2.3"/><circle cx="71.8" cy="85" r="1.6"/><circle cx="94.6" cy="83.5" r="2.6"/><circle cx="117.2" cy="85.8" r="1.7"/><circle cx="124.5" cy="83.8" r="1.7"/><circle cx="36.7" cy="90.3" r="2"/><circle cx="55.2" cy="90.1" r="2"/><circle cx="82.1" cy="90" r="2.1"/><circle cx="116.6" cy="89.8" r="2.1"/><circle cx="121.2" cy="87.6" r="1.9"/><circle cx="144.6" cy="88.7" r="2.2"/><circle cx="6.3" cy="94" r="2.4"/><circle cx="18.3" cy="94.5" r="1.6"/><circle cx="72.6" cy="93.5" r="1.7"/><circle cx="99.2" cy="94.2" r="2.6"/><circle cx="119" cy="93.3" r="2"/><circle cx="127.8" cy="92.9" r="1.7"/><circle cx="134.6" cy="92.1" r="2.4"/><circle cx="35.4" cy="96.9" r="2.4"/><circle cx="56.3" cy="96.2" r="2"/><circle cx="80.1" cy="98.9" r="1.9"/><circle cx="85.6" cy="98.1" r="1.7"/><circle cx="134.9" cy="97.4" r="1.7"/><circle cx="7.1" cy="102.3" r="2"/><circle cx="22.3" cy="101" r="2.1"/><circle cx="142.3" cy="103.3" r="2.7"/><circle cx="153" cy="101.1" r="2.4"/><circle cx="39.3" cy="105.8" r="2.5"/><circle cx="68.8" cy="107.3" r="2.2"/><circle cx="85.6" cy="106.9" r="1.9"/><circle cx="94.8" cy="106.3" r="1.8"/><circle cx="53.4" cy="111.8" r="2"/><circle cx="87.4" cy="111.4" r="2.3"/><circle cx="99.7" cy="110.7" r="2.3"/><circle cx="113.2" cy="111.8" r="1.9"/><circle cx="137.6" cy="109.9" r="2.3"/><circle cx="-0.5" cy="115.5" r="1.6"/><circle cx="4.4" cy="115" r="1.8"/><circle cx="25.5" cy="114.2" r="1.6"/><circle cx="49.3" cy="113.8" r="2.4"/><circle cx="89.1" cy="115.3" r="2.3"/><circle cx="98.9" cy="115.4" r="1.6"/><circle cx="111.7" cy="116.2" r="1.8"/><circle cx="126.5" cy="115.5" r="2.1"/></g><g fill="#663816" opacity="0.88"><circle cx="-1.3" cy="-1.5" r="1.8"/><circle cx="12.6" cy="-1.2" r="2.5"/><circle cx="37.4" cy="-3.3" r="2.1"/><circle cx="44.7" cy="-2.3" r="1.7"/><circle cx="64.3" cy="-2" r="1.9"/><circle cx="67.8" cy="-2.8" r="2.5"/><circle cx="73" cy="-3.2" r="1.5"/><circle cx="76.6" cy="-2.7" r="2"/><circle cx="118.3" cy="-3.4" r="2.3"/><circle cx="137.9" cy="-2.7" r="2"/><circle cx="9.7" cy="1.6" r="1.8"/><circle cx="27" cy="3.1" r="2.4"/><circle cx="49.9" cy="1.6" r="2.6"/><circle cx="79.3" cy="2.8" r="1.9"/><circle cx="92" cy="2.8" r="1.7"/><circle cx="126.5" cy="1.7" r="1.7"/><circle cx="141.5" cy="2.3" r="2.2"/><circle cx="144.8" cy="3.7" r="2.3"/><circle cx="151.1" cy="2.8" r="2.1"/><circle cx="34.4" cy="5.4" r="2.5"/><circle cx="46.9" cy="5.3" r="1.6"/><circle cx="71.3" cy="7.2" r="2"/><circle cx="88.7" cy="5.7" r="1.6"/><circle cx="103" cy="7.6" r="2.5"/><circle cx="106.9" cy="7.1" r="1.7"/><circle cx="127.5" cy="8" r="1.6"/><circle cx="-0" cy="11.9" r="1.6"/><circle cx="31.4" cy="11.8" r="1.5"/><circle cx="91" cy="9.6" r="2.1"/><circle cx="93.8" cy="9.7" r="2.2"/><circle cx="120.7" cy="12.3" r="2.2"/><circle cx="130.6" cy="11.6" r="2.4"/><circle cx="3.6" cy="14.8" r="2.2"/><circle cx="23" cy="16.7" r="2.2"/><circle cx="66.3" cy="14.8" r="2.1"/><circle cx="103.7" cy="15.2" r="1.6"/><circle cx="5.5" cy="18.8" r="1.9"/><circle cx="9.1" cy="18.4" r="1.7"/><circle cx="13.8" cy="18.8" r="2.4"/><circle cx="21.8" cy="19.2" r="2.5"/><circle cx="61.7" cy="20.5" r="1.6"/><circle cx="64.6" cy="21" r="1.8"/><circle cx="95.6" cy="19.1" r="2.2"/><circle cx="151.8" cy="20.3" r="1.6"/><circle cx="-1.7" cy="24.4" r="2.5"/><circle cx="4.7" cy="24.2" r="2.5"/><circle cx="7.1" cy="25.3" r="2.5"/><circle cx="17.6" cy="23.5" r="1.7"/><circle cx="96.6" cy="23.7" r="2.4"/><circle cx="112.1" cy="24.9" r="1.6"/><circle cx="118.8" cy="23.9" r="2.4"/><circle cx="129" cy="23" r="1.8"/><circle cx="15.8" cy="28.9" r="2.3"/><circle cx="25.7" cy="28.9" r="2.5"/><circle cx="45.5" cy="29.6" r="2.6"/><circle cx="73.8" cy="29.3" r="2.6"/><circle cx="102.1" cy="29.2" r="2.2"/><circle cx="33.3" cy="31.4" r="2.3"/><circle cx="51.9" cy="32" r="2"/><circle cx="78" cy="32.1" r="2.1"/><circle cx="117.8" cy="32.1" r="1.6"/><circle cx="26.6" cy="36.4" r="2.6"/><circle cx="54" cy="38.1" r="2.5"/><circle cx="109.6" cy="35.7" r="1.7"/><circle cx="146.3" cy="36.6" r="2"/><circle cx="150.4" cy="38.4" r="2.2"/><circle cx="-0.3" cy="40.2" r="1.7"/><circle cx="17" cy="41.2" r="2.2"/><circle cx="24.7" cy="40.2" r="1.8"/><circle cx="33.6" cy="40.9" r="1.6"/><circle cx="61.6" cy="42.2" r="2.3"/><circle cx="92.4" cy="42.4" r="2.5"/><circle cx="128" cy="41.8" r="2.5"/><circle cx="137.6" cy="41.3" r="2.3"/><circle cx="147.1" cy="41.5" r="2.3"/><circle cx="11.4" cy="44.8" r="1.6"/><circle cx="14.4" cy="45.5" r="1.5"/><circle cx="27.2" cy="45.7" r="1.6"/><circle cx="41.7" cy="46.2" r="1.9"/><circle cx="75.4" cy="44.7" r="1.5"/><circle cx="84.9" cy="45.5" r="2.4"/><circle cx="147.2" cy="44.9" r="2.6"/><circle cx="-0.9" cy="51.4" r="2.3"/><circle cx="12.3" cy="49.2" r="2.5"/><circle cx="19" cy="49.8" r="2.2"/><circle cx="48" cy="51" r="2"/><circle cx="73.8" cy="48.6" r="2.2"/><circle cx="114.3" cy="50.9" r="2"/><circle cx="117.8" cy="50.8" r="2.2"/><circle cx="143.9" cy="51.2" r="1.9"/><circle cx="29.5" cy="53.8" r="2"/><circle cx="37.2" cy="53.3" r="1.9"/><circle cx="50.3" cy="52.9" r="1.8"/><circle cx="76.2" cy="53.4" r="2.2"/><circle cx="110" cy="53.4" r="1.9"/><circle cx="119.1" cy="53.1" r="2.1"/><circle cx="145.4" cy="53.7" r="2.6"/><circle cx="149.3" cy="55.2" r="2.5"/><circle cx="6.6" cy="58.7" r="1.9"/><circle cx="36.8" cy="57.2" r="1.6"/><circle cx="58.6" cy="57.2" r="2"/><circle cx="72.8" cy="58.7" r="2"/><circle cx="78.5" cy="58.4" r="1.7"/><circle cx="127.7" cy="58.3" r="1.7"/><circle cx="11.7" cy="63.7" r="2"/><circle cx="61.3" cy="61.5" r="2.3"/><circle cx="85.4" cy="62.2" r="1.9"/><circle cx="89.2" cy="63.9" r="2.3"/><circle cx="140.7" cy="63.9" r="2"/><circle cx="149.4" cy="64.1" r="1.8"/><circle cx="6.4" cy="67.1" r="2.1"/><circle cx="34.7" cy="68.2" r="2.4"/><circle cx="39.4" cy="68.4" r="2.4"/><circle cx="46.5" cy="66.2" r="2.1"/><circle cx="86.9" cy="68" r="2.6"/><circle cx="107.1" cy="66.4" r="1.8"/><circle cx="119.2" cy="66.7" r="2.2"/><circle cx="126.6" cy="67.2" r="1.9"/><circle cx="133.8" cy="65.9" r="2"/><circle cx="138.7" cy="67.7" r="1.7"/><circle cx="144.7" cy="66.3" r="1.5"/><circle cx="27.1" cy="73.1" r="2.5"/><circle cx="60.9" cy="73.1" r="2.2"/><circle cx="96.8" cy="72" r="2.7"/><circle cx="99.3" cy="73" r="2"/><circle cx="136.6" cy="71.5" r="2.7"/><circle cx="11.7" cy="75.3" r="2.5"/><circle cx="24.2" cy="75.4" r="1.5"/><circle cx="31.9" cy="75.7" r="2.3"/><circle cx="58.2" cy="75.4" r="1.9"/><circle cx="68.1" cy="76.9" r="1.7"/><circle cx="81.8" cy="76.8" r="2.5"/><circle cx="86.8" cy="74.9" r="2.1"/><circle cx="94.5" cy="75.6" r="1.8"/><circle cx="113.2" cy="77.1" r="2.4"/><circle cx="24.7" cy="81" r="1.7"/><circle cx="36.5" cy="79.1" r="2.4"/><circle cx="44.9" cy="81.2" r="2.3"/><circle cx="83.9" cy="81.3" r="2.2"/><circle cx="96.4" cy="80.6" r="2"/><circle cx="106.8" cy="81.3" r="1.8"/><circle cx="141.2" cy="79.2" r="1.7"/><circle cx="1.6" cy="83.3" r="2"/><circle cx="17" cy="84.4" r="2.6"/><circle cx="21.7" cy="84.3" r="2.6"/><circle cx="49" cy="83.9" r="1.5"/><circle cx="79.5" cy="83.7" r="2.3"/><circle cx="133.2" cy="84" r="1.9"/><circle cx="2" cy="89.9" r="1.7"/><circle cx="101.9" cy="87.7" r="1.8"/><circle cx="51.3" cy="92.1" r="2.6"/><circle cx="63" cy="92.4" r="1.6"/><circle cx="66.9" cy="92.8" r="2.6"/><circle cx="79.3" cy="92.2" r="2.1"/><circle cx="82.8" cy="94.5" r="1.6"/><circle cx="86.3" cy="92.3" r="1.5"/><circle cx="146.6" cy="94.1" r="2.6"/><circle cx="12.2" cy="97.4" r="2.1"/><circle cx="15.8" cy="96.2" r="2.3"/><circle cx="26.9" cy="96.1" r="2.5"/><circle cx="94.3" cy="97" r="2.4"/><circle cx="140.5" cy="97.3" r="2"/><circle cx="83.5" cy="101.2" r="1.6"/><circle cx="88" cy="102.6" r="1.9"/><circle cx="107.1" cy="102.6" r="2"/><circle cx="123.9" cy="102.4" r="2.5"/><circle cx="137.2" cy="102.5" r="2.7"/><circle cx="11.1" cy="105.4" r="2.6"/><circle cx="22.1" cy="106.3" r="2"/><circle cx="26.4" cy="105.7" r="2.5"/><circle cx="34.4" cy="105.7" r="1.6"/><circle cx="57.1" cy="106.1" r="1.8"/><circle cx="105.7" cy="107.2" r="2.6"/><circle cx="109.1" cy="106.1" r="2.2"/><circle cx="151" cy="106.8" r="2"/><circle cx="34.3" cy="111.5" r="2.1"/><circle cx="72.7" cy="110.9" r="2.2"/><circle cx="78.4" cy="111.8" r="2"/><circle cx="92.1" cy="110.7" r="2.3"/><circle cx="122.6" cy="109.1" r="2"/><circle cx="128" cy="110.2" r="2.3"/><circle cx="53.8" cy="115.8" r="1.6"/></g><g fill="#7e4a22" opacity="0.88"><circle cx="8.6" cy="-2.6" r="2.2"/><circle cx="17" cy="-0.8" r="2.4"/><circle cx="22.2" cy="-1.1" r="1.9"/><circle cx="26.8" cy="-1.8" r="2.6"/><circle cx="103.3" cy="-3.2" r="2.2"/><circle cx="128.2" cy="-0.7" r="2.7"/><circle cx="4.4" cy="1.5" r="2.1"/><circle cx="37.1" cy="2.5" r="2.5"/><circle cx="39.9" cy="3.6" r="2.2"/><circle cx="44.6" cy="3.6" r="2.6"/><circle cx="65.1" cy="3.2" r="2.2"/><circle cx="86" cy="2.8" r="2.6"/><circle cx="100.4" cy="3.6" r="2.5"/><circle cx="115.2" cy="3.8" r="1.7"/><circle cx="130.1" cy="2.6" r="1.6"/><circle cx="2.1" cy="8.1" r="2.7"/><circle cx="9.4" cy="7.7" r="2.5"/><circle cx="24.1" cy="7.3" r="2.7"/><circle cx="38.3" cy="7.5" r="1.8"/><circle cx="97.9" cy="7.4" r="2.5"/><circle cx="114.2" cy="6" r="1.9"/><circle cx="123.6" cy="6.6" r="2.2"/><circle cx="136.5" cy="5.6" r="1.8"/><circle cx="19.5" cy="10.7" r="2.2"/><circle cx="24.1" cy="11.8" r="1.8"/><circle cx="46.4" cy="10.6" r="2.6"/><circle cx="49.2" cy="12.1" r="2.4"/><circle cx="56.7" cy="9.7" r="2.5"/><circle cx="110.2" cy="10" r="2.2"/><circle cx="142.1" cy="9.8" r="2.1"/><circle cx="146" cy="10.1" r="1.9"/><circle cx="16.3" cy="16.4" r="1.8"/><circle cx="32.8" cy="16" r="2.1"/><circle cx="39.7" cy="16.6" r="1.6"/><circle cx="46.7" cy="15.7" r="2.3"/><circle cx="62.4" cy="15.4" r="2.1"/><circle cx="79.5" cy="15" r="1.6"/><circle cx="82.6" cy="14.5" r="2.1"/><circle cx="87.3" cy="15.3" r="1.6"/><circle cx="109.3" cy="15.2" r="2.4"/><circle cx="129.2" cy="16.7" r="2.2"/><circle cx="2" cy="18.3" r="1.9"/><circle cx="45.9" cy="18.2" r="1.8"/><circle cx="49.1" cy="19.1" r="1.6"/><circle cx="72.1" cy="19.4" r="2.1"/><circle cx="76.1" cy="20.5" r="2.2"/><circle cx="89.9" cy="18.7" r="2.2"/><circle cx="102" cy="19.4" r="2.1"/><circle cx="110.5" cy="21.1" r="2.4"/><circle cx="124" cy="20.4" r="2.2"/><circle cx="135.1" cy="18.5" r="2"/><circle cx="13.5" cy="22.8" r="1.9"/><circle cx="37.2" cy="23.4" r="2.5"/><circle cx="43.2" cy="22.9" r="2.4"/><circle cx="52.9" cy="22.8" r="1.6"/><circle cx="58.9" cy="22.5" r="2.1"/><circle cx="76.9" cy="24" r="2.4"/><circle cx="82" cy="24.5" r="2.3"/><circle cx="87.2" cy="23.7" r="2"/><circle cx="138.6" cy="24.2" r="2"/><circle cx="154.6" cy="22.5" r="1.7"/><circle cx="36.3" cy="27.4" r="1.7"/><circle cx="50.3" cy="27.7" r="1.5"/><circle cx="59" cy="27.4" r="1.7"/><circle cx="90.2" cy="28.4" r="1.6"/><circle cx="103.9" cy="27" r="2.4"/><circle cx="137" cy="29.3" r="1.6"/><circle cx="146.5" cy="26.8" r="1.6"/><circle cx="8.7" cy="32.9" r="2.3"/><circle cx="39.7" cy="31.8" r="1.9"/><circle cx="57" cy="31.7" r="2.6"/><circle cx="72.2" cy="32.5" r="2.3"/><circle cx="122" cy="33.2" r="2.1"/><circle cx="128.9" cy="31.4" r="2.3"/><circle cx="134.1" cy="31.4" r="1.8"/><circle cx="146.3" cy="32.6" r="2.5"/><circle cx="152.9" cy="34.1" r="2.4"/><circle cx="40.8" cy="37.1" r="1.7"/><circle cx="69.8" cy="37" r="2.1"/><circle cx="96.8" cy="37" r="1.5"/><circle cx="101.2" cy="38.1" r="1.8"/><circle cx="8.9" cy="41.7" r="1.9"/><circle cx="27.1" cy="41.4" r="2.2"/><circle cx="44.2" cy="40.1" r="1.6"/><circle cx="51.8" cy="41.2" r="2.1"/><circle cx="78" cy="40.4" r="1.6"/><circle cx="84.6" cy="40.4" r="2.5"/><circle cx="107.9" cy="40.4" r="2"/><circle cx="131.9" cy="40.5" r="2.2"/><circle cx="30.5" cy="46.2" r="1.9"/><circle cx="57.2" cy="46.4" r="1.9"/><circle cx="70" cy="45.2" r="2.4"/><circle cx="78.9" cy="46" r="2.1"/><circle cx="97.1" cy="45.6" r="1.6"/><circle cx="110.2" cy="45" r="2"/><circle cx="131.8" cy="46.8" r="2"/><circle cx="140.5" cy="44.8" r="2.5"/><circle cx="4.2" cy="48.8" r="1.5"/><circle cx="63.6" cy="51.4" r="2.1"/><circle cx="67.6" cy="50.5" r="2.6"/><circle cx="91.5" cy="48.8" r="2"/><circle cx="97.6" cy="51.1" r="2.2"/><circle cx="122.7" cy="51.3" r="2.2"/><circle cx="138" cy="50.2" r="2.2"/><circle cx="4.2" cy="53.7" r="1.6"/><circle cx="56" cy="53.9" r="2.4"/><circle cx="71.4" cy="55" r="2.4"/><circle cx="81" cy="53.1" r="2.6"/><circle cx="141.3" cy="53.4" r="2.4"/><circle cx="32.5" cy="57.7" r="2.7"/><circle cx="88.9" cy="60" r="2"/><circle cx="136.3" cy="59.5" r="2.6"/><circle cx="15.2" cy="62.4" r="1.9"/><circle cx="44.4" cy="62" r="2.5"/><circle cx="74.3" cy="61.6" r="2.4"/><circle cx="94.8" cy="63.7" r="2.3"/><circle cx="119.6" cy="61.9" r="1.9"/><circle cx="145.5" cy="64" r="2.7"/><circle cx="13.3" cy="67.8" r="2.5"/><circle cx="93.2" cy="68.4" r="1.9"/><circle cx="124.3" cy="67.8" r="2.5"/><circle cx="146.9" cy="66.6" r="2.4"/><circle cx="5.7" cy="72.1" r="2.3"/><circle cx="9.7" cy="71.9" r="2.1"/><circle cx="14.8" cy="72.6" r="2.7"/><circle cx="41.3" cy="72.3" r="2.1"/><circle cx="148.8" cy="72.1" r="2.1"/><circle cx="-2.7" cy="76.7" r="2.2"/><circle cx="9.6" cy="75.4" r="2.5"/><circle cx="17.9" cy="75.4" r="1.6"/><circle cx="28.2" cy="77.3" r="2"/><circle cx="42.3" cy="75" r="2.1"/><circle cx="48" cy="74.8" r="1.8"/><circle cx="54.3" cy="75" r="2.4"/><circle cx="72.6" cy="76.5" r="1.5"/><circle cx="78" cy="75.8" r="2.3"/><circle cx="116.7" cy="76.6" r="2.7"/><circle cx="132.5" cy="76.1" r="2.3"/><circle cx="141.4" cy="74.8" r="2.6"/><circle cx="1.6" cy="81.2" r="2.1"/><circle cx="10.9" cy="79.2" r="2.3"/><circle cx="69.7" cy="80.4" r="1.7"/><circle cx="115.1" cy="80.6" r="2.3"/><circle cx="143.8" cy="81.7" r="2.6"/><circle cx="149.9" cy="80.6" r="2.6"/><circle cx="36.4" cy="84.5" r="2.7"/><circle cx="53" cy="84.3" r="2.4"/><circle cx="69.6" cy="84.1" r="2"/><circle cx="86.5" cy="85.1" r="2"/><circle cx="96.8" cy="84.4" r="2.6"/><circle cx="107.9" cy="83.2" r="1.6"/><circle cx="112" cy="83.4" r="1.7"/><circle cx="148.9" cy="83.2" r="1.9"/><circle cx="14.1" cy="90.2" r="1.8"/><circle cx="20.2" cy="88.8" r="1.7"/><circle cx="31.3" cy="87.7" r="1.6"/><circle cx="59.9" cy="89.1" r="1.6"/><circle cx="64.3" cy="88.8" r="2.3"/><circle cx="89" cy="88.4" r="2.3"/><circle cx="96.4" cy="88.4" r="1.7"/><circle cx="125.7" cy="90" r="2.7"/><circle cx="139.9" cy="89.9" r="1.7"/><circle cx="24.1" cy="93.6" r="2"/><circle cx="27.7" cy="92.9" r="2.1"/><circle cx="37.8" cy="91.8" r="2.5"/><circle cx="102.5" cy="92.6" r="1.7"/><circle cx="137" cy="94.6" r="2.4"/><circle cx="45.5" cy="97.9" r="2.3"/><circle cx="91.8" cy="97.3" r="1.7"/><circle cx="102" cy="98.5" r="2.6"/><circle cx="110" cy="96.5" r="2.6"/><circle cx="116.4" cy="97.6" r="2.4"/><circle cx="120.8" cy="96.7" r="1.8"/><circle cx="126.3" cy="98.5" r="2.2"/><circle cx="131.4" cy="97.2" r="2.4"/><circle cx="19.2" cy="100.5" r="1.9"/><circle cx="46.9" cy="102.3" r="2.6"/><circle cx="54.3" cy="101" r="1.7"/><circle cx="63.3" cy="102.5" r="2.5"/><circle cx="91.8" cy="101.1" r="1.5"/><circle cx="97.2" cy="100.7" r="2"/><circle cx="131.5" cy="101.7" r="2.5"/><circle cx="147.5" cy="102.5" r="2.5"/><circle cx="51.9" cy="105.8" r="2.3"/><circle cx="65.6" cy="104.9" r="2.4"/><circle cx="75.9" cy="105.8" r="2"/><circle cx="91.1" cy="104.8" r="2.4"/><circle cx="119.3" cy="105.7" r="2.2"/><circle cx="131.3" cy="107" r="1.6"/><circle cx="2.5" cy="109.3" r="1.6"/><circle cx="26.3" cy="111" r="2.6"/><circle cx="39.4" cy="109.9" r="2.2"/><circle cx="63.3" cy="109.2" r="1.6"/><circle cx="83.4" cy="111.8" r="2.3"/><circle cx="132.2" cy="111.4" r="1.7"/><circle cx="146.8" cy="111.8" r="2.3"/><circle cx="14.4" cy="114.3" r="2.7"/><circle cx="60.1" cy="115.3" r="2.2"/><circle cx="79.7" cy="113.6" r="2"/><circle cx="84.7" cy="114.5" r="2.5"/><circle cx="93.9" cy="116.3" r="2.3"/><circle cx="105" cy="115.4" r="2.2"/><circle cx="131.2" cy="115.2" r="1.8"/><circle cx="134.3" cy="115.5" r="1.8"/><circle cx="139.7" cy="116.1" r="2.6"/><circle cx="150.5" cy="114.3" r="1.6"/></g><g fill="#2e1808" opacity="0.8"><circle cx="8.8" cy="-2.8" r="0.5"/><circle cx="16.7" cy="-1.2" r="0.5"/><circle cx="26.6" cy="-2.1" r="0.5"/><circle cx="31.7" cy="-1.5" r="0.8"/><circle cx="37.3" cy="-3.6" r="0.6"/><circle cx="44.9" cy="-2" r="0.5"/><circle cx="64.2" cy="-1.7" r="0.7"/><circle cx="68" cy="-2.7" r="0.7"/><circle cx="76.7" cy="-2.9" r="0.7"/><circle cx="86.9" cy="-2" r="0.5"/><circle cx="103.6" cy="-3.1" r="0.5"/><circle cx="132.3" cy="-3.2" r="0.8"/><circle cx="137.6" cy="-2.8" r="0.7"/><circle cx="148" cy="-2.5" r="0.6"/><circle cx="152.4" cy="-2.4" r="0.7"/><circle cx="9.9" cy="1.9" r="0.7"/><circle cx="31.9" cy="2.1" r="0.5"/><circle cx="40.2" cy="3.6" r="0.7"/><circle cx="94.1" cy="2.1" r="0.5"/><circle cx="121.6" cy="4" r="0.7"/><circle cx="141.4" cy="2.1" r="0.7"/><circle cx="151.4" cy="2.7" r="0.7"/><circle cx="38.1" cy="7.5" r="0.7"/><circle cx="43.4" cy="8" r="0.7"/><circle cx="46.8" cy="5.4" r="0.6"/><circle cx="61.9" cy="7.6" r="0.7"/><circle cx="71.3" cy="7.1" r="0.6"/><circle cx="78.5" cy="7.4" r="0.8"/><circle cx="82" cy="7.6" r="0.8"/><circle cx="98.2" cy="7.6" r="0.7"/><circle cx="114.2" cy="6" r="0.6"/><circle cx="117.9" cy="5.5" r="0.6"/><circle cx="123.5" cy="6.8" r="0.6"/><circle cx="127.8" cy="7.7" r="0.5"/><circle cx="136.6" cy="5.4" r="0.8"/><circle cx="147.8" cy="6.9" r="0.5"/><circle cx="-0" cy="12.1" r="0.6"/><circle cx="12" cy="9.6" r="0.8"/><circle cx="19.3" cy="10.4" r="0.8"/><circle cx="31.5" cy="11.5" r="0.5"/><circle cx="36.2" cy="11.6" r="0.5"/><circle cx="46.4" cy="10.8" r="0.8"/><circle cx="48.9" cy="12.4" r="0.5"/><circle cx="57" cy="9.5" r="0.5"/><circle cx="66.6" cy="9.8" r="0.6"/><circle cx="82.1" cy="10.2" r="0.5"/><circle cx="91.1" cy="9.8" r="0.7"/><circle cx="99.7" cy="9.5" r="0.5"/><circle cx="106.3" cy="12" r="0.7"/><circle cx="120.5" cy="12.1" r="0.6"/><circle cx="130.6" cy="11.8" r="0.7"/><circle cx="145.9" cy="10.5" r="0.8"/><circle cx="3.6" cy="14.4" r="0.5"/><circle cx="12.1" cy="16.4" r="0.7"/><circle cx="23.2" cy="16.6" r="0.7"/><circle cx="27.2" cy="14" r="0.8"/><circle cx="33.1" cy="16.2" r="0.8"/><circle cx="74.6" cy="15.4" r="0.6"/><circle cx="87.2" cy="15.5" r="0.5"/><circle cx="99.4" cy="16.7" r="0.8"/><circle cx="104" cy="15.4" r="0.5"/><circle cx="112.6" cy="14.8" r="0.7"/><circle cx="144.2" cy="16" r="0.8"/><circle cx="149.2" cy="14.4" r="0.6"/><circle cx="1.7" cy="18.2" r="0.5"/><circle cx="9.3" cy="18.5" r="0.6"/><circle cx="14.1" cy="19.2" r="0.7"/><circle cx="38.9" cy="18.1" r="0.7"/><circle cx="75.8" cy="20.2" r="0.5"/><circle cx="89.6" cy="18.8" r="0.8"/><circle cx="103.9" cy="19.5" r="0.5"/><circle cx="135.2" cy="18.1" r="0.8"/><circle cx="139.5" cy="20.9" r="0.7"/><circle cx="4.8" cy="24.4" r="0.7"/><circle cx="36.9" cy="23" r="0.8"/><circle cx="43.4" cy="22.6" r="0.7"/><circle cx="58.5" cy="22.4" r="0.8"/><circle cx="68.6" cy="22.6" r="0.6"/><circle cx="73.8" cy="23.6" r="0.5"/><circle cx="76.7" cy="24.2" r="0.6"/><circle cx="81.7" cy="24.8" r="0.6"/><circle cx="91.7" cy="24.3" r="0.7"/><circle cx="102.6" cy="22.7" r="0.8"/><circle cx="128.8" cy="22.7" r="0.8"/><circle cx="9.3" cy="27.8" r="0.6"/><circle cx="15.4" cy="29" r="0.5"/><circle cx="26" cy="29.1" r="0.6"/><circle cx="74" cy="29.5" r="0.6"/><circle cx="86.8" cy="27.4" r="0.6"/><circle cx="94.5" cy="28.8" r="0.7"/><circle cx="104.2" cy="26.7" r="0.6"/><circle cx="113.6" cy="27.2" r="0.6"/><circle cx="146.6" cy="26.8" r="0.6"/><circle cx="151.5" cy="27.9" r="0.5"/><circle cx="-0.6" cy="33.4" r="0.7"/><circle cx="9" cy="33.3" r="0.5"/><circle cx="21.5" cy="33.3" r="0.5"/><circle cx="39.9" cy="32" r="0.6"/><circle cx="49.5" cy="31.7" r="0.7"/><circle cx="52.2" cy="32.1" r="0.7"/><circle cx="66.7" cy="33.3" r="0.8"/><circle cx="72.3" cy="32.7" r="0.7"/><circle cx="78" cy="32.3" r="0.5"/><circle cx="86.5" cy="33.7" r="0.5"/><circle cx="97.3" cy="32.6" r="0.6"/><circle cx="101.6" cy="31.2" r="0.8"/><circle cx="117.5" cy="32.1" r="0.6"/><circle cx="129.3" cy="31.6" r="0.5"/><circle cx="133.9" cy="31" r="0.5"/><circle cx="153.3" cy="33.8" r="0.8"/><circle cx="6.6" cy="36.3" r="0.6"/><circle cx="10.2" cy="36.6" r="0.7"/><circle cx="26.4" cy="36.1" r="0.5"/><circle cx="30.6" cy="36.1" r="0.5"/><circle cx="35.4" cy="36.7" r="0.6"/><circle cx="40.6" cy="37.1" r="0.7"/><circle cx="53.7" cy="37.9" r="0.7"/><circle cx="69.6" cy="37" r="0.5"/><circle cx="92.1" cy="37.8" r="0.5"/><circle cx="104.7" cy="37" r="0.5"/><circle cx="116" cy="36.6" r="0.7"/><circle cx="121.6" cy="37.2" r="0.7"/><circle cx="150.2" cy="38.6" r="0.5"/><circle cx="3" cy="43" r="0.6"/><circle cx="9.2" cy="41.7" r="0.7"/><circle cx="12" cy="39.9" r="0.5"/><circle cx="16.8" cy="41.3" r="0.8"/><circle cx="46.5" cy="40.7" r="0.8"/><circle cx="52.2" cy="41.3" r="0.7"/><circle cx="61.3" cy="42.2" r="0.6"/><circle cx="112.3" cy="43.1" r="0.5"/><circle cx="118.4" cy="40.2" r="0.7"/><circle cx="127.9" cy="42.2" r="0.7"/><circle cx="131.7" cy="40.5" r="0.5"/><circle cx="2.1" cy="46" r="0.5"/><circle cx="11.5" cy="44.6" r="0.6"/><circle cx="41.6" cy="45.9" r="0.7"/><circle cx="44.4" cy="46.6" r="0.6"/><circle cx="49.8" cy="44.5" r="0.6"/><circle cx="57.5" cy="46.1" r="0.5"/><circle cx="65.7" cy="47.5" r="0.5"/><circle cx="75.2" cy="44.7" r="0.7"/><circle cx="85.3" cy="45.7" r="0.7"/><circle cx="110.2" cy="44.9" r="0.6"/><circle cx="116.4" cy="45.9" r="0.6"/><circle cx="126.8" cy="46.5" r="0.5"/><circle cx="147.3" cy="45.2" r="0.5"/><circle cx="3.8" cy="49.1" r="0.5"/><circle cx="19.1" cy="50" r="0.5"/><circle cx="23.7" cy="49.1" r="0.5"/><circle cx="39.2" cy="48.8" r="0.7"/><circle cx="41.3" cy="48.9" r="0.5"/><circle cx="53.2" cy="51" r="0.6"/><circle cx="67.8" cy="50.8" r="0.7"/><circle cx="73.7" cy="48.4" r="0.7"/><circle cx="78.7" cy="50.3" r="0.5"/><circle cx="91.4" cy="48.9" r="0.6"/><circle cx="98" cy="51" r="0.7"/><circle cx="109.9" cy="49.9" r="0.6"/><circle cx="117.9" cy="50.4" r="0.5"/><circle cx="122.6" cy="51.1" r="0.7"/><circle cx="128.6" cy="49.8" r="0.6"/><circle cx="143.9" cy="51.4" r="0.5"/><circle cx="14.6" cy="54.4" r="0.7"/><circle cx="24.7" cy="54.7" r="0.8"/><circle cx="37.4" cy="53.6" r="0.7"/><circle cx="50.4" cy="53" r="0.7"/><circle cx="71.5" cy="55.3" r="0.8"/><circle cx="80.8" cy="53.5" r="0.6"/><circle cx="105.5" cy="54.1" r="0.7"/><circle cx="110" cy="53.1" r="0.7"/><circle cx="126.7" cy="52.7" r="0.7"/><circle cx="129.1" cy="54.2" r="0.6"/><circle cx="-3.6" cy="59.2" r="0.7"/><circle cx="14.1" cy="59.4" r="0.5"/><circle cx="21.6" cy="59.5" r="0.7"/><circle cx="32.6" cy="57.5" r="0.5"/><circle cx="36.9" cy="57.2" r="0.5"/><circle cx="44.1" cy="59.1" r="0.7"/><circle cx="48.1" cy="57.2" r="0.7"/><circle cx="83.1" cy="58.8" r="0.5"/><circle cx="88.8" cy="59.7" r="0.7"/><circle cx="116.8" cy="58.3" r="0.6"/><circle cx="133.4" cy="57" r="0.8"/><circle cx="152.9" cy="57.7" r="0.6"/><circle cx="1.3" cy="61.9" r="0.8"/><circle cx="4.7" cy="63.8" r="0.5"/><circle cx="49.2" cy="61.9" r="0.7"/><circle cx="74.5" cy="61.7" r="0.7"/><circle cx="85.1" cy="62.2" r="0.7"/><circle cx="95.1" cy="63.4" r="0.6"/><circle cx="109.1" cy="62.2" r="0.7"/><circle cx="120" cy="61.9" r="0.6"/><circle cx="126.2" cy="63.8" r="0.5"/><circle cx="149.4" cy="63.8" r="0.6"/><circle cx="13.2" cy="67.5" r="0.6"/><circle cx="21.9" cy="68.2" r="0.6"/><circle cx="39.5" cy="68.5" r="0.7"/><circle cx="51.6" cy="66.7" r="0.7"/><circle cx="67.5" cy="67.8" r="0.7"/><circle cx="77.7" cy="67.3" r="0.6"/><circle cx="98.4" cy="67.7" r="0.7"/><circle cx="107" cy="66.3" r="0.5"/><circle cx="114.7" cy="68.6" r="0.7"/><circle cx="6" cy="72.2" r="0.7"/><circle cx="9.5" cy="72.1" r="0.5"/><circle cx="14.9" cy="72.9" r="0.7"/><circle cx="26.7" cy="73.5" r="0.5"/><circle cx="34.2" cy="72.1" r="0.5"/><circle cx="52.3" cy="71.7" r="0.5"/><circle cx="60.9" cy="73.4" r="0.6"/><circle cx="64.9" cy="70.4" r="0.5"/><circle cx="75" cy="72.9" r="0.6"/><circle cx="96.9" cy="72.3" r="0.6"/><circle cx="105.2" cy="73.1" r="0.6"/><circle cx="109.6" cy="72.3" r="0.7"/><circle cx="148.7" cy="71.8" r="0.6"/><circle cx="9.5" cy="75.6" r="0.5"/><circle cx="11.5" cy="75.5" r="0.7"/><circle cx="18" cy="75.2" r="0.6"/><circle cx="37.5" cy="76" r="0.7"/><circle cx="42.7" cy="74.7" r="0.6"/><circle cx="101.3" cy="77.2" r="0.7"/><circle cx="113.1" cy="77.4" r="0.8"/><circle cx="117" cy="76.2" r="0.7"/><circle cx="132.4" cy="75.8" r="0.6"/><circle cx="151.7" cy="74.8" r="0.6"/><circle cx="6.7" cy="81.7" r="0.7"/><circle cx="20.4" cy="80.6" r="0.6"/><circle cx="24.7" cy="81.2" r="0.5"/><circle cx="61.1" cy="79.7" r="0.8"/><circle cx="64.2" cy="80.5" r="0.5"/><circle cx="90.8" cy="80.6" r="0.8"/><circle cx="96.2" cy="80.7" r="0.8"/><circle cx="99.5" cy="80.3" r="0.5"/><circle cx="111" cy="81.7" r="0.6"/><circle cx="11.7" cy="84.5" r="0.8"/><circle cx="21.7" cy="84.1" r="0.6"/><circle cx="26.3" cy="84.2" r="0.8"/><circle cx="86.9" cy="84.8" r="0.6"/><circle cx="107.7" cy="82.9" r="0.8"/><circle cx="112.1" cy="83.7" r="0.6"/><circle cx="124.4" cy="83.7" r="0.8"/><circle cx="20.3" cy="88.8" r="0.5"/><circle cx="40.9" cy="88.9" r="0.5"/><circle cx="60.2" cy="89.2" r="0.7"/><circle cx="82.4" cy="90.2" r="0.5"/><circle cx="102.3" cy="87.5" r="0.6"/><circle cx="120.9" cy="87.6" r="0.6"/><circle cx="125.4" cy="90.2" r="0.6"/><circle cx="139.7" cy="90.2" r="0.5"/><circle cx="18.1" cy="94.8" r="0.5"/><circle cx="24.4" cy="93.6" r="0.5"/><circle cx="41.8" cy="93.9" r="0.5"/><circle cx="62.9" cy="92.2" r="0.5"/><circle cx="72.8" cy="93.4" r="0.7"/><circle cx="79.2" cy="92.2" r="0.5"/><circle cx="86.6" cy="92.6" r="0.7"/><circle cx="119.4" cy="92.9" r="0.7"/><circle cx="121.1" cy="93.4" r="0.5"/><circle cx="127.5" cy="92.7" r="0.5"/><circle cx="134.2" cy="91.8" r="0.7"/><circle cx="146.4" cy="93.9" r="0.6"/><circle cx="12.5" cy="97.2" r="0.5"/><circle cx="76.6" cy="97" r="0.5"/><circle cx="85.5" cy="98.5" r="0.5"/><circle cx="110.3" cy="96.6" r="0.7"/><circle cx="120.6" cy="96.5" r="0.5"/><circle cx="126.6" cy="98.6" r="0.6"/><circle cx="131.4" cy="97" r="0.8"/><circle cx="135" cy="97.7" r="0.8"/><circle cx="-2.4" cy="102.8" r="0.8"/><circle cx="27.4" cy="102.5" r="0.6"/><circle cx="63.6" cy="102.2" r="0.8"/><circle cx="87.6" cy="102.5" r="0.8"/><circle cx="112.8" cy="100.6" r="0.6"/><circle cx="119.6" cy="103.2" r="0.7"/><circle cx="123.9" cy="102.2" r="0.7"/><circle cx="153.3" cy="101" r="0.7"/><circle cx="6.1" cy="106.8" r="0.7"/><circle cx="11.4" cy="105.2" r="0.5"/><circle cx="26.2" cy="105.9" r="0.7"/><circle cx="39.5" cy="106.1" r="0.6"/><circle cx="51.7" cy="105.7" r="0.6"/><circle cx="56.8" cy="105.7" r="0.7"/><circle cx="65.5" cy="105.1" r="0.7"/><circle cx="91.1" cy="104.8" r="0.7"/><circle cx="105.7" cy="106.9" r="0.6"/><circle cx="140.2" cy="106.6" r="0.7"/><circle cx="146.2" cy="104.9" r="0.7"/><circle cx="151.1" cy="106.7" r="0.7"/><circle cx="45" cy="110.4" r="0.8"/><circle cx="53.5" cy="111.9" r="0.6"/><circle cx="72.9" cy="111.3" r="0.7"/><circle cx="83.3" cy="111.6" r="0.5"/><circle cx="87.4" cy="111.7" r="0.7"/><circle cx="92.2" cy="110.9" r="0.5"/><circle cx="100" cy="111.1" r="0.6"/><circle cx="113.1" cy="111.5" r="0.8"/><circle cx="122.4" cy="109" r="0.7"/><circle cx="128.2" cy="110.3" r="0.8"/><circle cx="-0.2" cy="115.4" r="0.6"/><circle cx="4.6" cy="114.7" r="0.8"/><circle cx="14.7" cy="114.2" r="0.6"/><circle cx="30" cy="113.6" r="0.7"/><circle cx="35.8" cy="115.9" r="0.6"/><circle cx="47.1" cy="113.9" r="0.7"/><circle cx="49.1" cy="114.1" r="0.5"/><circle cx="60.4" cy="115.6" r="0.7"/><circle cx="66.9" cy="114.3" r="0.5"/><circle cx="74.3" cy="115" r="0.5"/><circle cx="85" cy="114.4" r="0.5"/><circle cx="89" cy="115.5" r="0.7"/><circle cx="94.1" cy="116.3" r="0.6"/><circle cx="119.9" cy="113.4" r="0.5"/><circle cx="130.9" cy="114.9" r="0.7"/></g></g>
</svg>
<text x="0" y="0" font-size="10.7" font-weight="bold" fill="#f7f7f2" stroke="#f7f7f2" stroke-width="0.55" transform="translate(223.2 265.9) scale(0.935 1)">shScramble</text>
<text x="0" y="0" font-size="10.7" font-weight="bold" fill="#f7f7f2" stroke="#f7f7f2" stroke-width="0.55" transform="translate(223.2 280.2) scale(0.935 1)">100% Adipocytes</text>
<path d="M332 348.8H365" stroke="#c8c8c8" stroke-width="1.2"/>
<svg x="377" y="253" width="151" height="112.7" viewBox="0 0 151 112.7" overflow="hidden">
<rect width="151" height="112.7" fill="#abb38a"/>
<g filter="url(#blur)"><g fill="none" stroke="#8a8e5c" stroke-width="0.8" opacity="0.22"><circle cx="145.8" cy="1.3" r="3.5"/><circle cx="23.9" cy="111.2" r="2"/><circle cx="132.8" cy="76.8" r="3.7"/><circle cx="151" cy="27" r="2.7"/><circle cx="106.9" cy="31.6" r="2.5"/><circle cx="34.5" cy="96.7" r="3.7"/><circle cx="120.4" cy="25.2" r="3.8"/><circle cx="77.2" cy="26.1" r="2.9"/><circle cx="63.4" cy="8.9" r="3.1"/><circle cx="54.4" cy="64.2" r="3.9"/><circle cx="97.5" cy="45.7" r="3.7"/><circle cx="150.3" cy="55.3" r="3.9"/><circle cx="2.8" cy="15.8" r="2.3"/><circle cx="141.6" cy="77.8" r="3.4"/><circle cx="43.3" cy="55.8" r="3.8"/><circle cx="15.1" cy="13.1" r="2.1"/><circle cx="70.8" cy="94.7" r="3.1"/><circle cx="60.6" cy="56.6" r="2.4"/><circle cx="143.2" cy="39.9" r="2.5"/><circle cx="47" cy="93" r="2.6"/><circle cx="136.6" cy="37.9" r="2.9"/><circle cx="11.2" cy="102.3" r="3.6"/><circle cx="71.6" cy="13" r="3"/><circle cx="56.8" cy="94.7" r="3.9"/><circle cx="111.9" cy="32.4" r="2.1"/><circle cx="135" cy="106.4" r="2.3"/><circle cx="75.5" cy="54.2" r="4"/><circle cx="6.5" cy="7" r="3.7"/><circle cx="86" cy="52.1" r="3.6"/><circle cx="89.6" cy="78" r="2.5"/><circle cx="12.8" cy="1" r="2.7"/><circle cx="97.9" cy="42.8" r="2.7"/><circle cx="93.4" cy="79.5" r="3.2"/><circle cx="47.1" cy="92.6" r="3.6"/><circle cx="134.9" cy="100.6" r="2"/><circle cx="101" cy="39.2" r="2.8"/><circle cx="78.2" cy="16.2" r="2.5"/><circle cx="148.9" cy="37.3" r="3.8"/><circle cx="103.3" cy="35.5" r="2.6"/><circle cx="91.3" cy="79.1" r="2.7"/></g><circle cx="3.1" cy="2.3" r="2.3" fill="#6a2e10" opacity="0.85"/><circle cx="18.7" cy="6.2" r="1.5" fill="none" stroke="#857d4c" stroke-width="1" opacity="0.7"/><circle cx="44.3" cy="4.7" r="2" fill="none" stroke="#857d4c" stroke-width="1" opacity="0.7"/><circle cx="56" cy="6.2" r="1.9" fill="#9a7444" fill-opacity="0.35" stroke="#80401a" stroke-width="0.9" stroke-opacity="0.85"/><circle cx="73.1" cy="8.6" r="2.3" fill="#80502a" fill-opacity="0.5" stroke="#652c0e" stroke-width="1.2" stroke-opacity="0.9"/><circle cx="35.8" cy="18.4" r="2.6" fill="#6a2e10" opacity="0.85"/><circle cx="4.4" cy="17.1" r="2.1" fill="#6a2e10" opacity="0.85"/><circle cx="21.8" cy="23.3" r="1.7" fill="#6a2e10" opacity="0.85"/><circle cx="73.1" cy="21.8" r="1.9" fill="#9a7444" fill-opacity="0.35" stroke="#80401a" stroke-width="0.9" stroke-opacity="0.85"/><circle cx="11.7" cy="37.3" r="2.1" fill="#80502a" fill-opacity="0.5" stroke="#652c0e" stroke-width="1.1" stroke-opacity="0.9"/><circle cx="10.9" cy="43.5" r="2.2" fill="#9a7444" fill-opacity="0.35" stroke="#80401a" stroke-width="1" stroke-opacity="0.85"/><circle cx="45.1" cy="37.3" r="2.4" fill="none" stroke="#857d4c" stroke-width="1" opacity="0.7"/><circle cx="56" cy="38.1" r="1.5" fill="#6a2e10" opacity="0.85"/><circle cx="17.1" cy="52.1" r="2.5" fill="#9a7444" fill-opacity="0.35" stroke="#80401a" stroke-width="1.1" stroke-opacity="0.85"/><circle cx="31.1" cy="52.1" r="1.7" fill="#6a2e10" opacity="0.85"/><circle cx="38.1" cy="51.3" r="2.9" fill="#6a2e10" opacity="0.85"/><circle cx="43.5" cy="51.3" r="1.8" fill="#6a2e10" opacity="0.85"/><circle cx="3.1" cy="52.9" r="1.7" fill="#6a2e10" opacity="0.85"/><circle cx="74.6" cy="40.4" r="1.5" fill="#6a2e10" opacity="0.85"/><circle cx="65.3" cy="51.3" r="2" fill="none" stroke="#857d4c" stroke-width="1" opacity="0.7"/><circle cx="93.4" cy="2.3" r="2.2" fill="#9a7444" fill-opacity="0.35" stroke="#80401a" stroke-width="1" stroke-opacity="0.85"/><circle cx="124.5" cy="3.1" r="2.6" fill="#6a2e10" opacity="0.85"/><circle cx="80.2" cy="9.6" r="3.2" fill="#6a2e10" opacity="0.85"/><circle cx="107.4" cy="11.6" r="3.2" fill="#9a7444" fill-opacity="0.35" stroke="#80401a" stroke-width="1.4" stroke-opacity="0.85"/><circle cx="119" cy="13.7" r="2.6" fill="#80502a" fill-opacity="0.5" stroke="#652c0e" stroke-width="1.3" stroke-opacity="0.9"/><circle cx="126" cy="9.3" r="2.6" fill="#9a7444" fill-opacity="0.35" stroke="#80401a" stroke-width="1.2" stroke-opacity="0.85"/><circle cx="141.5" cy="7.5" r="2.9" fill="#80502a" fill-opacity="0.5" stroke="#652c0e" stroke-width="1.4" stroke-opacity="0.9"/><circle cx="145.4" cy="5.4" r="2.4" fill="#9a7444" fill-opacity="0.35" stroke="#80401a" stroke-width="1" stroke-opacity="0.85"/><circle cx="119" cy="18.6" r="3.2" fill="#6a2e10" opacity="0.85"/><circle cx="130.7" cy="16.8" r="2.4" fill="none" stroke="#857d4c" stroke-width="1" opacity="0.7"/><circle cx="81.8" cy="21.7" r="2.2" fill="#9a7444" fill-opacity="0.35" stroke="#80401a" stroke-width="1" stroke-opacity="0.85"/><circle cx="115.1" cy="22.5" r="2" fill="none" stroke="#857d4c" stroke-width="1" opacity="0.7"/><circle cx="131.5" cy="25.6" r="3.1" fill="#6a2e10" opacity="0.85"/><circle cx="136.1" cy="29.8" r="2.6" fill="#6a2e10" opacity="0.85"/><circle cx="99.6" cy="29.5" r="2.6" fill="#80502a" fill-opacity="0.5" stroke="#652c0e" stroke-width="1.3" stroke-opacity="0.9"/><circle cx="93.4" cy="32.6" r="2.1" fill="#9a7444" fill-opacity="0.35" stroke="#80401a" stroke-width="0.9" stroke-opacity="0.85"/><circle cx="103.5" cy="37.3" r="4.5" fill="#6e3212" opacity="0.88"/><circle cx="103.5" cy="37.3" r="2.5" fill="#3e1a08" opacity="0.8"/><circle cx="81" cy="35" r="1.5" fill="#6a2e10" opacity="0.85"/><circle cx="75.6" cy="40.7" r="1.5" fill="#6a2e10" opacity="0.85"/><circle cx="119.8" cy="40.7" r="2.2" fill="#9a7444" fill-opacity="0.35" stroke="#80401a" stroke-width="1" stroke-opacity="0.85"/><circle cx="133" cy="39.1" r="1.9" fill="#9a7444" fill-opacity="0.35" stroke="#80401a" stroke-width="0.9" stroke-opacity="0.85"/><circle cx="112" cy="45.8" r="2.5" fill="#6a2e10" opacity="0.85"/><circle cx="127.6" cy="45.8" r="2.3" fill="#80502a" fill-opacity="0.5" stroke="#652c0e" stroke-width="1.2" stroke-opacity="0.9"/><circle cx="90.3" cy="47.4" r="1.5" fill="#6a2e10" opacity="0.85"/><circle cx="94.2" cy="51.2" r="3.6" fill="#6e3212" opacity="0.88"/><circle cx="94.2" cy="51.2" r="2" fill="#3e1a08" opacity="0.8"/><circle cx="81" cy="52.8" r="1.5" fill="#6a2e10" opacity="0.85"/><circle cx="140.8" cy="49.7" r="2" fill="none" stroke="#857d4c" stroke-width="1" opacity="0.7"/><circle cx="17.4" cy="55.8" r="2.3" fill="#6a2e10" opacity="0.85"/><circle cx="38.7" cy="58.2" r="2" fill="#80502a" fill-opacity="0.5" stroke="#652c0e" stroke-width="1.1" stroke-opacity="0.9"/><circle cx="3.2" cy="61.3" r="2.9" fill="#6a2e10" opacity="0.85"/><circle cx="9.5" cy="66.1" r="2.1" fill="#9a7444" fill-opacity="0.35" stroke="#80401a" stroke-width="0.9" stroke-opacity="0.85"/><circle cx="22.9" cy="74.7" r="2.5" fill="#9a7444" fill-opacity="0.35" stroke="#80401a" stroke-width="1.1" stroke-opacity="0.85"/><circle cx="42.7" cy="69.2" r="1.4" fill="#6a2e10" opacity="0.85"/><circle cx="48.2" cy="74" r="1.7" fill="#6a2e10" opacity="0.85"/><circle cx="67.9" cy="60.5" r="1.4" fill="#6a2e10" opacity="0.85"/><circle cx="11.8" cy="80.3" r="2" fill="#6a2e10" opacity="0.85"/><circle cx="6.3" cy="84.2" r="2.5" fill="#80502a" fill-opacity="0.5" stroke="#652c0e" stroke-width="1.2" stroke-opacity="0.9"/><circle cx="19" cy="89" r="2.5" fill="#6a2e10" opacity="0.85"/><circle cx="30.8" cy="86.6" r="2.1" fill="#9a7444" fill-opacity="0.35" stroke="#80401a" stroke-width="0.9" stroke-opacity="0.85"/><circle cx="36.3" cy="87.4" r="1.7" fill="#6a2e10" opacity="0.85"/><circle cx="32.4" cy="92.1" r="2.3" fill="#6a2e10" opacity="0.85"/><circle cx="60.8" cy="82.2" r="3.2" fill="#6e3212" opacity="0.88"/><circle cx="60.8" cy="82.2" r="1.8" fill="#3e1a08" opacity="0.8"/><circle cx="66.3" cy="82.6" r="3.2" fill="#6e3212" opacity="0.88"/><circle cx="66.3" cy="82.6" r="1.8" fill="#3e1a08" opacity="0.8"/><circle cx="73.5" cy="83.4" r="1.7" fill="#6a2e10" opacity="0.85"/><circle cx="61.6" cy="89" r="2.3" fill="#9a7444" fill-opacity="0.35" stroke="#80401a" stroke-width="1" stroke-opacity="0.85"/><circle cx="71.9" cy="89" r="2" fill="none" stroke="#857d4c" stroke-width="1" opacity="0.7"/><circle cx="18.2" cy="97.3" r="2.5" fill="#9a7444" fill-opacity="0.35" stroke="#80401a" stroke-width="1.1" stroke-opacity="0.85"/><circle cx="7.9" cy="100.8" r="1.5" fill="#6a2e10" opacity="0.85"/><circle cx="11.1" cy="105.6" r="2.3" fill="#9a7444" fill-opacity="0.35" stroke="#80401a" stroke-width="1" stroke-opacity="0.85"/><circle cx="44.2" cy="103.2" r="2.4" fill="none" stroke="#857d4c" stroke-width="1" opacity="0.7"/><circle cx="64.8" cy="103.2" r="2.5" fill="#6e3212" opacity="0.88"/><circle cx="64.8" cy="103.2" r="1.4" fill="#3e1a08" opacity="0.8"/><circle cx="2.4" cy="110.3" r="1.7" fill="#6a2e10" opacity="0.85"/><circle cx="64.8" cy="111.1" r="1.5" fill="#6a2e10" opacity="0.85"/><circle cx="47.4" cy="93.7" r="1.4" fill="#6a2e10" opacity="0.85"/><circle cx="78.7" cy="56.6" r="2.3" fill="#6a2e10" opacity="0.85"/><circle cx="99.3" cy="62.1" r="2.2" fill="#80502a" fill-opacity="0.5" stroke="#652c0e" stroke-width="1.1" stroke-opacity="0.9"/><circle cx="119.9" cy="57.4" r="2.1" fill="#9a7444" fill-opacity="0.35" stroke="#80401a" stroke-width="0.9" stroke-opacity="0.85"/><circle cx="87.4" cy="67.7" r="2.2" fill="#6a2e10" opacity="0.85"/><circle cx="80.3" cy="74.8" r="2.3" fill="#80502a" fill-opacity="0.5" stroke="#652c0e" stroke-width="1.2" stroke-opacity="0.9"/><circle cx="105.6" cy="75.6" r="2.3" fill="#9a7444" fill-opacity="0.35" stroke="#80401a" stroke-width="1" stroke-opacity="0.85"/><circle cx="142.8" cy="73.2" r="1.5" fill="#6a2e10" opacity="0.85"/><circle cx="140.5" cy="78.7" r="2.8" fill="#6a2e10" opacity="0.85"/><circle cx="97" cy="83.2" r="2.9" fill="#6e3212" opacity="0.88"/><circle cx="97" cy="83.2" r="1.6" fill="#3e1a08" opacity="0.8"/><circle cx="123" cy="82.7" r="2.9" fill="#9a7444" fill-opacity="0.35" stroke="#80401a" stroke-width="1.3" stroke-opacity="0.85"/><circle cx="112.8" cy="86.6" r="2.1" fill="#6a2e10" opacity="0.85"/><circle cx="134.9" cy="87.4" r="2.3" fill="#9a7444" fill-opacity="0.35" stroke="#80401a" stroke-width="1" stroke-opacity="0.85"/><circle cx="74.8" cy="84.3" r="1.7" fill="#6a2e10" opacity="0.85"/><circle cx="106.4" cy="90.6" r="2.3" fill="#9a7444" fill-opacity="0.35" stroke="#80401a" stroke-width="1" stroke-opacity="0.85"/><circle cx="137.3" cy="93" r="2" fill="#6a2e10" opacity="0.85"/><circle cx="102.5" cy="96.9" r="2.9" fill="#6e3212" opacity="0.88"/><circle cx="102.5" cy="96.9" r="1.6" fill="#3e1a08" opacity="0.8"/><circle cx="108.8" cy="95.8" r="2.9" fill="#6e3212" opacity="0.88"/><circle cx="108.8" cy="95.8" r="1.6" fill="#3e1a08" opacity="0.8"/><circle cx="86.7" cy="98.5" r="2.3" fill="#6e3212" opacity="0.88"/><circle cx="86.7" cy="98.5" r="1.3" fill="#3e1a08" opacity="0.8"/><circle cx="106.4" cy="100.9" r="1.9" fill="#9a7444" fill-opacity="0.35" stroke="#80401a" stroke-width="0.9" stroke-opacity="0.85"/><circle cx="113.6" cy="103.3" r="2.4" fill="none" stroke="#857d4c" stroke-width="1" opacity="0.7"/><circle cx="131.8" cy="103.3" r="1.5" fill="#6a2e10" opacity="0.85"/><circle cx="118.3" cy="108.8" r="3.1" fill="#6e3212" opacity="0.88"/><circle cx="118.3" cy="108.8" r="1.7" fill="#3e1a08" opacity="0.8"/><circle cx="136.5" cy="108.8" r="3.6" fill="#6e3212" opacity="0.88"/><circle cx="136.5" cy="108.8" r="2" fill="#3e1a08" opacity="0.8"/><circle cx="147.6" cy="96.9" r="2" fill="none" stroke="#857d4c" stroke-width="1" opacity="0.7"/></g>
</svg>
<text x="0" y="0" font-size="10.7" font-weight="bold" fill="#f7f7f2" stroke="#f7f7f2" stroke-width="0.55" transform="translate(382.1 269.3) scale(0.935 1)">shUHRF1 C1</text>
<text x="0" y="0" font-size="10.7" font-weight="bold" fill="#f7f7f2" stroke="#f7f7f2" stroke-width="0.55" transform="translate(382.1 283.9) scale(0.935 1)">33% Adipocytes</text>
<path d="M488.6 349.4H521.7" stroke="#d8d8d8" stroke-width="1.2"/>
<svg x="534" y="253" width="150" height="112.7" viewBox="0 0 150 112.7" overflow="hidden">
<rect width="150" height="112.7" fill="#abb38a"/>
<g filter="url(#blur)"><g fill="none" stroke="#8a8e5c" stroke-width="0.8" opacity="0.22"><circle cx="54.2" cy="54.2" r="2.8"/><circle cx="67" cy="46.2" r="3.3"/><circle cx="38.8" cy="71.6" r="2"/><circle cx="45.3" cy="37.8" r="2.3"/><circle cx="111.5" cy="34.9" r="3.6"/><circle cx="143.4" cy="28.6" r="3.8"/><circle cx="121.1" cy="75.2" r="2.1"/><circle cx="68.5" cy="70.6" r="2.6"/><circle cx="33.7" cy="34.9" r="2.5"/><circle cx="118.2" cy="39.2" r="2.8"/><circle cx="96.5" cy="106.9" r="2.6"/><circle cx="6.6" cy="109.8" r="3.7"/><circle cx="118.5" cy="59" r="2.5"/><circle cx="23.2" cy="34.3" r="2.9"/><circle cx="9.9" cy="78.8" r="3.5"/><circle cx="2" cy="94.9" r="3"/><circle cx="137.8" cy="53.5" r="3.6"/><circle cx="68.1" cy="69.1" r="3"/><circle cx="3.4" cy="16.2" r="2.5"/><circle cx="60.9" cy="41.6" r="3.1"/><circle cx="98.9" cy="45.1" r="2.6"/><circle cx="76.7" cy="107.4" r="3.6"/><circle cx="98.3" cy="92.1" r="2.5"/><circle cx="15.1" cy="10.5" r="2.2"/><circle cx="1.4" cy="70.5" r="3.8"/><circle cx="17" cy="77.4" r="3.9"/><circle cx="114.8" cy="17.3" r="3.3"/><circle cx="38.3" cy="20.1" r="2"/><circle cx="78.8" cy="103.6" r="2.2"/><circle cx="22.1" cy="43.8" r="2.1"/><circle cx="69.7" cy="82.3" r="2.9"/><circle cx="5.9" cy="3.4" r="2.4"/><circle cx="100.1" cy="104.2" r="3"/><circle cx="15.5" cy="24.3" r="2.8"/><circle cx="16.2" cy="13.1" r="2.9"/><circle cx="126.1" cy="26.8" r="3.8"/><circle cx="131.4" cy="48.8" r="2.4"/><circle cx="27.7" cy="75.2" r="3.7"/><circle cx="129.1" cy="23.5" r="2.9"/><circle cx="3.3" cy="34.3" r="2.6"/></g><circle cx="7" cy="5.4" r="2.2" fill="#9a7444" fill-opacity="0.35" stroke="#80401a" stroke-width="1" stroke-opacity="0.85"/><circle cx="14.8" cy="3.1" r="1.7" fill="#6a2e10" opacity="0.85"/><circle cx="37.3" cy="2.3" r="1.7" fill="#6a2e10" opacity="0.85"/><circle cx="61.4" cy="2.3" r="2.6" fill="#80502a" fill-opacity="0.5" stroke="#652c0e" stroke-width="1.3" stroke-opacity="0.9"/><circle cx="32.7" cy="19.4" r="3.2" fill="#6e3212" opacity="0.88"/><circle cx="32.7" cy="19.4" r="1.8" fill="#3e1a08" opacity="0.8"/><circle cx="38.9" cy="18.7" r="3.2" fill="#6e3212" opacity="0.88"/><circle cx="38.9" cy="18.7" r="1.8" fill="#3e1a08" opacity="0.8"/><circle cx="44.3" cy="21" r="2.6" fill="#9a7444" fill-opacity="0.35" stroke="#80401a" stroke-width="1.2" stroke-opacity="0.85"/><circle cx="24.9" cy="18.7" r="1.5" fill="#6a2e10" opacity="0.85"/><circle cx="22.6" cy="32.7" r="2" fill="#6a2e10" opacity="0.85"/><circle cx="36.5" cy="38.1" r="3.6" fill="#6e3212" opacity="0.88"/><circle cx="36.5" cy="38.1" r="2" fill="#3e1a08" opacity="0.8"/><circle cx="52.9" cy="35.8" r="2.6" fill="#9a7444" fill-opacity="0.35" stroke="#80401a" stroke-width="1.2" stroke-opacity="0.85"/><circle cx="61.4" cy="20.2" r="2.4" fill="none" stroke="#857d4c" stroke-width="1" opacity="0.7"/><circle cx="74.6" cy="20.2" r="1.5" fill="#6a2e10" opacity="0.85"/><circle cx="11.7" cy="42.8" r="1.9" fill="#9a7444" fill-opacity="0.35" stroke="#80401a" stroke-width="0.9" stroke-opacity="0.85"/><circle cx="34.2" cy="52.9" r="2.6" fill="#9a7444" fill-opacity="0.35" stroke="#80401a" stroke-width="1.2" stroke-opacity="0.85"/><circle cx="46.7" cy="54.4" r="1.5" fill="#6a2e10" opacity="0.85"/><circle cx="67.7" cy="53.7" r="1.7" fill="#6a2e10" opacity="0.85"/><circle cx="72.3" cy="35.8" r="1.5" fill="none" stroke="#857d4c" stroke-width="1" opacity="0.7"/><circle cx="92.6" cy="3.9" r="3.6" fill="#6e3212" opacity="0.88"/><circle cx="92.6" cy="3.9" r="2" fill="#3e1a08" opacity="0.8"/><circle cx="94.2" cy="7" r="2.9" fill="#6e3212" opacity="0.88"/><circle cx="94.2" cy="7" r="1.6" fill="#3e1a08" opacity="0.8"/><circle cx="79.4" cy="8.5" r="2.4" fill="#9a7444" fill-opacity="0.35" stroke="#80401a" stroke-width="1" stroke-opacity="0.85"/><circle cx="133" cy="2.3" r="2.1" fill="#9a7444" fill-opacity="0.35" stroke="#80401a" stroke-width="0.9" stroke-opacity="0.85"/><circle cx="107.4" cy="9.3" r="1.5" fill="#6a2e10" opacity="0.85"/><circle cx="109" cy="12.1" r="1.5" fill="#6a2e10" opacity="0.85"/><circle cx="81" cy="16.3" r="2.6" fill="#80502a" fill-opacity="0.5" stroke="#652c0e" stroke-width="1.3" stroke-opacity="0.9"/><circle cx="76.3" cy="21" r="2.5" fill="#6a2e10" opacity="0.85"/><circle cx="120.6" cy="24.8" r="1.8" fill="#80502a" fill-opacity="0.5" stroke="#652c0e" stroke-width="1.1" stroke-opacity="0.9"/><circle cx="132.2" cy="23" r="2.6" fill="#80502a" fill-opacity="0.5" stroke="#652c0e" stroke-width="1.3" stroke-opacity="0.9"/><circle cx="142.3" cy="26.4" r="2.2" fill="#9a7444" fill-opacity="0.35" stroke="#80401a" stroke-width="1" stroke-opacity="0.85"/><circle cx="146.2" cy="24.8" r="1.9" fill="#9a7444" fill-opacity="0.35" stroke="#80401a" stroke-width="0.9" stroke-opacity="0.85"/><circle cx="96.5" cy="36" r="3" fill="#6e3212" opacity="0.88"/><circle cx="96.5" cy="36" r="1.6" fill="#3e1a08" opacity="0.8"/><circle cx="113.6" cy="38" r="2.2" fill="#9a7444" fill-opacity="0.35" stroke="#80401a" stroke-width="1" stroke-opacity="0.85"/><circle cx="129.1" cy="40.4" r="2.4" fill="#9a7444" fill-opacity="0.35" stroke="#80401a" stroke-width="1" stroke-opacity="0.85"/><circle cx="136.1" cy="45" r="2.6" fill="#6a2e10" opacity="0.85"/><circle cx="79.4" cy="39.6" r="2.2" fill="none" stroke="#857d4c" stroke-width="1" opacity="0.7"/><circle cx="148.5" cy="35.7" r="1.7" fill="#6a2e10" opacity="0.85"/><circle cx="104.3" cy="52.8" r="2" fill="#80502a" fill-opacity="0.5" stroke="#652c0e" stroke-width="1.1" stroke-opacity="0.9"/><circle cx="107.4" cy="53.6" r="1.7" fill="#6a2e10" opacity="0.85"/><circle cx="112.8" cy="47.4" r="1.5" fill="#6a2e10" opacity="0.85"/><circle cx="102.7" cy="14" r="1.5" fill="none" stroke="#857d4c" stroke-width="1" opacity="0.7"/><circle cx="34" cy="55.8" r="1.9" fill="#9a7444" fill-opacity="0.35" stroke="#80401a" stroke-width="0.9" stroke-opacity="0.85"/><circle cx="45.8" cy="55.8" r="1.7" fill="#6a2e10" opacity="0.85"/><circle cx="66.4" cy="63.7" r="2.6" fill="#80502a" fill-opacity="0.5" stroke="#652c0e" stroke-width="1.3" stroke-opacity="0.9"/><circle cx="72.7" cy="66.8" r="2.3" fill="#6a2e10" opacity="0.85"/><circle cx="27.6" cy="66.8" r="2.4" fill="#9a7444" fill-opacity="0.35" stroke="#80401a" stroke-width="1" stroke-opacity="0.85"/><circle cx="11.1" cy="66.1" r="1.5" fill="#6a2e10" opacity="0.85"/><circle cx="49" cy="71.6" r="2.3" fill="#80502a" fill-opacity="0.5" stroke="#652c0e" stroke-width="1.2" stroke-opacity="0.9"/><circle cx="59.2" cy="78.7" r="3.6" fill="#6e3212" opacity="0.88"/><circle cx="59.2" cy="78.7" r="2" fill="#3e1a08" opacity="0.8"/><circle cx="74.2" cy="84.2" r="2.9" fill="#6a2e10" opacity="0.85"/><circle cx="2.4" cy="86.6" r="2.2" fill="#80502a" fill-opacity="0.5" stroke="#652c0e" stroke-width="1.1" stroke-opacity="0.9"/><circle cx="50.6" cy="85" r="2.3" fill="#9a7444" fill-opacity="0.35" stroke="#80401a" stroke-width="1" stroke-opacity="0.85"/><circle cx="33.2" cy="90.5" r="2.4" fill="#9a7444" fill-opacity="0.35" stroke="#80401a" stroke-width="1" stroke-opacity="0.85"/><circle cx="65.6" cy="86.6" r="1.9" fill="#9a7444" fill-opacity="0.35" stroke="#80401a" stroke-width="0.9" stroke-opacity="0.85"/><circle cx="13.4" cy="95.3" r="2.6" fill="#9a7444" fill-opacity="0.35" stroke="#80401a" stroke-width="1.2" stroke-opacity="0.85"/><circle cx="7.9" cy="97.7" r="1.5" fill="#6a2e10" opacity="0.85"/><circle cx="73.5" cy="99.2" r="2.6" fill="#9a7444" fill-opacity="0.35" stroke="#80401a" stroke-width="1.2" stroke-opacity="0.85"/><circle cx="26.9" cy="107.9" r="2.3" fill="#9a7444" fill-opacity="0.35" stroke="#80401a" stroke-width="1" stroke-opacity="0.85"/><circle cx="33.2" cy="110.3" r="1.7" fill="#6a2e10" opacity="0.85"/><circle cx="53.7" cy="108.7" r="2" fill="none" stroke="#857d4c" stroke-width="1" opacity="0.7"/><circle cx="70.3" cy="110.3" r="1.7" fill="#6a2e10" opacity="0.85"/><circle cx="67.9" cy="82.6" r="2" fill="none" stroke="#857d4c" stroke-width="1" opacity="0.7"/><circle cx="108" cy="57.4" r="2.3" fill="#80502a" fill-opacity="0.5" stroke="#652c0e" stroke-width="1.2" stroke-opacity="0.9"/><circle cx="120.7" cy="58.2" r="2.2" fill="#80502a" fill-opacity="0.5" stroke="#652c0e" stroke-width="1.1" stroke-opacity="0.9"/><circle cx="121.5" cy="65.3" r="2.2" fill="#80502a" fill-opacity="0.5" stroke="#652c0e" stroke-width="1.1" stroke-opacity="0.9"/><circle cx="127.8" cy="62.1" r="2.3" fill="#9a7444" fill-opacity="0.35" stroke="#80401a" stroke-width="1" stroke-opacity="0.85"/><circle cx="127.8" cy="67.7" r="1.9" fill="#9a7444" fill-opacity="0.35" stroke="#80401a" stroke-width="0.9" stroke-opacity="0.85"/><circle cx="137.3" cy="59.7" r="2.9" fill="#6e3212" opacity="0.88"/><circle cx="137.3" cy="59.7" r="1.6" fill="#3e1a08" opacity="0.8"/><circle cx="142" cy="63.7" r="2.6" fill="#80502a" fill-opacity="0.5" stroke="#652c0e" stroke-width="1.3" stroke-opacity="0.9"/><circle cx="93.8" cy="62.9" r="3.6" fill="#6e3212" opacity="0.88"/><circle cx="93.8" cy="62.9" r="2" fill="#3e1a08" opacity="0.8"/><circle cx="74.8" cy="66.1" r="1.7" fill="#6a2e10" opacity="0.85"/><circle cx="82.7" cy="72.4" r="1.9" fill="#9a7444" fill-opacity="0.35" stroke="#80401a" stroke-width="0.9" stroke-opacity="0.85"/><circle cx="81.1" cy="77.2" r="1.9" fill="#9a7444" fill-opacity="0.35" stroke="#80401a" stroke-width="0.9" stroke-opacity="0.85"/><circle cx="88.2" cy="78.4" r="1.5" fill="#6a2e10" opacity="0.85"/><circle cx="77.2" cy="85.1" r="3.6" fill="#80502a" fill-opacity="0.5" stroke="#652c0e" stroke-width="1.8" stroke-opacity="0.9"/><circle cx="85.1" cy="83.5" r="2.3" fill="#6a2e10" opacity="0.85"/><circle cx="89.8" cy="84.3" r="1.9" fill="#9a7444" fill-opacity="0.35" stroke="#80401a" stroke-width="0.9" stroke-opacity="0.85"/><circle cx="108.8" cy="78.7" r="2.6" fill="#9a7444" fill-opacity="0.35" stroke="#80401a" stroke-width="1.2" stroke-opacity="0.85"/><circle cx="115.9" cy="81.9" r="2.2" fill="#9a7444" fill-opacity="0.35" stroke="#80401a" stroke-width="1" stroke-opacity="0.85"/><circle cx="108" cy="91.4" r="3.2" fill="#6e3212" opacity="0.88"/><circle cx="108" cy="91.4" r="1.8" fill="#3e1a08" opacity="0.8"/><circle cx="74.8" cy="100.1" r="2.3" fill="#80502a" fill-opacity="0.5" stroke="#652c0e" stroke-width="1.2" stroke-opacity="0.9"/><circle cx="86.7" cy="103.3" r="2.3" fill="#9a7444" fill-opacity="0.35" stroke="#80401a" stroke-width="1" stroke-opacity="0.85"/><circle cx="101.7" cy="103.3" r="2.3" fill="#9a7444" fill-opacity="0.35" stroke="#80401a" stroke-width="1" stroke-opacity="0.85"/><circle cx="89.8" cy="108.8" r="1.5" fill="#6a2e10" opacity="0.85"/><circle cx="136.5" cy="100.1" r="2" fill="none" stroke="#857d4c" stroke-width="1" opacity="0.7"/><circle cx="145.2" cy="77.9" r="2" fill="none" stroke="#857d4c" stroke-width="1" opacity="0.7"/></g>
</svg>
<text x="0" y="0" font-size="10.7" font-weight="bold" fill="#f7f7f2" stroke="#f7f7f2" stroke-width="0.55" transform="translate(535.5 268.9) scale(0.935 1)">shUHRF1 C2</text>
<text x="0" y="0" font-size="10.7" font-weight="bold" fill="#f7f7f2" stroke="#f7f7f2" stroke-width="0.55" transform="translate(535.5 283.2) scale(0.935 1)">27% Adipocytes</text>
<path d="M645.9 349.4H678" stroke="#d8d8d8" stroke-width="1.2"/>
</svg>
</body></html>
